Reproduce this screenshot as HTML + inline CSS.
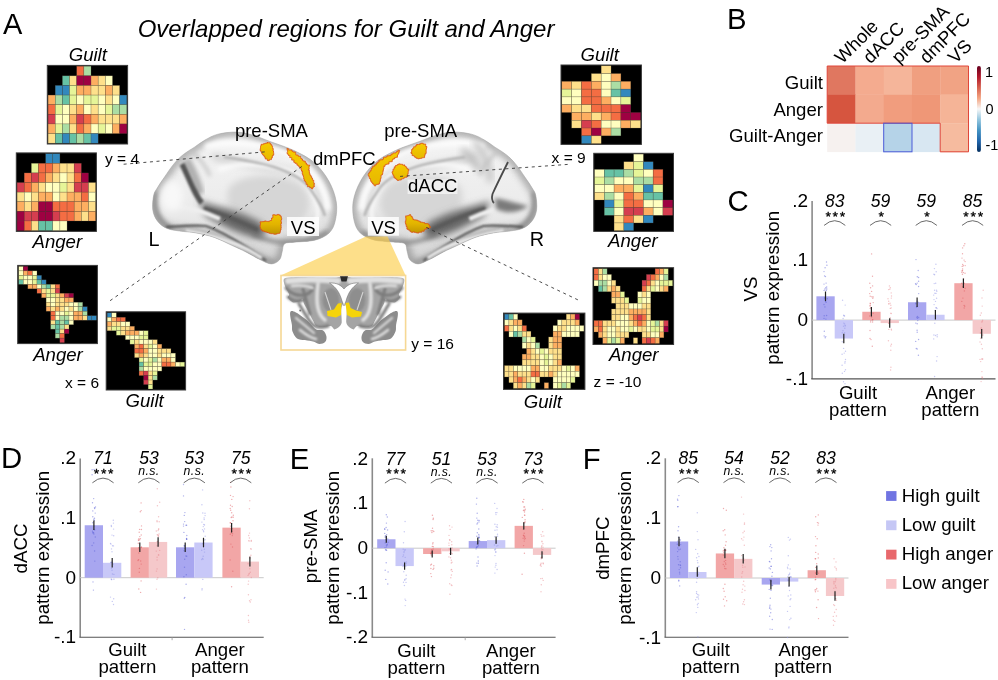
<!DOCTYPE html>
<html><head><meta charset="utf-8"><title>Overlapped regions for Guilt and Anger</title>
<style>
html,body{margin:0;padding:0;background:#fff;width:998px;height:680px;overflow:hidden;}
svg{display:block;}
text{font-family:"Liberation Sans", Arial, sans-serif;}
</style></head><body>
<svg width="998" height="680" viewBox="0 0 998 680">
<rect x="0" y="0" width="998" height="680" fill="#fff"/>
<defs><linearGradient id="blg" x1="0" y1="0" x2="0" y2="1"><stop offset="0" stop-color="#f6cb00"/><stop offset="1" stop-color="#e6b800"/></linearGradient><linearGradient id="blg2" x1="0" y1="0" x2="0" y2="1"><stop offset="0" stop-color="#f0c400"/><stop offset="0.5" stop-color="#e2b400"/><stop offset="1" stop-color="#c09600"/></linearGradient></defs>
<defs><linearGradient id="bgr" x1="0" y1="0" x2="0" y2="1"><stop offset="0" stop-color="#f4f4f4"/><stop offset="0.6" stop-color="#ebebeb"/><stop offset="1" stop-color="#d0d0d0"/></linearGradient><filter id="bl" x="-30%" y="-30%" width="160%" height="160%"><feGaussianBlur stdDeviation="2.2"/></filter><filter id="bl3" x="-30%" y="-30%" width="160%" height="160%"><feGaussianBlur stdDeviation="3.5"/></filter><filter id="bl1" x="-30%" y="-30%" width="160%" height="160%"><feGaussianBlur stdDeviation="1.1"/></filter><filter id="bl05" x="-30%" y="-30%" width="160%" height="160%"><feGaussianBlur stdDeviation="0.6"/></filter><clipPath id="lbclip"><path d="M217.9,134.2 C223.2,132.9 230.7,131.9 236.5,132.1 C242.3,132.3 247.3,133.6 252.9,135.2 C258.5,136.8 263.1,138.9 270.0,141.5 C276.9,144.1 286.7,147.0 294.1,150.6 C301.6,154.2 308.9,157.8 314.7,163.0 C320.5,168.2 325.5,175.0 329.1,181.5 C332.7,188.0 335.3,195.6 336.3,202.1 C337.3,208.6 336.5,215.4 335.3,220.6 C334.1,225.8 332.5,229.7 329.1,233.0 C325.7,236.3 320.5,238.7 314.7,240.2 C308.9,241.7 299.1,241.6 294.1,242.2 C289.1,242.8 286.5,242.2 284.5,243.8 C282.5,245.4 283.0,248.8 282.2,251.5 C281.4,254.2 281.3,257.7 279.5,259.8 C277.7,261.9 274.6,263.9 271.4,263.9 C268.1,263.9 264.2,261.6 260.0,259.6 C255.8,257.6 250.5,254.3 246.0,252.0 C241.5,249.7 238.1,248.2 232.8,245.8 C227.5,243.4 220.5,239.7 214.4,237.5 C208.3,235.3 201.8,234.0 196.0,232.9 C190.2,231.8 184.3,231.8 179.4,231.0 C174.5,230.2 170.3,230.0 166.6,228.3 C162.9,226.6 159.7,224.1 157.4,221.0 C155.1,217.9 153.4,214.2 152.8,209.9 C152.2,205.6 152.9,198.9 153.7,195.2 C154.5,191.5 155.6,190.9 157.4,187.8 C159.2,184.7 161.9,180.8 164.7,176.8 C167.4,172.8 170.8,167.6 173.9,163.9 C177.0,160.2 179.7,157.4 183.1,154.7 C186.5,151.9 190.4,149.8 194.1,147.4 C197.8,145.0 201.0,142.2 205.0,140.0 C209.0,137.8 212.7,135.5 217.9,134.2 Z"/></clipPath></defs>
<defs><clipPath id="rbclip"><path d="M217.9,134.2 C223.2,132.9 230.7,131.9 236.5,132.1 C242.3,132.3 247.3,133.6 252.9,135.2 C258.5,136.8 263.1,138.9 270.0,141.5 C276.9,144.1 286.7,147.0 294.1,150.6 C301.6,154.2 308.9,157.8 314.7,163.0 C320.5,168.2 325.5,175.0 329.1,181.5 C332.7,188.0 335.3,195.6 336.3,202.1 C337.3,208.6 336.5,215.4 335.3,220.6 C334.1,225.8 332.5,229.7 329.1,233.0 C325.7,236.3 320.5,238.7 314.7,240.2 C308.9,241.7 299.1,241.6 294.1,242.2 C289.1,242.8 286.5,242.2 284.5,243.8 C282.5,245.4 283.0,248.8 282.2,251.5 C281.4,254.2 281.3,257.7 279.5,259.8 C277.7,261.9 274.6,263.9 271.4,263.9 C268.1,263.9 264.2,261.6 260.0,259.6 C255.8,257.6 250.5,254.3 246.0,252.0 C241.5,249.7 238.1,248.2 232.8,245.8 C227.5,243.4 220.5,239.7 214.4,237.5 C208.3,235.3 201.8,234.0 196.0,232.9 C190.2,231.8 184.3,231.8 179.4,231.0 C174.5,230.2 170.3,230.0 166.6,228.3 C162.9,226.6 159.7,224.1 157.4,221.0 C155.1,217.9 153.4,214.2 152.8,209.9 C152.2,205.6 152.9,198.9 153.7,195.2 C154.5,191.5 155.6,190.9 157.4,187.8 C159.2,184.7 161.9,180.8 164.7,176.8 C167.4,172.8 170.8,167.6 173.9,163.9 C177.0,160.2 179.7,157.4 183.1,154.7 C186.5,151.9 190.4,149.8 194.1,147.4 C197.8,145.0 201.0,142.2 205.0,140.0 C209.0,137.8 212.7,135.5 217.9,134.2 Z" transform="translate(689.4,0) scale(-1,1)"/></clipPath></defs>
<g>
<path d="M217.9,134.2 C223.2,132.9 230.7,131.9 236.5,132.1 C242.3,132.3 247.3,133.6 252.9,135.2 C258.5,136.8 263.1,138.9 270.0,141.5 C276.9,144.1 286.7,147.0 294.1,150.6 C301.6,154.2 308.9,157.8 314.7,163.0 C320.5,168.2 325.5,175.0 329.1,181.5 C332.7,188.0 335.3,195.6 336.3,202.1 C337.3,208.6 336.5,215.4 335.3,220.6 C334.1,225.8 332.5,229.7 329.1,233.0 C325.7,236.3 320.5,238.7 314.7,240.2 C308.9,241.7 299.1,241.6 294.1,242.2 C289.1,242.8 286.5,242.2 284.5,243.8 C282.5,245.4 283.0,248.8 282.2,251.5 C281.4,254.2 281.3,257.7 279.5,259.8 C277.7,261.9 274.6,263.9 271.4,263.9 C268.1,263.9 264.2,261.6 260.0,259.6 C255.8,257.6 250.5,254.3 246.0,252.0 C241.5,249.7 238.1,248.2 232.8,245.8 C227.5,243.4 220.5,239.7 214.4,237.5 C208.3,235.3 201.8,234.0 196.0,232.9 C190.2,231.8 184.3,231.8 179.4,231.0 C174.5,230.2 170.3,230.0 166.6,228.3 C162.9,226.6 159.7,224.1 157.4,221.0 C155.1,217.9 153.4,214.2 152.8,209.9 C152.2,205.6 152.9,198.9 153.7,195.2 C154.5,191.5 155.6,190.9 157.4,187.8 C159.2,184.7 161.9,180.8 164.7,176.8 C167.4,172.8 170.8,167.6 173.9,163.9 C177.0,160.2 179.7,157.4 183.1,154.7 C186.5,151.9 190.4,149.8 194.1,147.4 C197.8,145.0 201.0,142.2 205.0,140.0 C209.0,137.8 212.7,135.5 217.9,134.2 Z" fill="url(#bgr)"/>
<g clip-path="url(#lbclip)">
<path d="M217.9,134.2 C223.2,132.9 230.7,131.9 236.5,132.1 C242.3,132.3 247.3,133.6 252.9,135.2 C258.5,136.8 263.1,138.9 270.0,141.5 C276.9,144.1 286.7,147.0 294.1,150.6 C301.6,154.2 308.9,157.8 314.7,163.0 C320.5,168.2 325.5,175.0 329.1,181.5 C332.7,188.0 335.3,195.6 336.3,202.1 C337.3,208.6 336.5,215.4 335.3,220.6 C334.1,225.8 332.5,229.7 329.1,233.0 C325.7,236.3 320.5,238.7 314.7,240.2 C308.9,241.7 299.1,241.6 294.1,242.2 C289.1,242.8 286.5,242.2 284.5,243.8 C282.5,245.4 283.0,248.8 282.2,251.5 C281.4,254.2 281.3,257.7 279.5,259.8 C277.7,261.9 274.6,263.9 271.4,263.9 C268.1,263.9 264.2,261.6 260.0,259.6 C255.8,257.6 250.5,254.3 246.0,252.0 C241.5,249.7 238.1,248.2 232.8,245.8 C227.5,243.4 220.5,239.7 214.4,237.5 C208.3,235.3 201.8,234.0 196.0,232.9 C190.2,231.8 184.3,231.8 179.4,231.0 C174.5,230.2 170.3,230.0 166.6,228.3 C162.9,226.6 159.7,224.1 157.4,221.0 C155.1,217.9 153.4,214.2 152.8,209.9 C152.2,205.6 152.9,198.9 153.7,195.2 C154.5,191.5 155.6,190.9 157.4,187.8 C159.2,184.7 161.9,180.8 164.7,176.8 C167.4,172.8 170.8,167.6 173.9,163.9 C177.0,160.2 179.7,157.4 183.1,154.7 C186.5,151.9 190.4,149.8 194.1,147.4 C197.8,145.0 201.0,142.2 205.0,140.0 C209.0,137.8 212.7,135.5 217.9,134.2 Z" fill="none" stroke="#8c8c8c" stroke-width="8" filter="url(#bl3)" opacity="0.75"/>
<path d="M212,156 C232,163 258,166 284,170 C300,174 314,184 320,200 C322,210 318,220 310,226" fill="none" stroke="#c6c6c6" stroke-width="5" filter="url(#bl3)"/>
<path d="M205,147 C225,140 262,142 292,156 C312,168 326,188 328,210" fill="none" stroke="#fcfcfc" stroke-width="6" filter="url(#bl)"/>
<path d="M230,186 C245,173 280,172 300,184 C312,194 313,211 302,221 C286,230 256,228 240,220 C228,212 224,196 230,186 Z" fill="#d6d6d6" filter="url(#bl3)"/>
<path d="M218,170 C238,162 268,163 292,172 C308,180 317,196 318,212 C318,222 312,230 302,234" fill="none" stroke="#fbfbfb" stroke-width="5" filter="url(#bl)"/>
<path d="M224,157 C245,160 262,163 274,167 C292,173 305,180 311,190 C318,200 323,208 325,216" fill="none" stroke="#b4b4b4" stroke-width="2.6" filter="url(#bl1)"/>
<path d="M252,234 C264,240 276,243 292,243 C305,242 318,239 328,232" fill="none" stroke="#8c8c8c" stroke-width="4" filter="url(#bl)"/>
<path d="M244,250 C256,254 268,260 276,264" fill="none" stroke="#9a9a9a" stroke-width="3" filter="url(#bl)"/>
<path d="M156,192 C152,208 158,222 172,229" fill="none" stroke="#8a8a8a" stroke-width="4" filter="url(#bl)"/>
<path d="M199,201 L212,205 L228,209 L245,215 L260,222 L267,230 L262,238 L248,236 L232,230 L218,223 L206,216 Z" fill="#666" filter="url(#bl3)"/>
<path d="M204,208 C220,214 238,220 258,230" fill="none" stroke="#5a5a5a" stroke-width="4" filter="url(#bl1)"/>
<path d="M174,206 C188,207 202,211 220,219" fill="none" stroke="#eeeeee" stroke-width="4.5" filter="url(#bl1)"/>
<path d="M166,227 C182,226 196,225 206,226 C218,230 232,238 246,247 C254,252 260,256 266,261" fill="none" stroke="#505050" stroke-width="2.2" filter="url(#bl1)"/>
<path d="M186,231 C205,234 222,239 238,245 C248,249 256,254 262,258" fill="none" stroke="#e8e8e8" stroke-width="3.5" filter="url(#bl1)"/>
<path d="M190,150 C200,158 206,166 210,176" fill="none" stroke="#c4c4c4" stroke-width="3" filter="url(#bl)"/>
<ellipse cx="172" cy="196" rx="11" ry="15" fill="#f8f8f8" filter="url(#bl3)"/>
<path d="M186,160 C192,170 197,182 200,194" fill="none" stroke="#b0b0b0" stroke-width="9" filter="url(#bl)"/>
<path d="M182,164 C186,172 190,182 194,190 C197,196 199,200 202,203" fill="none" stroke="#555" stroke-width="5.5" filter="url(#bl1)"/>
</g>
<path d="M217.9,134.2 C223.2,132.9 230.7,131.9 236.5,132.1 C242.3,132.3 247.3,133.6 252.9,135.2 C258.5,136.8 263.1,138.9 270.0,141.5 C276.9,144.1 286.7,147.0 294.1,150.6 C301.6,154.2 308.9,157.8 314.7,163.0 C320.5,168.2 325.5,175.0 329.1,181.5 C332.7,188.0 335.3,195.6 336.3,202.1 C337.3,208.6 336.5,215.4 335.3,220.6 C334.1,225.8 332.5,229.7 329.1,233.0 C325.7,236.3 320.5,238.7 314.7,240.2 C308.9,241.7 299.1,241.6 294.1,242.2 C289.1,242.8 286.5,242.2 284.5,243.8 C282.5,245.4 283.0,248.8 282.2,251.5 C281.4,254.2 281.3,257.7 279.5,259.8 C277.7,261.9 274.6,263.9 271.4,263.9 C268.1,263.9 264.2,261.6 260.0,259.6 C255.8,257.6 250.5,254.3 246.0,252.0 C241.5,249.7 238.1,248.2 232.8,245.8 C227.5,243.4 220.5,239.7 214.4,237.5 C208.3,235.3 201.8,234.0 196.0,232.9 C190.2,231.8 184.3,231.8 179.4,231.0 C174.5,230.2 170.3,230.0 166.6,228.3 C162.9,226.6 159.7,224.1 157.4,221.0 C155.1,217.9 153.4,214.2 152.8,209.9 C152.2,205.6 152.9,198.9 153.7,195.2 C154.5,191.5 155.6,190.9 157.4,187.8 C159.2,184.7 161.9,180.8 164.7,176.8 C167.4,172.8 170.8,167.6 173.9,163.9 C177.0,160.2 179.7,157.4 183.1,154.7 C186.5,151.9 190.4,149.8 194.1,147.4 C197.8,145.0 201.0,142.2 205.0,140.0 C209.0,137.8 212.7,135.5 217.9,134.2 Z" fill="none" stroke="#a0a0a0" stroke-width="0.5"/>
</g>
<g transform="translate(689.4,0) scale(-1,1)">
<path d="M217.9,134.2 C223.2,132.9 230.7,131.9 236.5,132.1 C242.3,132.3 247.3,133.6 252.9,135.2 C258.5,136.8 263.1,138.9 270.0,141.5 C276.9,144.1 286.7,147.0 294.1,150.6 C301.6,154.2 308.9,157.8 314.7,163.0 C320.5,168.2 325.5,175.0 329.1,181.5 C332.7,188.0 335.3,195.6 336.3,202.1 C337.3,208.6 336.5,215.4 335.3,220.6 C334.1,225.8 332.5,229.7 329.1,233.0 C325.7,236.3 320.5,238.7 314.7,240.2 C308.9,241.7 299.1,241.6 294.1,242.2 C289.1,242.8 286.5,242.2 284.5,243.8 C282.5,245.4 283.0,248.8 282.2,251.5 C281.4,254.2 281.3,257.7 279.5,259.8 C277.7,261.9 274.6,263.9 271.4,263.9 C268.1,263.9 264.2,261.6 260.0,259.6 C255.8,257.6 250.5,254.3 246.0,252.0 C241.5,249.7 238.1,248.2 232.8,245.8 C227.5,243.4 220.5,239.7 214.4,237.5 C208.3,235.3 201.8,234.0 196.0,232.9 C190.2,231.8 184.3,231.8 179.4,231.0 C174.5,230.2 170.3,230.0 166.6,228.3 C162.9,226.6 159.7,224.1 157.4,221.0 C155.1,217.9 153.4,214.2 152.8,209.9 C152.2,205.6 152.9,198.9 153.7,195.2 C154.5,191.5 155.6,190.9 157.4,187.8 C159.2,184.7 161.9,180.8 164.7,176.8 C167.4,172.8 170.8,167.6 173.9,163.9 C177.0,160.2 179.7,157.4 183.1,154.7 C186.5,151.9 190.4,149.8 194.1,147.4 C197.8,145.0 201.0,142.2 205.0,140.0 C209.0,137.8 212.7,135.5 217.9,134.2 Z" fill="url(#bgr)"/>
<g clip-path="url(#lbclip)">
<path d="M217.9,134.2 C223.2,132.9 230.7,131.9 236.5,132.1 C242.3,132.3 247.3,133.6 252.9,135.2 C258.5,136.8 263.1,138.9 270.0,141.5 C276.9,144.1 286.7,147.0 294.1,150.6 C301.6,154.2 308.9,157.8 314.7,163.0 C320.5,168.2 325.5,175.0 329.1,181.5 C332.7,188.0 335.3,195.6 336.3,202.1 C337.3,208.6 336.5,215.4 335.3,220.6 C334.1,225.8 332.5,229.7 329.1,233.0 C325.7,236.3 320.5,238.7 314.7,240.2 C308.9,241.7 299.1,241.6 294.1,242.2 C289.1,242.8 286.5,242.2 284.5,243.8 C282.5,245.4 283.0,248.8 282.2,251.5 C281.4,254.2 281.3,257.7 279.5,259.8 C277.7,261.9 274.6,263.9 271.4,263.9 C268.1,263.9 264.2,261.6 260.0,259.6 C255.8,257.6 250.5,254.3 246.0,252.0 C241.5,249.7 238.1,248.2 232.8,245.8 C227.5,243.4 220.5,239.7 214.4,237.5 C208.3,235.3 201.8,234.0 196.0,232.9 C190.2,231.8 184.3,231.8 179.4,231.0 C174.5,230.2 170.3,230.0 166.6,228.3 C162.9,226.6 159.7,224.1 157.4,221.0 C155.1,217.9 153.4,214.2 152.8,209.9 C152.2,205.6 152.9,198.9 153.7,195.2 C154.5,191.5 155.6,190.9 157.4,187.8 C159.2,184.7 161.9,180.8 164.7,176.8 C167.4,172.8 170.8,167.6 173.9,163.9 C177.0,160.2 179.7,157.4 183.1,154.7 C186.5,151.9 190.4,149.8 194.1,147.4 C197.8,145.0 201.0,142.2 205.0,140.0 C209.0,137.8 212.7,135.5 217.9,134.2 Z" fill="none" stroke="#8c8c8c" stroke-width="8" filter="url(#bl3)" opacity="0.75"/>
<path d="M212,156 C232,163 258,166 284,170 C300,174 314,184 320,200 C322,210 318,220 310,226" fill="none" stroke="#c6c6c6" stroke-width="5" filter="url(#bl3)"/>
<path d="M205,147 C225,140 262,142 292,156 C312,168 326,188 328,210" fill="none" stroke="#fcfcfc" stroke-width="6" filter="url(#bl)"/>
<path d="M230,186 C245,173 280,172 300,184 C312,194 313,211 302,221 C286,230 256,228 240,220 C228,212 224,196 230,186 Z" fill="#d6d6d6" filter="url(#bl3)"/>
<path d="M218,170 C238,162 268,163 292,172 C308,180 317,196 318,212 C318,222 312,230 302,234" fill="none" stroke="#fbfbfb" stroke-width="5" filter="url(#bl)"/>
<path d="M224,157 C245,160 262,163 274,167 C292,173 305,180 311,190 C318,200 323,208 325,216" fill="none" stroke="#b4b4b4" stroke-width="2.6" filter="url(#bl1)"/>
<path d="M252,234 C264,240 276,243 292,243 C305,242 318,239 328,232" fill="none" stroke="#8c8c8c" stroke-width="4" filter="url(#bl)"/>
<path d="M244,250 C256,254 268,260 276,264" fill="none" stroke="#9a9a9a" stroke-width="3" filter="url(#bl)"/>
<path d="M156,192 C152,208 158,222 172,229" fill="none" stroke="#8a8a8a" stroke-width="4" filter="url(#bl)"/>
<path d="M199,201 L212,205 L228,209 L245,215 L260,222 L267,230 L262,238 L248,236 L232,230 L218,223 L206,216 Z" fill="#666" filter="url(#bl3)"/>
<path d="M204,208 C220,214 238,220 258,230" fill="none" stroke="#5a5a5a" stroke-width="4" filter="url(#bl1)"/>
<path d="M174,206 C188,207 202,211 220,219" fill="none" stroke="#eeeeee" stroke-width="4.5" filter="url(#bl1)"/>
<path d="M166,227 C182,226 196,225 206,226 C218,230 232,238 246,247 C254,252 260,256 266,261" fill="none" stroke="#505050" stroke-width="2.2" filter="url(#bl1)"/>
<path d="M186,231 C205,234 222,239 238,245 C248,249 256,254 262,258" fill="none" stroke="#e8e8e8" stroke-width="3.5" filter="url(#bl1)"/>
<path d="M190,150 C200,158 206,166 210,176" fill="none" stroke="#c4c4c4" stroke-width="3" filter="url(#bl)"/>
</g>
<path d="M217.9,134.2 C223.2,132.9 230.7,131.9 236.5,132.1 C242.3,132.3 247.3,133.6 252.9,135.2 C258.5,136.8 263.1,138.9 270.0,141.5 C276.9,144.1 286.7,147.0 294.1,150.6 C301.6,154.2 308.9,157.8 314.7,163.0 C320.5,168.2 325.5,175.0 329.1,181.5 C332.7,188.0 335.3,195.6 336.3,202.1 C337.3,208.6 336.5,215.4 335.3,220.6 C334.1,225.8 332.5,229.7 329.1,233.0 C325.7,236.3 320.5,238.7 314.7,240.2 C308.9,241.7 299.1,241.6 294.1,242.2 C289.1,242.8 286.5,242.2 284.5,243.8 C282.5,245.4 283.0,248.8 282.2,251.5 C281.4,254.2 281.3,257.7 279.5,259.8 C277.7,261.9 274.6,263.9 271.4,263.9 C268.1,263.9 264.2,261.6 260.0,259.6 C255.8,257.6 250.5,254.3 246.0,252.0 C241.5,249.7 238.1,248.2 232.8,245.8 C227.5,243.4 220.5,239.7 214.4,237.5 C208.3,235.3 201.8,234.0 196.0,232.9 C190.2,231.8 184.3,231.8 179.4,231.0 C174.5,230.2 170.3,230.0 166.6,228.3 C162.9,226.6 159.7,224.1 157.4,221.0 C155.1,217.9 153.4,214.2 152.8,209.9 C152.2,205.6 152.9,198.9 153.7,195.2 C154.5,191.5 155.6,190.9 157.4,187.8 C159.2,184.7 161.9,180.8 164.7,176.8 C167.4,172.8 170.8,167.6 173.9,163.9 C177.0,160.2 179.7,157.4 183.1,154.7 C186.5,151.9 190.4,149.8 194.1,147.4 C197.8,145.0 201.0,142.2 205.0,140.0 C209.0,137.8 212.7,135.5 217.9,134.2 Z" fill="none" stroke="#a0a0a0" stroke-width="0.5"/>
</g>
<g clip-path="url(#rbclip)">
<path d="M462,150 C470,156 476,162 480,170" fill="none" stroke="#bdbdbd" stroke-width="7" filter="url(#bl3)"/>
<path d="M474,142 C484,152 490,166 490,182" fill="none" stroke="#c0c0c0" stroke-width="6" filter="url(#bl3)"/>
<path d="M508,162 C503,172 497,184 492.5,194 C491.5,198 492,201 494,203" fill="none" stroke="#4a4a4a" stroke-width="1.8" filter="url(#bl05)"/>
<path d="M495,198 C505,200 516,203 528,206 C520,213 505,214 496,209 Z" fill="#7a7a7a" filter="url(#bl)"/>
</g>
<path d="M261.2,144.3 L262.2,144.3 L263.5,144.3 L263.5,143.7 L265.0,143.7 L265.0,143.4 L265.7,143.4 L265.7,143.1 L267.5,143.1 L267.5,142.1 L267.3,142.7 L268.5,142.7 L269.6,142.7 L269.6,143.1 L270.4,143.1 L270.4,144.3 L271.2,144.3 L271.2,144.4 L271.6,144.5 L271.6,145.5 L272.1,145.5 L272.1,146.4 L272.6,146.4 L272.6,147.4 L272.6,148.6 L273.3,148.6 L273.1,150.2 L273.0,150.2 L273.0,151.0 L273.0,151.0 L273.5,151.0 L273.5,152.6 L273.7,152.6 L273.7,153.7 L273.7,155.1 L273.6,155.1 L273.0,154.8 L273.0,155.9 L272.3,155.9 L272.3,157.1 L272.3,157.9 L271.7,157.9 L271.5,157.9 L271.5,158.8 L271.4,159.6 L270.4,159.6 L269.3,159.6 L269.3,160.0 L269.3,160.6 L268.1,160.6 L267.4,160.5 L267.4,159.5 L267.4,159.0 L266.3,159.0 L265.3,159.0 L265.3,158.1 L265.3,157.1 L264.3,157.1 L264.3,155.6 L263.2,155.6 L263.2,154.5 L262.5,154.5 L262.2,154.0 L261.9,154.0 L261.9,152.7 L261.4,152.7 L261.4,151.3 L260.6,151.3 L260.6,150.4 L260.1,150.4 L260.2,150.6 L260.2,149.5 L260.2,148.6 L260.4,148.6 L260.5,148.6 L260.5,147.2 L260.5,146.6 L260.5,146.6 L260.7,145.7 L261.2,145.7 L261.2,144.7 L261.0,144.7 Z" fill="url(#blg)" stroke="#dc5418" stroke-width="0.85" stroke-linejoin="miter"/>
<path d="M288.4,148.6 L288.4,149.4 L288.4,149.9 L289.0,149.9 L289.0,150.0 L290.6,150.0 L291.8,150.0 L291.8,150.7 L291.8,151.1 L292.9,151.1 L292.9,152.0 L294.4,152.0 L295.1,151.7 L295.1,152.6 L295.8,152.6 L295.8,153.7 L295.8,155.0 L297.1,155.0 L298.2,155.0 L298.2,155.6 L298.2,156.3 L299.1,156.3 L300.6,156.3 L300.6,157.5 L300.6,158.3 L301.6,158.3 L301.6,159.1 L302.6,159.1 L302.3,160.3 L303.2,160.3 L303.2,161.1 L304.1,161.1 L305.3,161.1 L305.3,162.0 L305.3,163.0 L306.7,163.0 L306.4,164.3 L307.3,164.3 L307.3,165.1 L308.4,165.1 L309.7,165.1 L309.7,166.1 L309.0,166.1 L309.0,167.3 L309.0,168.0 L309.1,168.0 L309.1,169.5 L308.4,169.5 L308.5,170.4 L308.9,170.4 L309.4,170.4 L309.4,171.5 L309.4,173.2 L309.8,173.2 L309.8,174.3 L309.9,174.3 L309.9,175.1 L310.9,175.1 L310.9,175.3 L310.9,176.6 L311.6,176.6 L311.6,178.0 L312.4,178.0 L312.4,179.3 L312.8,179.3 L312.8,180.5 L313.8,180.5 L313.8,181.2 L313.6,181.5 L313.6,182.7 L313.6,183.2 L314.4,183.2 L314.4,184.4 L313.9,184.4 L313.9,185.4 L314.2,185.4 L314.2,186.4 L314.6,186.4 L313.4,186.7 L313.4,187.4 L312.7,187.4 L312.7,188.9 L311.5,188.7 L311.5,187.9 L311.5,187.9 L310.7,187.9 L310.7,187.5 L309.7,187.5 L309.7,186.5 L308.5,186.5 L307.6,186.7 L307.6,185.4 L307.6,184.3 L307.2,184.3 L306.1,184.3 L306.1,183.6 L306.1,182.3 L305.7,182.3 L305.4,181.1 L304.9,181.1 L304.3,181.1 L304.3,180.1 L304.3,179.2 L304.0,179.2 L304.0,178.8 L303.8,178.8 L303.7,178.8 L303.7,177.2 L303.4,176.2 L303.0,176.2 L303.2,176.2 L303.2,175.1 L302.7,175.1 L302.7,173.7 L302.2,173.7 L302.2,172.4 L302.5,172.4 L302.5,171.0 L301.5,171.2 L301.5,170.0 L301.1,170.0 L301.1,169.1 L301.1,167.9 L300.5,167.9 L300.1,167.9 L300.1,167.3 L299.2,167.3 L299.2,166.2 L298.1,166.1 L298.1,165.1 L296.9,165.1 L296.9,164.2 L296.9,163.3 L296.2,163.3 L295.0,163.3 L295.0,162.3 L293.8,162.3 L293.8,161.0 L294.1,160.1 L292.9,160.1 L291.7,160.1 L291.7,158.8 L291.7,157.6 L291.0,157.6 L289.7,157.6 L289.7,156.6 L290.0,155.5 L289.7,155.5 L288.5,155.5 L288.5,154.8 L288.1,154.8 L288.1,153.9 L287.2,153.9 L287.2,152.4 L287.5,151.8 L287.6,151.8 L287.6,150.3 L287.3,150.3 L287.2,150.3 L287.2,149.8 L287.2,148.6 L286.8,148.6 Z" fill="url(#blg)" stroke="#dc5418" stroke-width="0.85" stroke-linejoin="miter"/>
<path d="M261.2,221.9 L261.2,221.8 L262.5,221.8 L262.5,221.6 L263.1,221.6 L263.1,221.6 L264.4,221.6 L264.4,221.5 L264.4,221.0 L265.8,221.0 L265.6,221.2 L266.5,221.2 L266.5,221.4 L267.8,221.4 L267.8,221.6 L268.6,221.6 L268.6,221.2 L269.9,221.2 L270.0,220.5 L270.6,220.5 L271.5,220.5 L271.5,219.5 L271.5,218.0 L272.2,218.0 L272.8,218.0 L272.8,216.7 L272.8,216.7 L272.8,216.3 L272.8,214.8 L273.6,214.8 L273.5,214.7 L274.7,214.7 L274.7,215.1 L276.0,215.1 L276.0,215.0 L277.5,215.0 L277.5,214.4 L278.6,214.4 L278.6,214.9 L280.0,214.9 L279.7,215.4 L280.3,215.4 L280.7,215.4 L280.7,216.5 L281.3,216.5 L281.3,218.1 L281.7,218.1 L281.7,218.7 L281.5,220.0 L281.3,220.0 L281.0,220.0 L281.0,221.0 L281.0,221.8 L281.4,221.8 L281.4,223.0 L281.5,223.0 L281.2,223.9 L281.0,223.9 L280.8,223.9 L280.8,225.1 L281.1,225.1 L281.1,226.3 L281.1,227.6 L281.3,227.6 L281.0,227.7 L281.0,228.8 L281.0,230.1 L280.5,230.1 L280.5,231.2 L280.3,231.2 L280.3,232.2 L280.0,232.2 L280.0,233.3 L279.5,233.3 L278.5,233.4 L278.5,233.6 L277.3,233.6 L277.3,233.9 L276.3,233.9 L276.3,234.1 L276.3,234.2 L275.1,234.2 L275.0,234.2 L273.7,234.2 L273.7,233.7 L272.4,233.7 L271.9,233.7 L271.9,233.7 L270.5,233.7 L270.5,233.7 L270.4,233.3 L269.2,233.3 L269.2,232.8 L268.1,232.8 L268.1,232.5 L266.8,232.5 L266.8,231.9 L265.9,231.9 L264.7,231.9 L264.7,231.4 L263.9,231.4 L263.9,230.9 L262.5,231.2 L262.5,230.5 L261.7,230.5 L261.7,229.2 L260.4,229.2 L260.4,228.8 L260.3,227.1 L260.1,227.1 L260.1,226.5 L260.1,226.5 L260.1,225.0 L260.1,225.0 L260.4,225.0 L260.4,224.3 L260.4,222.9 L260.0,222.9 L260.1,222.9 L260.1,221.8 Z" fill="url(#blg2)" stroke="#dc5418" stroke-width="0.85" stroke-linejoin="miter"/>
<path d="M412.6,149.6 L412.6,148.3 L413.6,148.3 L413.6,147.3 L413.6,146.8 L415.2,146.8 L415.7,146.8 L415.7,145.5 L416.7,145.5 L416.7,144.2 L416.9,144.5 L418.4,144.5 L419.6,144.5 L419.6,143.8 L419.6,144.0 L420.7,144.0 L420.7,143.3 L422.1,143.3 L423.2,143.3 L423.2,143.4 L423.1,144.1 L424.2,144.1 L425.7,144.1 L425.7,145.5 L425.7,146.6 L426.9,146.6 L426.8,146.5 L426.8,147.7 L426.5,147.7 L426.5,148.9 L426.2,148.9 L426.2,150.4 L426.0,150.4 L426.0,151.5 L426.2,151.5 L426.2,152.7 L426.1,152.7 L426.1,153.5 L425.2,153.5 L425.2,154.8 L424.8,154.8 L424.8,155.9 L424.6,155.9 L424.6,157.1 L424.6,157.6 L423.8,157.6 L422.9,157.8 L422.9,157.8 L421.4,157.8 L421.4,158.1 L421.4,158.5 L420.5,158.5 L419.3,158.5 L419.3,158.7 L419.3,158.8 L417.8,158.8 L417.9,158.3 L416.8,158.3 L416.1,158.3 L416.1,157.3 L414.8,157.3 L414.8,156.6 L414.1,156.6 L414.1,156.2 L414.1,155.6 L412.5,155.6 L412.2,155.8 L412.2,154.5 L412.1,154.5 L412.1,153.4 L411.0,153.4 L411.0,152.0 L411.6,152.3 L411.6,151.2 L411.6,150.3 L411.6,150.3 L411.6,149.6 L411.5,149.6 Z" fill="url(#blg)" stroke="#dc5418" stroke-width="0.85" stroke-linejoin="miter"/>
<path d="M368.5,173.3 L369.3,173.3 L369.3,172.1 L370.2,172.1 L370.2,170.7 L370.2,170.7 L371.3,170.7 L371.3,169.8 L371.3,168.1 L371.9,168.1 L372.7,168.1 L372.7,166.8 L372.6,166.2 L373.7,166.2 L374.8,166.2 L374.8,164.8 L376.4,164.8 L376.4,163.1 L377.8,163.1 L377.8,161.9 L379.1,161.9 L379.1,161.2 L378.8,160.2 L380.3,160.2 L380.3,159.8 L381.0,159.8 L382.7,159.8 L382.7,159.1 L383.5,159.1 L383.5,157.9 L383.5,157.3 L384.5,157.3 L385.7,157.3 L385.7,156.9 L387.1,156.8 L387.1,156.5 L387.1,155.8 L388.3,155.8 L389.3,155.8 L389.3,155.6 L391.0,155.6 L391.0,155.0 L391.0,154.1 L392.2,154.1 L392.9,154.1 L392.9,153.4 L393.2,152.9 L394.8,152.9 L396.0,152.9 L396.0,152.8 L396.0,151.9 L396.8,151.9 L396.8,151.4 L397.9,151.4 L397.9,150.3 L399.7,150.3 L399.4,151.5 L398.9,151.5 L398.9,152.6 L399.2,152.6 L398.7,152.6 L398.7,153.6 L398.2,153.6 L398.2,154.5 L397.5,154.8 L397.5,156.2 L397.5,157.2 L396.0,157.2 L396.0,157.7 L395.3,157.7 L394.5,157.7 L394.5,158.9 L392.9,158.9 L392.9,160.0 L392.2,160.0 L392.2,160.8 L392.2,161.7 L391.3,161.7 L390.3,161.7 L390.3,161.9 L388.9,161.9 L388.9,163.2 L389.1,164.0 L388.0,164.0 L387.4,164.0 L387.4,164.2 L386.2,164.2 L386.2,164.8 L385.0,164.8 L385.0,165.2 L385.0,166.4 L384.3,166.4 L383.8,166.1 L383.8,167.2 L383.8,168.8 L383.4,168.8 L383.4,170.0 L383.2,170.0 L383.2,171.2 L383.3,171.2 L382.8,171.2 L382.8,172.4 L382.9,173.5 L382.5,173.5 L382.5,174.7 L382.0,174.7 L382.0,175.0 L381.8,175.0 L381.1,175.0 L381.1,176.5 L381.1,177.5 L381.1,177.5 L380.9,178.7 L380.4,178.7 L380.4,179.8 L380.3,179.8 L380.3,181.3 L379.9,181.3 L379.9,182.4 L379.5,182.4 L379.5,183.8 L378.6,183.8 L378.8,184.2 L377.8,184.2 L377.8,184.4 L376.9,184.4 L375.8,184.4 L375.8,185.2 L375.8,185.8 L374.8,185.8 L374.1,185.6 L374.1,184.2 L373.1,184.2 L373.1,183.7 L372.5,183.7 L372.5,182.6 L371.6,182.6 L371.6,181.3 L370.8,181.5 L370.8,180.3 L370.4,180.3 L370.4,179.1 L370.4,178.5 L370.0,178.5 L369.4,178.5 L369.4,177.7 L369.2,177.4 L369.2,176.2 L368.6,176.2 L368.6,175.6 L368.2,175.6 L368.2,174.4 Z" fill="url(#blg)" stroke="#dc5418" stroke-width="0.85" stroke-linejoin="miter"/>
<path d="M395.5,167.1 L395.5,166.7 L395.5,165.5 L396.2,165.5 L397.3,165.5 L397.3,165.4 L397.3,164.5 L398.6,164.5 L398.6,163.9 L399.6,163.9 L399.4,164.0 L400.5,164.0 L400.5,164.3 L401.7,164.3 L402.6,164.3 L402.6,164.9 L402.6,165.1 L403.2,165.1 L404.5,165.1 L404.5,164.8 L404.5,166.0 L405.6,166.0 L405.6,166.9 L406.7,166.9 L406.7,168.5 L407.6,168.5 L407.6,169.3 L408.7,169.3 L408.7,169.2 L408.7,170.7 L408.2,170.7 L408.2,171.7 L408.2,172.5 L408.2,172.5 L408.2,173.7 L408.0,173.7 L407.7,173.7 L407.7,175.0 L407.7,176.2 L407.3,176.2 L407.6,176.6 L406.7,176.6 L406.7,177.3 L405.2,177.3 L404.6,177.3 L404.6,177.8 L404.6,178.1 L403.4,178.1 L403.5,178.8 L402.2,178.8 L401.4,178.8 L401.4,179.6 L401.4,179.9 L400.8,179.9 L400.8,180.0 L399.7,180.0 L398.6,180.0 L398.6,180.5 L397.5,180.5 L397.5,179.7 L396.5,179.7 L396.5,178.8 L395.5,178.8 L395.5,177.9 L394.0,177.9 L394.0,177.5 L394.3,176.3 L393.7,176.3 L393.7,175.3 L393.3,175.3 L393.1,175.3 L393.1,174.2 L392.6,174.2 L392.6,173.1 L392.1,173.1 L392.1,172.5 L392.2,171.6 L392.7,171.6 L393.0,171.6 L393.0,170.3 L393.0,169.2 L393.4,169.2 L394.2,169.2 L394.2,168.0 L394.3,168.0 L394.3,166.8 Z" fill="url(#blg)" stroke="#dc5418" stroke-width="0.85" stroke-linejoin="miter"/>
<path d="M405.6,215.9 L406.5,215.9 L407.3,215.9 L407.3,215.7 L408.4,215.7 L408.4,215.3 L409.6,215.3 L409.6,214.6 L410.6,214.6 L410.6,214.7 L410.7,215.6 L411.1,215.6 L411.1,216.5 L412.0,216.5 L412.2,216.5 L412.2,217.8 L412.9,217.8 L412.9,218.3 L412.9,219.4 L414.0,219.4 L413.8,219.9 L415.1,219.9 L416.0,219.9 L416.0,220.1 L417.6,220.1 L417.6,220.8 L418.8,220.8 L418.8,221.2 L420.2,221.2 L420.2,221.8 L420.0,222.1 L421.3,222.1 L421.3,222.2 L422.6,222.2 L422.6,222.6 L423.3,222.6 L424.6,222.6 L424.6,223.0 L424.6,223.6 L426.1,223.6 L426.1,223.6 L427.5,223.6 L428.3,223.7 L428.3,224.8 L429.5,224.8 L429.5,226.1 L429.5,226.5 L430.4,226.5 L430.3,227.8 L429.4,227.8 L429.4,228.0 L428.1,228.0 L426.8,228.0 L426.8,228.6 L426.8,229.0 L425.9,229.0 L424.8,229.0 L424.8,229.7 L424.2,229.9 L424.2,230.1 L424.2,231.2 L422.7,231.2 L421.8,231.2 L421.8,231.3 L421.8,232.2 L420.2,232.2 L418.9,232.2 L418.9,232.3 L418.9,233.0 L417.7,233.0 L416.5,233.0 L416.5,232.5 L416.5,232.6 L415.4,232.6 L415.4,232.4 L414.4,232.4 L414.4,231.9 L413.1,231.9 L413.1,232.3 L412.0,232.3 L410.7,232.0 L410.7,231.2 L409.8,231.2 L409.8,230.1 L408.4,230.1 L408.4,229.4 L407.3,229.4 L407.3,228.6 L406.9,228.9 L406.9,227.6 L407.1,227.6 L407.1,226.5 L406.2,226.5 L406.2,225.1 L406.2,224.2 L405.7,224.2 L405.6,224.2 L405.6,222.7 L405.3,222.7 L405.3,221.3 L405.8,221.3 L405.8,220.0 L405.9,220.0 L405.9,219.0 L405.9,217.4 L405.6,217.4 L405.6,216.8 L405.9,216.8 Z" fill="url(#blg2)" stroke="#dc5418" stroke-width="0.85" stroke-linejoin="miter"/>
<rect x="287" y="217" width="32" height="19" fill="#fff" fill-opacity="0.85"/>
<rect x="367.8" y="217" width="31.099999999999966" height="18.69999999999999" fill="#fff" fill-opacity="0.85"/>
<rect x="407.6" y="179.5" width="49.89999999999998" height="14.5" fill="#fff" fill-opacity="0.6"/>
<text x="234.9" y="136.8" font-size="18.5" text-anchor="start" fill="#000" >pre-SMA</text>
<text x="313.0" y="165.2" font-size="18.5" text-anchor="start" fill="#000" >dmPFC</text>
<text x="290.8" y="233.6" font-size="18.5" text-anchor="start" fill="#000" >VS</text>
<text x="148.6" y="245.7" font-size="19.8" text-anchor="start" fill="#000" >L</text>
<text x="384.2" y="136.5" font-size="18.5" text-anchor="start" fill="#000" >pre-SMA</text>
<text x="408.0" y="191.8" font-size="18.5" text-anchor="start" fill="#000" >dACC</text>
<text x="371.2" y="233.6" font-size="18.5" text-anchor="start" fill="#000" >VS</text>
<text x="529.7" y="245.7" font-size="19.8" text-anchor="start" fill="#000" >R</text>
<path d="M366,236.5 L387.5,236.5 L405.6,275.5 L280.6,275.5 Z" fill="#fcce4b" fill-opacity="0.65"/>
<rect x="281" y="275.5" width="124.6" height="74.5" fill="#fff" stroke="#f6d894" stroke-width="1.6"/>
<defs><clipPath id="insclip"><rect x="281.8" y="276.3" width="123" height="72.9"/></clipPath></defs>
<g clip-path="url(#insclip)">
<path d="M284.5,278.4 C286.5,277.2 295.3,277.1 300.0,277.0 C304.7,276.9 315.2,277.4 320.0,277.5 C324.8,277.6 332.8,277.4 336.0,277.5 C339.2,277.6 342.9,275.0 344.0,278.0 C345.1,281.0 344.1,296.6 344.0,300.0 C343.9,303.4 343.8,302.1 343.4,303.3 C343.0,304.5 341.4,306.4 341.2,309.0 C341.0,311.6 342.0,320.2 341.7,322.6 C341.4,325.0 339.9,326.2 338.9,327.1 C337.9,328.0 335.5,329.5 334.4,329.4 C333.3,329.3 332.5,326.3 331.0,326.0 C329.5,325.7 325.0,327.1 323.0,327.1 C321.0,327.1 317.6,326.9 316.2,326.0 C314.8,325.1 313.9,322.3 312.8,320.3 C311.7,318.3 309.5,313.5 308.3,311.2 C307.1,308.9 304.6,305.0 303.8,303.3 C303.0,301.6 303.2,299.0 302.6,298.8 C302.0,298.6 300.6,301.1 299.3,301.6 C298.0,302.1 294.0,302.7 292.5,302.2 C291.0,301.7 288.4,298.7 287.9,297.6 C287.4,296.5 289.5,295.8 289.1,294.3 C288.7,292.8 285.7,288.4 285.1,286.3 C284.5,284.2 282.5,279.6 284.5,278.4 Z" fill="#a4a4a4" filter="url(#bl05)"/>
<path d="M403.5,278.4 C401.5,277.2 392.7,277.1 388.0,277.0 C383.3,276.9 372.8,277.4 368.0,277.5 C363.2,277.6 355.2,277.4 352.0,277.5 C348.8,277.6 345.1,275.0 344.0,278.0 C342.9,281.0 343.9,296.6 344.0,300.0 C344.1,303.4 344.2,302.1 344.6,303.3 C345.0,304.5 346.6,306.4 346.8,309.0 C347.0,311.6 346.0,320.2 346.3,322.6 C346.6,325.0 348.1,326.2 349.1,327.1 C350.1,328.0 352.5,329.5 353.6,329.4 C354.7,329.3 355.5,326.3 357.0,326.0 C358.5,325.7 363.0,327.1 365.0,327.1 C367.0,327.1 370.4,326.9 371.8,326.0 C373.2,325.1 374.1,322.3 375.2,320.3 C376.3,318.3 378.5,313.5 379.7,311.2 C380.9,308.9 383.4,305.0 384.2,303.3 C385.0,301.6 384.8,299.0 385.4,298.8 C386.0,298.6 387.4,301.1 388.7,301.6 C390.0,302.1 394.0,302.7 395.5,302.2 C397.0,301.7 399.6,298.7 400.1,297.6 C400.6,296.5 398.5,295.8 398.9,294.3 C399.3,292.8 402.3,288.4 402.9,286.3 C403.5,284.2 405.5,279.6 403.5,278.4 Z" fill="#a4a4a4" filter="url(#bl05)"/>
<path d="M290.8,311.2 C291.8,310.6 293.9,311.4 295.9,312.4 C297.9,313.3 300.5,315.4 302.6,316.9 C304.7,318.4 306.0,319.3 308.3,321.4 C310.6,323.5 313.8,327.9 316.2,329.4 C318.6,330.9 321.3,329.4 323.0,330.5 C324.7,331.6 326.0,334.3 326.4,336.2 C326.8,338.1 326.4,340.5 325.3,341.8 C324.2,343.1 321.5,344.1 319.6,344.1 C317.7,344.1 316.4,342.5 314.0,341.8 C311.6,341.1 307.7,340.7 304.9,340.1 C302.1,339.5 299.1,339.8 297.0,338.4 C294.9,337.0 293.4,333.9 292.5,331.6 C291.6,329.3 292.3,327.4 291.9,324.8 C291.5,322.2 290.4,318.1 290.2,315.8 C290.0,313.5 289.9,311.8 290.8,311.2 Z" fill="#8c8c8c" filter="url(#bl05)"/>
<path d="M397.2,311.2 C396.2,310.6 394.1,311.4 392.1,312.4 C390.1,313.3 387.5,315.4 385.4,316.9 C383.3,318.4 382.0,319.3 379.7,321.4 C377.4,323.5 374.2,327.9 371.8,329.4 C369.4,330.9 366.7,329.4 365.0,330.5 C363.3,331.6 362.0,334.3 361.6,336.2 C361.2,338.1 361.6,340.5 362.7,341.8 C363.8,343.1 366.5,344.1 368.4,344.1 C370.3,344.1 371.6,342.5 374.0,341.8 C376.4,341.1 380.3,340.7 383.1,340.1 C385.9,339.5 388.9,339.8 391.0,338.4 C393.1,337.0 394.6,333.9 395.5,331.6 C396.4,329.3 395.7,327.4 396.1,324.8 C396.5,322.2 397.6,318.1 397.8,315.8 C398.0,313.5 398.1,311.8 397.2,311.2 Z" fill="#8c8c8c" filter="url(#bl05)"/>
<g filter="url(#bl1)" fill="none" stroke="#7c7c7c" stroke-linecap="round">
<path d="M286,288 C290,293 297,296 304,295 C309,294 312,291 314,287" stroke-width="3"/>
<path d="M286,288 C290,293 297,296 304,295 C309,294 312,291 314,287" stroke-width="3" transform="translate(688,0) scale(-1,1)"/>
<path d="M288,297 C292,301 298,302 303,300" stroke-width="3"/>
<path d="M288,297 C292,301 298,302 303,300" stroke-width="3" transform="translate(688,0) scale(-1,1)"/>
<path d="M303,289 C305,296 307,304 310,314" stroke-width="3"/>
<path d="M303,289 C305,296 307,304 310,314" stroke-width="3" transform="translate(688,0) scale(-1,1)"/>
<path d="M299,304 C303,310 307,318 312,324 C316,328 322,328 328,326" stroke-width="3"/>
<path d="M299,304 C303,310 307,318 312,324 C316,328 322,328 328,326" stroke-width="3" transform="translate(688,0) scale(-1,1)"/>
</g>
<g filter="url(#bl1)" fill="#8e8e8e">
<ellipse cx="331" cy="300" rx="8.5" ry="12"/><ellipse cx="357" cy="300" rx="8.5" ry="12"/>
</g>
<g filter="url(#bl1)" fill="none" stroke="#e0e0e0" stroke-linecap="round">
<path d="M288,281 C302,279 320,279 338,281" stroke-width="6"/>
<path d="M288,281 C302,279 320,279 338,281" stroke-width="6" transform="translate(688,0) scale(-1,1)"/>
<path d="M318,284 C317,292 316,300 318,308 C319,313 321,317 325,320" stroke-width="3.6"/>
<path d="M318,284 C317,292 316,300 318,308 C319,313 321,317 325,320" stroke-width="3.6" transform="translate(688,0) scale(-1,1)"/>
<path d="M292,286 C300,285 308,286 313,288" stroke-width="2.5"/>
<path d="M292,286 C300,285 308,286 313,288" stroke-width="2.5" transform="translate(688,0) scale(-1,1)"/>
<path d="M300,330 C305,334 310,338 316,339" stroke-width="2.6"/>
<path d="M300,330 C305,334 310,338 316,339" stroke-width="2.6" transform="translate(688,0) scale(-1,1)"/>
<path d="M296,318 C302,323 308,328 314,333" stroke-width="2.2"/>
<path d="M296,318 C302,323 308,328 314,333" stroke-width="2.2" transform="translate(688,0) scale(-1,1)"/>
</g>
<g filter="url(#bl05)" fill="none" stroke="#d4d4d4" stroke-width="1.1">
<path d="M325,292 C327,298 329,304 331,310" />
<path d="M325,292 C327,298 329,304 331,310"  transform="translate(688,0) scale(-1,1)"/>
</g>
<path d="M329.5,283 C337,282.5 341,285.5 344,289 C347,285.5 351,282.5 358.5,283 C352,287 348,293 346,301 L344,306 L342,301 C340,293 336,287 329.5,283 Z" fill="#fff" stroke="#666" stroke-width="0.5"/>
<path d="M340,276 L348,276 L346.5,281.5 L341.5,281.5 Z" fill="#2a2a2a" filter="url(#bl05)"/>
<circle cx="300.2" cy="310.6" r="1" fill="#777"/>
</g>
<path d="M327,311 L334,309.5 L336.5,305.5 L338,303.5 L341.5,303 L341,315 L336,317.5 L327.5,316 Z" fill="#f5d40a"/>
<path d="M345.5,303 L349,302.5 L350.5,308 L356,310.5 L362,312 L361,316.5 L352,317.5 L347,315 Z" fill="#f5d40a"/>
<text x="411.3" y="349.0" font-size="15.5" text-anchor="start" fill="#000" >y = 16</text>
<line x1="264.7" y1="151.9" x2="121.8" y2="164.4" stroke="#383838" stroke-width="0.9" stroke-dasharray="3,3.6"/>
<line x1="301.8" y1="166.5" x2="109.1" y2="301.4" stroke="#383838" stroke-width="0.9" stroke-dasharray="3,3.6"/>
<line x1="400.1" y1="176.4" x2="570.7" y2="164.2" stroke="#383838" stroke-width="0.9" stroke-dasharray="3,3.6"/>
<line x1="426.3" y1="227.4" x2="580.9" y2="301.3" stroke="#383838" stroke-width="0.9" stroke-dasharray="3,3.6"/>
<rect x="47.30" y="65.40" width="80.30" height="78.60" fill="#000" stroke="#3a3a3a" stroke-width="1"/>
<rect x="76.72" y="66.20" width="7.15" height="9.62" fill="#f46d43" stroke="#5a5040" stroke-opacity="0.45" stroke-width="0.5"/>
<rect x="83.87" y="66.20" width="7.15" height="9.62" fill="#abdda4" stroke="#5a5040" stroke-opacity="0.45" stroke-width="0.5"/>
<rect x="62.41" y="75.83" width="7.15" height="9.62" fill="#66c2a5" stroke="#5a5040" stroke-opacity="0.45" stroke-width="0.5"/>
<rect x="69.56" y="75.83" width="7.15" height="9.62" fill="#fee08b" stroke="#5a5040" stroke-opacity="0.45" stroke-width="0.5"/>
<rect x="76.72" y="75.83" width="7.15" height="9.62" fill="#9e0142" stroke="#5a5040" stroke-opacity="0.45" stroke-width="0.5"/>
<rect x="83.87" y="75.83" width="7.15" height="9.62" fill="#9e0142" stroke="#5a5040" stroke-opacity="0.45" stroke-width="0.5"/>
<rect x="91.03" y="75.83" width="7.15" height="9.62" fill="#fdae61" stroke="#5a5040" stroke-opacity="0.45" stroke-width="0.5"/>
<rect x="98.18" y="75.83" width="7.15" height="9.62" fill="#fee08b" stroke="#5a5040" stroke-opacity="0.45" stroke-width="0.5"/>
<rect x="105.34" y="75.83" width="7.15" height="9.62" fill="#ffffbf" stroke="#5a5040" stroke-opacity="0.45" stroke-width="0.5"/>
<rect x="55.25" y="85.45" width="7.15" height="9.62" fill="#3288bd" stroke="#5a5040" stroke-opacity="0.45" stroke-width="0.5"/>
<rect x="62.41" y="85.45" width="7.15" height="9.62" fill="#3288bd" stroke="#5a5040" stroke-opacity="0.45" stroke-width="0.5"/>
<rect x="69.56" y="85.45" width="7.15" height="9.62" fill="#e6f598" stroke="#5a5040" stroke-opacity="0.45" stroke-width="0.5"/>
<rect x="76.72" y="85.45" width="7.15" height="9.62" fill="#fdae61" stroke="#5a5040" stroke-opacity="0.45" stroke-width="0.5"/>
<rect x="83.87" y="85.45" width="7.15" height="9.62" fill="#fdae61" stroke="#5a5040" stroke-opacity="0.45" stroke-width="0.5"/>
<rect x="91.03" y="85.45" width="7.15" height="9.62" fill="#fee08b" stroke="#5a5040" stroke-opacity="0.45" stroke-width="0.5"/>
<rect x="98.18" y="85.45" width="7.15" height="9.62" fill="#fee08b" stroke="#5a5040" stroke-opacity="0.45" stroke-width="0.5"/>
<rect x="105.34" y="85.45" width="7.15" height="9.62" fill="#fdae61" stroke="#5a5040" stroke-opacity="0.45" stroke-width="0.5"/>
<rect x="112.49" y="85.45" width="7.15" height="9.62" fill="#fee08b" stroke="#5a5040" stroke-opacity="0.45" stroke-width="0.5"/>
<rect x="48.10" y="95.08" width="7.15" height="9.62" fill="#fdae61" stroke="#5a5040" stroke-opacity="0.45" stroke-width="0.5"/>
<rect x="55.25" y="95.08" width="7.15" height="9.62" fill="#abdda4" stroke="#5a5040" stroke-opacity="0.45" stroke-width="0.5"/>
<rect x="62.41" y="95.08" width="7.15" height="9.62" fill="#66c2a5" stroke="#5a5040" stroke-opacity="0.45" stroke-width="0.5"/>
<rect x="69.56" y="95.08" width="7.15" height="9.62" fill="#e6f598" stroke="#5a5040" stroke-opacity="0.45" stroke-width="0.5"/>
<rect x="76.72" y="95.08" width="7.15" height="9.62" fill="#ffffbf" stroke="#5a5040" stroke-opacity="0.45" stroke-width="0.5"/>
<rect x="83.87" y="95.08" width="7.15" height="9.62" fill="#e6f598" stroke="#5a5040" stroke-opacity="0.45" stroke-width="0.5"/>
<rect x="91.03" y="95.08" width="7.15" height="9.62" fill="#e6f598" stroke="#5a5040" stroke-opacity="0.45" stroke-width="0.5"/>
<rect x="98.18" y="95.08" width="7.15" height="9.62" fill="#ffffbf" stroke="#5a5040" stroke-opacity="0.45" stroke-width="0.5"/>
<rect x="105.34" y="95.08" width="7.15" height="9.62" fill="#fee08b" stroke="#5a5040" stroke-opacity="0.45" stroke-width="0.5"/>
<rect x="112.49" y="95.08" width="7.15" height="9.62" fill="#ffffbf" stroke="#5a5040" stroke-opacity="0.45" stroke-width="0.5"/>
<rect x="119.65" y="95.08" width="7.15" height="9.62" fill="#3288bd" stroke="#5a5040" stroke-opacity="0.45" stroke-width="0.5"/>
<rect x="48.10" y="104.70" width="7.15" height="9.62" fill="#f46d43" stroke="#5a5040" stroke-opacity="0.45" stroke-width="0.5"/>
<rect x="55.25" y="104.70" width="7.15" height="9.62" fill="#e6f598" stroke="#5a5040" stroke-opacity="0.45" stroke-width="0.5"/>
<rect x="62.41" y="104.70" width="7.15" height="9.62" fill="#ffffbf" stroke="#5a5040" stroke-opacity="0.45" stroke-width="0.5"/>
<rect x="69.56" y="104.70" width="7.15" height="9.62" fill="#fee08b" stroke="#5a5040" stroke-opacity="0.45" stroke-width="0.5"/>
<rect x="76.72" y="104.70" width="7.15" height="9.62" fill="#fdae61" stroke="#5a5040" stroke-opacity="0.45" stroke-width="0.5"/>
<rect x="83.87" y="104.70" width="7.15" height="9.62" fill="#ffffbf" stroke="#5a5040" stroke-opacity="0.45" stroke-width="0.5"/>
<rect x="91.03" y="104.70" width="7.15" height="9.62" fill="#fee08b" stroke="#5a5040" stroke-opacity="0.45" stroke-width="0.5"/>
<rect x="98.18" y="104.70" width="7.15" height="9.62" fill="#ffffbf" stroke="#5a5040" stroke-opacity="0.45" stroke-width="0.5"/>
<rect x="105.34" y="104.70" width="7.15" height="9.62" fill="#e6f598" stroke="#5a5040" stroke-opacity="0.45" stroke-width="0.5"/>
<rect x="112.49" y="104.70" width="7.15" height="9.62" fill="#abdda4" stroke="#5a5040" stroke-opacity="0.45" stroke-width="0.5"/>
<rect x="119.65" y="104.70" width="7.15" height="9.62" fill="#abdda4" stroke="#5a5040" stroke-opacity="0.45" stroke-width="0.5"/>
<rect x="48.10" y="114.33" width="7.15" height="9.62" fill="#d53e4f" stroke="#5a5040" stroke-opacity="0.45" stroke-width="0.5"/>
<rect x="55.25" y="114.33" width="7.15" height="9.62" fill="#ffffbf" stroke="#5a5040" stroke-opacity="0.45" stroke-width="0.5"/>
<rect x="62.41" y="114.33" width="7.15" height="9.62" fill="#ffffbf" stroke="#5a5040" stroke-opacity="0.45" stroke-width="0.5"/>
<rect x="69.56" y="114.33" width="7.15" height="9.62" fill="#fdae61" stroke="#5a5040" stroke-opacity="0.45" stroke-width="0.5"/>
<rect x="76.72" y="114.33" width="7.15" height="9.62" fill="#d53e4f" stroke="#5a5040" stroke-opacity="0.45" stroke-width="0.5"/>
<rect x="83.87" y="114.33" width="7.15" height="9.62" fill="#f46d43" stroke="#5a5040" stroke-opacity="0.45" stroke-width="0.5"/>
<rect x="91.03" y="114.33" width="7.15" height="9.62" fill="#fdae61" stroke="#5a5040" stroke-opacity="0.45" stroke-width="0.5"/>
<rect x="98.18" y="114.33" width="7.15" height="9.62" fill="#fee08b" stroke="#5a5040" stroke-opacity="0.45" stroke-width="0.5"/>
<rect x="105.34" y="114.33" width="7.15" height="9.62" fill="#fee08b" stroke="#5a5040" stroke-opacity="0.45" stroke-width="0.5"/>
<rect x="112.49" y="114.33" width="7.15" height="9.62" fill="#fee08b" stroke="#5a5040" stroke-opacity="0.45" stroke-width="0.5"/>
<rect x="119.65" y="114.33" width="7.15" height="9.62" fill="#fdae61" stroke="#5a5040" stroke-opacity="0.45" stroke-width="0.5"/>
<rect x="48.10" y="123.95" width="7.15" height="9.62" fill="#fdae61" stroke="#5a5040" stroke-opacity="0.45" stroke-width="0.5"/>
<rect x="55.25" y="123.95" width="7.15" height="9.62" fill="#e6f598" stroke="#5a5040" stroke-opacity="0.45" stroke-width="0.5"/>
<rect x="62.41" y="123.95" width="7.15" height="9.62" fill="#abdda4" stroke="#5a5040" stroke-opacity="0.45" stroke-width="0.5"/>
<rect x="69.56" y="123.95" width="7.15" height="9.62" fill="#fee08b" stroke="#5a5040" stroke-opacity="0.45" stroke-width="0.5"/>
<rect x="76.72" y="123.95" width="7.15" height="9.62" fill="#f46d43" stroke="#5a5040" stroke-opacity="0.45" stroke-width="0.5"/>
<rect x="83.87" y="123.95" width="7.15" height="9.62" fill="#fdae61" stroke="#5a5040" stroke-opacity="0.45" stroke-width="0.5"/>
<rect x="91.03" y="123.95" width="7.15" height="9.62" fill="#ffffbf" stroke="#5a5040" stroke-opacity="0.45" stroke-width="0.5"/>
<rect x="98.18" y="123.95" width="7.15" height="9.62" fill="#e6f598" stroke="#5a5040" stroke-opacity="0.45" stroke-width="0.5"/>
<rect x="105.34" y="123.95" width="7.15" height="9.62" fill="#ffffbf" stroke="#5a5040" stroke-opacity="0.45" stroke-width="0.5"/>
<rect x="112.49" y="123.95" width="7.15" height="9.62" fill="#fdae61" stroke="#5a5040" stroke-opacity="0.45" stroke-width="0.5"/>
<rect x="119.65" y="123.95" width="7.15" height="9.62" fill="#9e0142" stroke="#5a5040" stroke-opacity="0.45" stroke-width="0.5"/>
<rect x="48.10" y="133.57" width="7.15" height="9.62" fill="#fee08b" stroke="#5a5040" stroke-opacity="0.45" stroke-width="0.5"/>
<rect x="55.25" y="133.57" width="7.15" height="9.62" fill="#66c2a5" stroke="#5a5040" stroke-opacity="0.45" stroke-width="0.5"/>
<rect x="62.41" y="133.57" width="7.15" height="9.62" fill="#3288bd" stroke="#5a5040" stroke-opacity="0.45" stroke-width="0.5"/>
<rect x="69.56" y="133.57" width="7.15" height="9.62" fill="#66c2a5" stroke="#5a5040" stroke-opacity="0.45" stroke-width="0.5"/>
<rect x="76.72" y="133.57" width="7.15" height="9.62" fill="#abdda4" stroke="#5a5040" stroke-opacity="0.45" stroke-width="0.5"/>
<rect x="83.87" y="133.57" width="7.15" height="9.62" fill="#66c2a5" stroke="#5a5040" stroke-opacity="0.45" stroke-width="0.5"/>
<rect x="91.03" y="133.57" width="7.15" height="9.62" fill="#3288bd" stroke="#5a5040" stroke-opacity="0.45" stroke-width="0.5"/>
<rect x="16.30" y="152.90" width="80.10" height="78.50" fill="#000" stroke="#3a3a3a" stroke-width="1"/>
<rect x="45.65" y="153.70" width="7.14" height="9.61" fill="#3288bd" stroke="#5a5040" stroke-opacity="0.45" stroke-width="0.5"/>
<rect x="52.78" y="153.70" width="7.14" height="9.61" fill="#3288bd" stroke="#5a5040" stroke-opacity="0.45" stroke-width="0.5"/>
<rect x="31.37" y="163.31" width="7.14" height="9.61" fill="#e6f598" stroke="#5a5040" stroke-opacity="0.45" stroke-width="0.5"/>
<rect x="38.51" y="163.31" width="7.14" height="9.61" fill="#f46d43" stroke="#5a5040" stroke-opacity="0.45" stroke-width="0.5"/>
<rect x="45.65" y="163.31" width="7.14" height="9.61" fill="#f46d43" stroke="#5a5040" stroke-opacity="0.45" stroke-width="0.5"/>
<rect x="52.78" y="163.31" width="7.14" height="9.61" fill="#fdae61" stroke="#5a5040" stroke-opacity="0.45" stroke-width="0.5"/>
<rect x="59.92" y="163.31" width="7.14" height="9.61" fill="#fee08b" stroke="#5a5040" stroke-opacity="0.45" stroke-width="0.5"/>
<rect x="67.05" y="163.31" width="7.14" height="9.61" fill="#fee08b" stroke="#5a5040" stroke-opacity="0.45" stroke-width="0.5"/>
<rect x="74.19" y="163.31" width="7.14" height="9.61" fill="#d53e4f" stroke="#5a5040" stroke-opacity="0.45" stroke-width="0.5"/>
<rect x="24.24" y="172.93" width="7.14" height="9.61" fill="#f46d43" stroke="#5a5040" stroke-opacity="0.45" stroke-width="0.5"/>
<rect x="31.37" y="172.93" width="7.14" height="9.61" fill="#d53e4f" stroke="#5a5040" stroke-opacity="0.45" stroke-width="0.5"/>
<rect x="38.51" y="172.93" width="7.14" height="9.61" fill="#f46d43" stroke="#5a5040" stroke-opacity="0.45" stroke-width="0.5"/>
<rect x="45.65" y="172.93" width="7.14" height="9.61" fill="#fdae61" stroke="#5a5040" stroke-opacity="0.45" stroke-width="0.5"/>
<rect x="52.78" y="172.93" width="7.14" height="9.61" fill="#fee08b" stroke="#5a5040" stroke-opacity="0.45" stroke-width="0.5"/>
<rect x="59.92" y="172.93" width="7.14" height="9.61" fill="#ffffbf" stroke="#5a5040" stroke-opacity="0.45" stroke-width="0.5"/>
<rect x="67.05" y="172.93" width="7.14" height="9.61" fill="#fee08b" stroke="#5a5040" stroke-opacity="0.45" stroke-width="0.5"/>
<rect x="74.19" y="172.93" width="7.14" height="9.61" fill="#f46d43" stroke="#5a5040" stroke-opacity="0.45" stroke-width="0.5"/>
<rect x="81.33" y="172.93" width="7.14" height="9.61" fill="#9e0142" stroke="#5a5040" stroke-opacity="0.45" stroke-width="0.5"/>
<rect x="17.10" y="182.54" width="7.14" height="9.61" fill="#d53e4f" stroke="#5a5040" stroke-opacity="0.45" stroke-width="0.5"/>
<rect x="24.24" y="182.54" width="7.14" height="9.61" fill="#f46d43" stroke="#5a5040" stroke-opacity="0.45" stroke-width="0.5"/>
<rect x="31.37" y="182.54" width="7.14" height="9.61" fill="#fdae61" stroke="#5a5040" stroke-opacity="0.45" stroke-width="0.5"/>
<rect x="38.51" y="182.54" width="7.14" height="9.61" fill="#fee08b" stroke="#5a5040" stroke-opacity="0.45" stroke-width="0.5"/>
<rect x="45.65" y="182.54" width="7.14" height="9.61" fill="#ffffbf" stroke="#5a5040" stroke-opacity="0.45" stroke-width="0.5"/>
<rect x="52.78" y="182.54" width="7.14" height="9.61" fill="#ffffbf" stroke="#5a5040" stroke-opacity="0.45" stroke-width="0.5"/>
<rect x="59.92" y="182.54" width="7.14" height="9.61" fill="#e6f598" stroke="#5a5040" stroke-opacity="0.45" stroke-width="0.5"/>
<rect x="67.05" y="182.54" width="7.14" height="9.61" fill="#fee08b" stroke="#5a5040" stroke-opacity="0.45" stroke-width="0.5"/>
<rect x="74.19" y="182.54" width="7.14" height="9.61" fill="#d53e4f" stroke="#5a5040" stroke-opacity="0.45" stroke-width="0.5"/>
<rect x="81.33" y="182.54" width="7.14" height="9.61" fill="#d53e4f" stroke="#5a5040" stroke-opacity="0.45" stroke-width="0.5"/>
<rect x="88.46" y="182.54" width="7.14" height="9.61" fill="#fee08b" stroke="#5a5040" stroke-opacity="0.45" stroke-width="0.5"/>
<rect x="17.10" y="192.15" width="7.14" height="9.61" fill="#fee08b" stroke="#5a5040" stroke-opacity="0.45" stroke-width="0.5"/>
<rect x="24.24" y="192.15" width="7.14" height="9.61" fill="#ffffbf" stroke="#5a5040" stroke-opacity="0.45" stroke-width="0.5"/>
<rect x="31.37" y="192.15" width="7.14" height="9.61" fill="#fee08b" stroke="#5a5040" stroke-opacity="0.45" stroke-width="0.5"/>
<rect x="38.51" y="192.15" width="7.14" height="9.61" fill="#fdae61" stroke="#5a5040" stroke-opacity="0.45" stroke-width="0.5"/>
<rect x="45.65" y="192.15" width="7.14" height="9.61" fill="#fdae61" stroke="#5a5040" stroke-opacity="0.45" stroke-width="0.5"/>
<rect x="52.78" y="192.15" width="7.14" height="9.61" fill="#ffffbf" stroke="#5a5040" stroke-opacity="0.45" stroke-width="0.5"/>
<rect x="59.92" y="192.15" width="7.14" height="9.61" fill="#fee08b" stroke="#5a5040" stroke-opacity="0.45" stroke-width="0.5"/>
<rect x="67.05" y="192.15" width="7.14" height="9.61" fill="#fdae61" stroke="#5a5040" stroke-opacity="0.45" stroke-width="0.5"/>
<rect x="74.19" y="192.15" width="7.14" height="9.61" fill="#fdae61" stroke="#5a5040" stroke-opacity="0.45" stroke-width="0.5"/>
<rect x="81.33" y="192.15" width="7.14" height="9.61" fill="#f46d43" stroke="#5a5040" stroke-opacity="0.45" stroke-width="0.5"/>
<rect x="88.46" y="192.15" width="7.14" height="9.61" fill="#ffffbf" stroke="#5a5040" stroke-opacity="0.45" stroke-width="0.5"/>
<rect x="17.10" y="201.76" width="7.14" height="9.61" fill="#fdae61" stroke="#5a5040" stroke-opacity="0.45" stroke-width="0.5"/>
<rect x="24.24" y="201.76" width="7.14" height="9.61" fill="#fee08b" stroke="#5a5040" stroke-opacity="0.45" stroke-width="0.5"/>
<rect x="31.37" y="201.76" width="7.14" height="9.61" fill="#fdae61" stroke="#5a5040" stroke-opacity="0.45" stroke-width="0.5"/>
<rect x="38.51" y="201.76" width="7.14" height="9.61" fill="#9e0142" stroke="#5a5040" stroke-opacity="0.45" stroke-width="0.5"/>
<rect x="45.65" y="201.76" width="7.14" height="9.61" fill="#9e0142" stroke="#5a5040" stroke-opacity="0.45" stroke-width="0.5"/>
<rect x="52.78" y="201.76" width="7.14" height="9.61" fill="#f46d43" stroke="#5a5040" stroke-opacity="0.45" stroke-width="0.5"/>
<rect x="59.92" y="201.76" width="7.14" height="9.61" fill="#f46d43" stroke="#5a5040" stroke-opacity="0.45" stroke-width="0.5"/>
<rect x="67.05" y="201.76" width="7.14" height="9.61" fill="#f46d43" stroke="#5a5040" stroke-opacity="0.45" stroke-width="0.5"/>
<rect x="74.19" y="201.76" width="7.14" height="9.61" fill="#fdae61" stroke="#5a5040" stroke-opacity="0.45" stroke-width="0.5"/>
<rect x="81.33" y="201.76" width="7.14" height="9.61" fill="#fdae61" stroke="#5a5040" stroke-opacity="0.45" stroke-width="0.5"/>
<rect x="88.46" y="201.76" width="7.14" height="9.61" fill="#fee08b" stroke="#5a5040" stroke-opacity="0.45" stroke-width="0.5"/>
<rect x="17.10" y="211.38" width="7.14" height="9.61" fill="#9e0142" stroke="#5a5040" stroke-opacity="0.45" stroke-width="0.5"/>
<rect x="24.24" y="211.38" width="7.14" height="9.61" fill="#d53e4f" stroke="#5a5040" stroke-opacity="0.45" stroke-width="0.5"/>
<rect x="31.37" y="211.38" width="7.14" height="9.61" fill="#d53e4f" stroke="#5a5040" stroke-opacity="0.45" stroke-width="0.5"/>
<rect x="38.51" y="211.38" width="7.14" height="9.61" fill="#9e0142" stroke="#5a5040" stroke-opacity="0.45" stroke-width="0.5"/>
<rect x="45.65" y="211.38" width="7.14" height="9.61" fill="#9e0142" stroke="#5a5040" stroke-opacity="0.45" stroke-width="0.5"/>
<rect x="52.78" y="211.38" width="7.14" height="9.61" fill="#d53e4f" stroke="#5a5040" stroke-opacity="0.45" stroke-width="0.5"/>
<rect x="59.92" y="211.38" width="7.14" height="9.61" fill="#f46d43" stroke="#5a5040" stroke-opacity="0.45" stroke-width="0.5"/>
<rect x="67.05" y="211.38" width="7.14" height="9.61" fill="#f46d43" stroke="#5a5040" stroke-opacity="0.45" stroke-width="0.5"/>
<rect x="74.19" y="211.38" width="7.14" height="9.61" fill="#fdae61" stroke="#5a5040" stroke-opacity="0.45" stroke-width="0.5"/>
<rect x="81.33" y="211.38" width="7.14" height="9.61" fill="#fee08b" stroke="#5a5040" stroke-opacity="0.45" stroke-width="0.5"/>
<rect x="88.46" y="211.38" width="7.14" height="9.61" fill="#fdae61" stroke="#5a5040" stroke-opacity="0.45" stroke-width="0.5"/>
<rect x="17.10" y="220.99" width="7.14" height="9.61" fill="#9e0142" stroke="#5a5040" stroke-opacity="0.45" stroke-width="0.5"/>
<rect x="24.24" y="220.99" width="7.14" height="9.61" fill="#f46d43" stroke="#5a5040" stroke-opacity="0.45" stroke-width="0.5"/>
<rect x="31.37" y="220.99" width="7.14" height="9.61" fill="#fee08b" stroke="#5a5040" stroke-opacity="0.45" stroke-width="0.5"/>
<rect x="38.51" y="220.99" width="7.14" height="9.61" fill="#66c2a5" stroke="#5a5040" stroke-opacity="0.45" stroke-width="0.5"/>
<rect x="45.65" y="220.99" width="7.14" height="9.61" fill="#66c2a5" stroke="#5a5040" stroke-opacity="0.45" stroke-width="0.5"/>
<rect x="52.78" y="220.99" width="7.14" height="9.61" fill="#ffffbf" stroke="#5a5040" stroke-opacity="0.45" stroke-width="0.5"/>
<rect x="59.92" y="220.99" width="7.14" height="9.61" fill="#ffffbf" stroke="#5a5040" stroke-opacity="0.45" stroke-width="0.5"/>
<rect x="561.00" y="65.00" width="80.40" height="79.40" fill="#000" stroke="#3a3a3a" stroke-width="1"/>
<rect x="601.20" y="65.80" width="9.85" height="7.78" fill="#fee08b" stroke="#5a5040" stroke-opacity="0.45" stroke-width="0.5"/>
<rect x="591.35" y="73.58" width="9.85" height="7.78" fill="#fee08b" stroke="#5a5040" stroke-opacity="0.45" stroke-width="0.5"/>
<rect x="601.20" y="73.58" width="9.85" height="7.78" fill="#ffffbf" stroke="#5a5040" stroke-opacity="0.45" stroke-width="0.5"/>
<rect x="611.05" y="73.58" width="9.85" height="7.78" fill="#fdae61" stroke="#5a5040" stroke-opacity="0.45" stroke-width="0.5"/>
<rect x="561.80" y="81.36" width="9.85" height="7.78" fill="#fdae61" stroke="#5a5040" stroke-opacity="0.45" stroke-width="0.5"/>
<rect x="571.65" y="81.36" width="9.85" height="7.78" fill="#fee08b" stroke="#5a5040" stroke-opacity="0.45" stroke-width="0.5"/>
<rect x="581.50" y="81.36" width="9.85" height="7.78" fill="#f46d43" stroke="#5a5040" stroke-opacity="0.45" stroke-width="0.5"/>
<rect x="591.35" y="81.36" width="9.85" height="7.78" fill="#fdae61" stroke="#5a5040" stroke-opacity="0.45" stroke-width="0.5"/>
<rect x="601.20" y="81.36" width="9.85" height="7.78" fill="#ffffbf" stroke="#5a5040" stroke-opacity="0.45" stroke-width="0.5"/>
<rect x="611.05" y="81.36" width="9.85" height="7.78" fill="#abdda4" stroke="#5a5040" stroke-opacity="0.45" stroke-width="0.5"/>
<rect x="620.90" y="81.36" width="9.85" height="7.78" fill="#fdae61" stroke="#5a5040" stroke-opacity="0.45" stroke-width="0.5"/>
<rect x="561.80" y="89.14" width="9.85" height="7.78" fill="#e6f598" stroke="#5a5040" stroke-opacity="0.45" stroke-width="0.5"/>
<rect x="571.65" y="89.14" width="9.85" height="7.78" fill="#ffffbf" stroke="#5a5040" stroke-opacity="0.45" stroke-width="0.5"/>
<rect x="581.50" y="89.14" width="9.85" height="7.78" fill="#f46d43" stroke="#5a5040" stroke-opacity="0.45" stroke-width="0.5"/>
<rect x="591.35" y="89.14" width="9.85" height="7.78" fill="#f46d43" stroke="#5a5040" stroke-opacity="0.45" stroke-width="0.5"/>
<rect x="601.20" y="89.14" width="9.85" height="7.78" fill="#ffffbf" stroke="#5a5040" stroke-opacity="0.45" stroke-width="0.5"/>
<rect x="611.05" y="89.14" width="9.85" height="7.78" fill="#66c2a5" stroke="#5a5040" stroke-opacity="0.45" stroke-width="0.5"/>
<rect x="620.90" y="89.14" width="9.85" height="7.78" fill="#3288bd" stroke="#5a5040" stroke-opacity="0.45" stroke-width="0.5"/>
<rect x="561.80" y="96.92" width="9.85" height="7.78" fill="#ffffbf" stroke="#5a5040" stroke-opacity="0.45" stroke-width="0.5"/>
<rect x="571.65" y="96.92" width="9.85" height="7.78" fill="#ffffbf" stroke="#5a5040" stroke-opacity="0.45" stroke-width="0.5"/>
<rect x="581.50" y="96.92" width="9.85" height="7.78" fill="#f46d43" stroke="#5a5040" stroke-opacity="0.45" stroke-width="0.5"/>
<rect x="591.35" y="96.92" width="9.85" height="7.78" fill="#f46d43" stroke="#5a5040" stroke-opacity="0.45" stroke-width="0.5"/>
<rect x="601.20" y="96.92" width="9.85" height="7.78" fill="#fdae61" stroke="#5a5040" stroke-opacity="0.45" stroke-width="0.5"/>
<rect x="611.05" y="96.92" width="9.85" height="7.78" fill="#ffffbf" stroke="#5a5040" stroke-opacity="0.45" stroke-width="0.5"/>
<rect x="620.90" y="96.92" width="9.85" height="7.78" fill="#e6f598" stroke="#5a5040" stroke-opacity="0.45" stroke-width="0.5"/>
<rect x="561.80" y="104.70" width="9.85" height="7.78" fill="#fdae61" stroke="#5a5040" stroke-opacity="0.45" stroke-width="0.5"/>
<rect x="571.65" y="104.70" width="9.85" height="7.78" fill="#fee08b" stroke="#5a5040" stroke-opacity="0.45" stroke-width="0.5"/>
<rect x="581.50" y="104.70" width="9.85" height="7.78" fill="#fee08b" stroke="#5a5040" stroke-opacity="0.45" stroke-width="0.5"/>
<rect x="591.35" y="104.70" width="9.85" height="7.78" fill="#f46d43" stroke="#5a5040" stroke-opacity="0.45" stroke-width="0.5"/>
<rect x="601.20" y="104.70" width="9.85" height="7.78" fill="#f46d43" stroke="#5a5040" stroke-opacity="0.45" stroke-width="0.5"/>
<rect x="611.05" y="104.70" width="9.85" height="7.78" fill="#f46d43" stroke="#5a5040" stroke-opacity="0.45" stroke-width="0.5"/>
<rect x="620.90" y="104.70" width="9.85" height="7.78" fill="#9e0142" stroke="#5a5040" stroke-opacity="0.45" stroke-width="0.5"/>
<rect x="571.65" y="112.48" width="9.85" height="7.78" fill="#fdae61" stroke="#5a5040" stroke-opacity="0.45" stroke-width="0.5"/>
<rect x="581.50" y="112.48" width="9.85" height="7.78" fill="#fdae61" stroke="#5a5040" stroke-opacity="0.45" stroke-width="0.5"/>
<rect x="591.35" y="112.48" width="9.85" height="7.78" fill="#fee08b" stroke="#5a5040" stroke-opacity="0.45" stroke-width="0.5"/>
<rect x="601.20" y="112.48" width="9.85" height="7.78" fill="#fdae61" stroke="#5a5040" stroke-opacity="0.45" stroke-width="0.5"/>
<rect x="611.05" y="112.48" width="9.85" height="7.78" fill="#f46d43" stroke="#5a5040" stroke-opacity="0.45" stroke-width="0.5"/>
<rect x="620.90" y="112.48" width="9.85" height="7.78" fill="#9e0142" stroke="#5a5040" stroke-opacity="0.45" stroke-width="0.5"/>
<rect x="630.75" y="112.48" width="9.85" height="7.78" fill="#9e0142" stroke="#5a5040" stroke-opacity="0.45" stroke-width="0.5"/>
<rect x="571.65" y="120.26" width="9.85" height="7.78" fill="#fee08b" stroke="#5a5040" stroke-opacity="0.45" stroke-width="0.5"/>
<rect x="581.50" y="120.26" width="9.85" height="7.78" fill="#d53e4f" stroke="#5a5040" stroke-opacity="0.45" stroke-width="0.5"/>
<rect x="591.35" y="120.26" width="9.85" height="7.78" fill="#f46d43" stroke="#5a5040" stroke-opacity="0.45" stroke-width="0.5"/>
<rect x="601.20" y="120.26" width="9.85" height="7.78" fill="#ffffbf" stroke="#5a5040" stroke-opacity="0.45" stroke-width="0.5"/>
<rect x="611.05" y="120.26" width="9.85" height="7.78" fill="#ffffbf" stroke="#5a5040" stroke-opacity="0.45" stroke-width="0.5"/>
<rect x="620.90" y="120.26" width="9.85" height="7.78" fill="#fdae61" stroke="#5a5040" stroke-opacity="0.45" stroke-width="0.5"/>
<rect x="630.75" y="120.26" width="9.85" height="7.78" fill="#fee08b" stroke="#5a5040" stroke-opacity="0.45" stroke-width="0.5"/>
<rect x="581.50" y="128.04" width="9.85" height="7.78" fill="#f46d43" stroke="#5a5040" stroke-opacity="0.45" stroke-width="0.5"/>
<rect x="591.35" y="128.04" width="9.85" height="7.78" fill="#9e0142" stroke="#5a5040" stroke-opacity="0.45" stroke-width="0.5"/>
<rect x="601.20" y="128.04" width="9.85" height="7.78" fill="#fdae61" stroke="#5a5040" stroke-opacity="0.45" stroke-width="0.5"/>
<rect x="611.05" y="128.04" width="9.85" height="7.78" fill="#abdda4" stroke="#5a5040" stroke-opacity="0.45" stroke-width="0.5"/>
<rect x="581.50" y="135.82" width="9.85" height="7.78" fill="#3288bd" stroke="#5a5040" stroke-opacity="0.45" stroke-width="0.5"/>
<rect x="591.35" y="135.82" width="9.85" height="7.78" fill="#fee08b" stroke="#5a5040" stroke-opacity="0.45" stroke-width="0.5"/>
<rect x="593.75" y="153.30" width="79.75" height="78.10" fill="#000" stroke="#3a3a3a" stroke-width="1"/>
<rect x="633.62" y="154.10" width="9.77" height="7.65" fill="#ffffbf" stroke="#5a5040" stroke-opacity="0.45" stroke-width="0.5"/>
<rect x="623.86" y="161.75" width="9.77" height="7.65" fill="#fee08b" stroke="#5a5040" stroke-opacity="0.45" stroke-width="0.5"/>
<rect x="633.62" y="161.75" width="9.77" height="7.65" fill="#e6f598" stroke="#5a5040" stroke-opacity="0.45" stroke-width="0.5"/>
<rect x="643.39" y="161.75" width="9.77" height="7.65" fill="#3288bd" stroke="#5a5040" stroke-opacity="0.45" stroke-width="0.5"/>
<rect x="594.55" y="169.40" width="9.77" height="7.65" fill="#ffffbf" stroke="#5a5040" stroke-opacity="0.45" stroke-width="0.5"/>
<rect x="604.32" y="169.40" width="9.77" height="7.65" fill="#66c2a5" stroke="#5a5040" stroke-opacity="0.45" stroke-width="0.5"/>
<rect x="614.09" y="169.40" width="9.77" height="7.65" fill="#66c2a5" stroke="#5a5040" stroke-opacity="0.45" stroke-width="0.5"/>
<rect x="623.86" y="169.40" width="9.77" height="7.65" fill="#abdda4" stroke="#5a5040" stroke-opacity="0.45" stroke-width="0.5"/>
<rect x="633.62" y="169.40" width="9.77" height="7.65" fill="#e6f598" stroke="#5a5040" stroke-opacity="0.45" stroke-width="0.5"/>
<rect x="643.39" y="169.40" width="9.77" height="7.65" fill="#ffffbf" stroke="#5a5040" stroke-opacity="0.45" stroke-width="0.5"/>
<rect x="653.16" y="169.40" width="9.77" height="7.65" fill="#f46d43" stroke="#5a5040" stroke-opacity="0.45" stroke-width="0.5"/>
<rect x="594.55" y="177.05" width="9.77" height="7.65" fill="#e6f598" stroke="#5a5040" stroke-opacity="0.45" stroke-width="0.5"/>
<rect x="604.32" y="177.05" width="9.77" height="7.65" fill="#abdda4" stroke="#5a5040" stroke-opacity="0.45" stroke-width="0.5"/>
<rect x="614.09" y="177.05" width="9.77" height="7.65" fill="#ffffbf" stroke="#5a5040" stroke-opacity="0.45" stroke-width="0.5"/>
<rect x="623.86" y="177.05" width="9.77" height="7.65" fill="#ffffbf" stroke="#5a5040" stroke-opacity="0.45" stroke-width="0.5"/>
<rect x="633.62" y="177.05" width="9.77" height="7.65" fill="#abdda4" stroke="#5a5040" stroke-opacity="0.45" stroke-width="0.5"/>
<rect x="643.39" y="177.05" width="9.77" height="7.65" fill="#abdda4" stroke="#5a5040" stroke-opacity="0.45" stroke-width="0.5"/>
<rect x="653.16" y="177.05" width="9.77" height="7.65" fill="#f46d43" stroke="#5a5040" stroke-opacity="0.45" stroke-width="0.5"/>
<rect x="594.55" y="184.70" width="9.77" height="7.65" fill="#ffffbf" stroke="#5a5040" stroke-opacity="0.45" stroke-width="0.5"/>
<rect x="604.32" y="184.70" width="9.77" height="7.65" fill="#ffffbf" stroke="#5a5040" stroke-opacity="0.45" stroke-width="0.5"/>
<rect x="614.09" y="184.70" width="9.77" height="7.65" fill="#fdae61" stroke="#5a5040" stroke-opacity="0.45" stroke-width="0.5"/>
<rect x="623.86" y="184.70" width="9.77" height="7.65" fill="#fdae61" stroke="#5a5040" stroke-opacity="0.45" stroke-width="0.5"/>
<rect x="633.62" y="184.70" width="9.77" height="7.65" fill="#e6f598" stroke="#5a5040" stroke-opacity="0.45" stroke-width="0.5"/>
<rect x="643.39" y="184.70" width="9.77" height="7.65" fill="#3288bd" stroke="#5a5040" stroke-opacity="0.45" stroke-width="0.5"/>
<rect x="653.16" y="184.70" width="9.77" height="7.65" fill="#e6f598" stroke="#5a5040" stroke-opacity="0.45" stroke-width="0.5"/>
<rect x="594.55" y="192.35" width="9.77" height="7.65" fill="#fee08b" stroke="#5a5040" stroke-opacity="0.45" stroke-width="0.5"/>
<rect x="604.32" y="192.35" width="9.77" height="7.65" fill="#abdda4" stroke="#5a5040" stroke-opacity="0.45" stroke-width="0.5"/>
<rect x="614.09" y="192.35" width="9.77" height="7.65" fill="#ffffbf" stroke="#5a5040" stroke-opacity="0.45" stroke-width="0.5"/>
<rect x="623.86" y="192.35" width="9.77" height="7.65" fill="#f46d43" stroke="#5a5040" stroke-opacity="0.45" stroke-width="0.5"/>
<rect x="633.62" y="192.35" width="9.77" height="7.65" fill="#fdae61" stroke="#5a5040" stroke-opacity="0.45" stroke-width="0.5"/>
<rect x="643.39" y="192.35" width="9.77" height="7.65" fill="#66c2a5" stroke="#5a5040" stroke-opacity="0.45" stroke-width="0.5"/>
<rect x="653.16" y="192.35" width="9.77" height="7.65" fill="#66c2a5" stroke="#5a5040" stroke-opacity="0.45" stroke-width="0.5"/>
<rect x="604.32" y="200.00" width="9.77" height="7.65" fill="#3288bd" stroke="#5a5040" stroke-opacity="0.45" stroke-width="0.5"/>
<rect x="614.09" y="200.00" width="9.77" height="7.65" fill="#e6f598" stroke="#5a5040" stroke-opacity="0.45" stroke-width="0.5"/>
<rect x="623.86" y="200.00" width="9.77" height="7.65" fill="#f46d43" stroke="#5a5040" stroke-opacity="0.45" stroke-width="0.5"/>
<rect x="633.62" y="200.00" width="9.77" height="7.65" fill="#f46d43" stroke="#5a5040" stroke-opacity="0.45" stroke-width="0.5"/>
<rect x="643.39" y="200.00" width="9.77" height="7.65" fill="#ffffbf" stroke="#5a5040" stroke-opacity="0.45" stroke-width="0.5"/>
<rect x="653.16" y="200.00" width="9.77" height="7.65" fill="#ffffbf" stroke="#5a5040" stroke-opacity="0.45" stroke-width="0.5"/>
<rect x="662.93" y="200.00" width="9.77" height="7.65" fill="#9e0142" stroke="#5a5040" stroke-opacity="0.45" stroke-width="0.5"/>
<rect x="604.32" y="207.65" width="9.77" height="7.65" fill="#66c2a5" stroke="#5a5040" stroke-opacity="0.45" stroke-width="0.5"/>
<rect x="614.09" y="207.65" width="9.77" height="7.65" fill="#ffffbf" stroke="#5a5040" stroke-opacity="0.45" stroke-width="0.5"/>
<rect x="623.86" y="207.65" width="9.77" height="7.65" fill="#d53e4f" stroke="#5a5040" stroke-opacity="0.45" stroke-width="0.5"/>
<rect x="633.62" y="207.65" width="9.77" height="7.65" fill="#d53e4f" stroke="#5a5040" stroke-opacity="0.45" stroke-width="0.5"/>
<rect x="643.39" y="207.65" width="9.77" height="7.65" fill="#fdae61" stroke="#5a5040" stroke-opacity="0.45" stroke-width="0.5"/>
<rect x="653.16" y="207.65" width="9.77" height="7.65" fill="#ffffbf" stroke="#5a5040" stroke-opacity="0.45" stroke-width="0.5"/>
<rect x="662.93" y="207.65" width="9.77" height="7.65" fill="#d53e4f" stroke="#5a5040" stroke-opacity="0.45" stroke-width="0.5"/>
<rect x="614.09" y="215.30" width="9.77" height="7.65" fill="#fee08b" stroke="#5a5040" stroke-opacity="0.45" stroke-width="0.5"/>
<rect x="623.86" y="215.30" width="9.77" height="7.65" fill="#f46d43" stroke="#5a5040" stroke-opacity="0.45" stroke-width="0.5"/>
<rect x="633.62" y="215.30" width="9.77" height="7.65" fill="#fee08b" stroke="#5a5040" stroke-opacity="0.45" stroke-width="0.5"/>
<rect x="643.39" y="215.30" width="9.77" height="7.65" fill="#3288bd" stroke="#5a5040" stroke-opacity="0.45" stroke-width="0.5"/>
<rect x="614.09" y="222.95" width="9.77" height="7.65" fill="#fee08b" stroke="#5a5040" stroke-opacity="0.45" stroke-width="0.5"/>
<rect x="623.86" y="222.95" width="9.77" height="7.65" fill="#3288bd" stroke="#5a5040" stroke-opacity="0.45" stroke-width="0.5"/>
<rect x="17.70" y="265.40" width="79.70" height="78.20" fill="#000" stroke="#3a3a3a" stroke-width="1"/>
<rect x="18.70" y="266.40" width="4.57" height="4.48" fill="#ffffbf" stroke="#5a5040" stroke-opacity="0.45" stroke-width="0.5"/>
<rect x="23.27" y="266.40" width="4.57" height="4.48" fill="#9e0142" stroke="#5a5040" stroke-opacity="0.45" stroke-width="0.5"/>
<rect x="18.70" y="270.88" width="4.57" height="4.48" fill="#ffffbf" stroke="#5a5040" stroke-opacity="0.45" stroke-width="0.5"/>
<rect x="23.27" y="270.88" width="4.57" height="4.48" fill="#fdae61" stroke="#5a5040" stroke-opacity="0.45" stroke-width="0.5"/>
<rect x="27.84" y="270.88" width="4.57" height="4.48" fill="#f46d43" stroke="#5a5040" stroke-opacity="0.45" stroke-width="0.5"/>
<rect x="32.41" y="270.88" width="4.57" height="4.48" fill="#ffffbf" stroke="#5a5040" stroke-opacity="0.45" stroke-width="0.5"/>
<rect x="18.70" y="275.36" width="4.57" height="4.48" fill="#e6f598" stroke="#5a5040" stroke-opacity="0.45" stroke-width="0.5"/>
<rect x="23.27" y="275.36" width="4.57" height="4.48" fill="#ffffbf" stroke="#5a5040" stroke-opacity="0.45" stroke-width="0.5"/>
<rect x="27.84" y="275.36" width="4.57" height="4.48" fill="#ffffbf" stroke="#5a5040" stroke-opacity="0.45" stroke-width="0.5"/>
<rect x="32.41" y="275.36" width="4.57" height="4.48" fill="#e6f598" stroke="#5a5040" stroke-opacity="0.45" stroke-width="0.5"/>
<rect x="36.98" y="275.36" width="4.57" height="4.48" fill="#3288bd" stroke="#5a5040" stroke-opacity="0.45" stroke-width="0.5"/>
<rect x="18.70" y="279.85" width="4.57" height="4.48" fill="#66c2a5" stroke="#5a5040" stroke-opacity="0.45" stroke-width="0.5"/>
<rect x="23.27" y="279.85" width="4.57" height="4.48" fill="#ffffbf" stroke="#5a5040" stroke-opacity="0.45" stroke-width="0.5"/>
<rect x="27.84" y="279.85" width="4.57" height="4.48" fill="#ffffbf" stroke="#5a5040" stroke-opacity="0.45" stroke-width="0.5"/>
<rect x="32.41" y="279.85" width="4.57" height="4.48" fill="#e6f598" stroke="#5a5040" stroke-opacity="0.45" stroke-width="0.5"/>
<rect x="36.98" y="279.85" width="4.57" height="4.48" fill="#66c2a5" stroke="#5a5040" stroke-opacity="0.45" stroke-width="0.5"/>
<rect x="41.55" y="279.85" width="4.57" height="4.48" fill="#3288bd" stroke="#5a5040" stroke-opacity="0.45" stroke-width="0.5"/>
<rect x="27.84" y="284.33" width="4.57" height="4.48" fill="#fdae61" stroke="#5a5040" stroke-opacity="0.45" stroke-width="0.5"/>
<rect x="32.41" y="284.33" width="4.57" height="4.48" fill="#fdae61" stroke="#5a5040" stroke-opacity="0.45" stroke-width="0.5"/>
<rect x="36.98" y="284.33" width="4.57" height="4.48" fill="#ffffbf" stroke="#5a5040" stroke-opacity="0.45" stroke-width="0.5"/>
<rect x="41.55" y="284.33" width="4.57" height="4.48" fill="#abdda4" stroke="#5a5040" stroke-opacity="0.45" stroke-width="0.5"/>
<rect x="46.12" y="284.33" width="4.57" height="4.48" fill="#66c2a5" stroke="#5a5040" stroke-opacity="0.45" stroke-width="0.5"/>
<rect x="50.69" y="284.33" width="4.57" height="4.48" fill="#fee08b" stroke="#5a5040" stroke-opacity="0.45" stroke-width="0.5"/>
<rect x="55.26" y="284.33" width="4.57" height="4.48" fill="#f46d43" stroke="#5a5040" stroke-opacity="0.45" stroke-width="0.5"/>
<rect x="36.98" y="288.81" width="4.57" height="4.48" fill="#f46d43" stroke="#5a5040" stroke-opacity="0.45" stroke-width="0.5"/>
<rect x="41.55" y="288.81" width="4.57" height="4.48" fill="#fee08b" stroke="#5a5040" stroke-opacity="0.45" stroke-width="0.5"/>
<rect x="46.12" y="288.81" width="4.57" height="4.48" fill="#e6f598" stroke="#5a5040" stroke-opacity="0.45" stroke-width="0.5"/>
<rect x="50.69" y="288.81" width="4.57" height="4.48" fill="#fee08b" stroke="#5a5040" stroke-opacity="0.45" stroke-width="0.5"/>
<rect x="55.26" y="288.81" width="4.57" height="4.48" fill="#d53e4f" stroke="#5a5040" stroke-opacity="0.45" stroke-width="0.5"/>
<rect x="41.55" y="293.29" width="4.57" height="4.48" fill="#fdae61" stroke="#5a5040" stroke-opacity="0.45" stroke-width="0.5"/>
<rect x="46.12" y="293.29" width="4.57" height="4.48" fill="#e6f598" stroke="#5a5040" stroke-opacity="0.45" stroke-width="0.5"/>
<rect x="50.69" y="293.29" width="4.57" height="4.48" fill="#e6f598" stroke="#5a5040" stroke-opacity="0.45" stroke-width="0.5"/>
<rect x="55.26" y="293.29" width="4.57" height="4.48" fill="#fee08b" stroke="#5a5040" stroke-opacity="0.45" stroke-width="0.5"/>
<rect x="59.84" y="293.29" width="4.57" height="4.48" fill="#fdae61" stroke="#5a5040" stroke-opacity="0.45" stroke-width="0.5"/>
<rect x="64.41" y="293.29" width="4.57" height="4.48" fill="#d53e4f" stroke="#5a5040" stroke-opacity="0.45" stroke-width="0.5"/>
<rect x="68.98" y="293.29" width="4.57" height="4.48" fill="#9e0142" stroke="#5a5040" stroke-opacity="0.45" stroke-width="0.5"/>
<rect x="46.12" y="297.78" width="4.57" height="4.48" fill="#ffffbf" stroke="#5a5040" stroke-opacity="0.45" stroke-width="0.5"/>
<rect x="50.69" y="297.78" width="4.57" height="4.48" fill="#ffffbf" stroke="#5a5040" stroke-opacity="0.45" stroke-width="0.5"/>
<rect x="55.26" y="297.78" width="4.57" height="4.48" fill="#fee08b" stroke="#5a5040" stroke-opacity="0.45" stroke-width="0.5"/>
<rect x="59.84" y="297.78" width="4.57" height="4.48" fill="#fee08b" stroke="#5a5040" stroke-opacity="0.45" stroke-width="0.5"/>
<rect x="64.41" y="297.78" width="4.57" height="4.48" fill="#fdae61" stroke="#5a5040" stroke-opacity="0.45" stroke-width="0.5"/>
<rect x="68.98" y="297.78" width="4.57" height="4.48" fill="#fdae61" stroke="#5a5040" stroke-opacity="0.45" stroke-width="0.5"/>
<rect x="46.12" y="302.26" width="4.57" height="4.48" fill="#fee08b" stroke="#5a5040" stroke-opacity="0.45" stroke-width="0.5"/>
<rect x="50.69" y="302.26" width="4.57" height="4.48" fill="#ffffbf" stroke="#5a5040" stroke-opacity="0.45" stroke-width="0.5"/>
<rect x="55.26" y="302.26" width="4.57" height="4.48" fill="#fee08b" stroke="#5a5040" stroke-opacity="0.45" stroke-width="0.5"/>
<rect x="59.84" y="302.26" width="4.57" height="4.48" fill="#fee08b" stroke="#5a5040" stroke-opacity="0.45" stroke-width="0.5"/>
<rect x="64.41" y="302.26" width="4.57" height="4.48" fill="#fee08b" stroke="#5a5040" stroke-opacity="0.45" stroke-width="0.5"/>
<rect x="68.98" y="302.26" width="4.57" height="4.48" fill="#ffffbf" stroke="#5a5040" stroke-opacity="0.45" stroke-width="0.5"/>
<rect x="73.55" y="302.26" width="4.57" height="4.48" fill="#ffffbf" stroke="#5a5040" stroke-opacity="0.45" stroke-width="0.5"/>
<rect x="78.12" y="302.26" width="4.57" height="4.48" fill="#abdda4" stroke="#5a5040" stroke-opacity="0.45" stroke-width="0.5"/>
<rect x="46.12" y="306.74" width="4.57" height="4.48" fill="#fdae61" stroke="#5a5040" stroke-opacity="0.45" stroke-width="0.5"/>
<rect x="50.69" y="306.74" width="4.57" height="4.48" fill="#fee08b" stroke="#5a5040" stroke-opacity="0.45" stroke-width="0.5"/>
<rect x="55.26" y="306.74" width="4.57" height="4.48" fill="#fdae61" stroke="#5a5040" stroke-opacity="0.45" stroke-width="0.5"/>
<rect x="59.84" y="306.74" width="4.57" height="4.48" fill="#fee08b" stroke="#5a5040" stroke-opacity="0.45" stroke-width="0.5"/>
<rect x="64.41" y="306.74" width="4.57" height="4.48" fill="#ffffbf" stroke="#5a5040" stroke-opacity="0.45" stroke-width="0.5"/>
<rect x="68.98" y="306.74" width="4.57" height="4.48" fill="#fee08b" stroke="#5a5040" stroke-opacity="0.45" stroke-width="0.5"/>
<rect x="73.55" y="306.74" width="4.57" height="4.48" fill="#ffffbf" stroke="#5a5040" stroke-opacity="0.45" stroke-width="0.5"/>
<rect x="78.12" y="306.74" width="4.57" height="4.48" fill="#abdda4" stroke="#5a5040" stroke-opacity="0.45" stroke-width="0.5"/>
<rect x="82.69" y="306.74" width="4.57" height="4.48" fill="#3288bd" stroke="#5a5040" stroke-opacity="0.45" stroke-width="0.5"/>
<rect x="50.69" y="311.22" width="4.57" height="4.48" fill="#f46d43" stroke="#5a5040" stroke-opacity="0.45" stroke-width="0.5"/>
<rect x="55.26" y="311.22" width="4.57" height="4.48" fill="#ffffbf" stroke="#5a5040" stroke-opacity="0.45" stroke-width="0.5"/>
<rect x="59.84" y="311.22" width="4.57" height="4.48" fill="#ffffbf" stroke="#5a5040" stroke-opacity="0.45" stroke-width="0.5"/>
<rect x="64.41" y="311.22" width="4.57" height="4.48" fill="#e6f598" stroke="#5a5040" stroke-opacity="0.45" stroke-width="0.5"/>
<rect x="68.98" y="311.22" width="4.57" height="4.48" fill="#ffffbf" stroke="#5a5040" stroke-opacity="0.45" stroke-width="0.5"/>
<rect x="73.55" y="311.22" width="4.57" height="4.48" fill="#fdae61" stroke="#5a5040" stroke-opacity="0.45" stroke-width="0.5"/>
<rect x="78.12" y="311.22" width="4.57" height="4.48" fill="#fdae61" stroke="#5a5040" stroke-opacity="0.45" stroke-width="0.5"/>
<rect x="82.69" y="311.22" width="4.57" height="4.48" fill="#abdda4" stroke="#5a5040" stroke-opacity="0.45" stroke-width="0.5"/>
<rect x="50.69" y="315.71" width="4.57" height="4.48" fill="#f46d43" stroke="#5a5040" stroke-opacity="0.45" stroke-width="0.5"/>
<rect x="55.26" y="315.71" width="4.57" height="4.48" fill="#ffffbf" stroke="#5a5040" stroke-opacity="0.45" stroke-width="0.5"/>
<rect x="59.84" y="315.71" width="4.57" height="4.48" fill="#abdda4" stroke="#5a5040" stroke-opacity="0.45" stroke-width="0.5"/>
<rect x="64.41" y="315.71" width="4.57" height="4.48" fill="#abdda4" stroke="#5a5040" stroke-opacity="0.45" stroke-width="0.5"/>
<rect x="68.98" y="315.71" width="4.57" height="4.48" fill="#ffffbf" stroke="#5a5040" stroke-opacity="0.45" stroke-width="0.5"/>
<rect x="73.55" y="315.71" width="4.57" height="4.48" fill="#fdae61" stroke="#5a5040" stroke-opacity="0.45" stroke-width="0.5"/>
<rect x="78.12" y="315.71" width="4.57" height="4.48" fill="#fdae61" stroke="#5a5040" stroke-opacity="0.45" stroke-width="0.5"/>
<rect x="82.69" y="315.71" width="4.57" height="4.48" fill="#fee08b" stroke="#5a5040" stroke-opacity="0.45" stroke-width="0.5"/>
<rect x="87.26" y="315.71" width="4.57" height="4.48" fill="#3288bd" stroke="#5a5040" stroke-opacity="0.45" stroke-width="0.5"/>
<rect x="91.83" y="315.71" width="4.57" height="4.48" fill="#3288bd" stroke="#5a5040" stroke-opacity="0.45" stroke-width="0.5"/>
<rect x="50.69" y="320.19" width="4.57" height="4.48" fill="#fee08b" stroke="#5a5040" stroke-opacity="0.45" stroke-width="0.5"/>
<rect x="55.26" y="320.19" width="4.57" height="4.48" fill="#66c2a5" stroke="#5a5040" stroke-opacity="0.45" stroke-width="0.5"/>
<rect x="59.84" y="320.19" width="4.57" height="4.48" fill="#abdda4" stroke="#5a5040" stroke-opacity="0.45" stroke-width="0.5"/>
<rect x="64.41" y="320.19" width="4.57" height="4.48" fill="#66c2a5" stroke="#5a5040" stroke-opacity="0.45" stroke-width="0.5"/>
<rect x="68.98" y="320.19" width="4.57" height="4.48" fill="#ffffbf" stroke="#5a5040" stroke-opacity="0.45" stroke-width="0.5"/>
<rect x="50.69" y="324.67" width="4.57" height="4.48" fill="#abdda4" stroke="#5a5040" stroke-opacity="0.45" stroke-width="0.5"/>
<rect x="55.26" y="324.67" width="4.57" height="4.48" fill="#66c2a5" stroke="#5a5040" stroke-opacity="0.45" stroke-width="0.5"/>
<rect x="59.84" y="324.67" width="4.57" height="4.48" fill="#abdda4" stroke="#5a5040" stroke-opacity="0.45" stroke-width="0.5"/>
<rect x="64.41" y="324.67" width="4.57" height="4.48" fill="#fee08b" stroke="#5a5040" stroke-opacity="0.45" stroke-width="0.5"/>
<rect x="55.26" y="329.15" width="4.57" height="4.48" fill="#66c2a5" stroke="#5a5040" stroke-opacity="0.45" stroke-width="0.5"/>
<rect x="59.84" y="329.15" width="4.57" height="4.48" fill="#fee08b" stroke="#5a5040" stroke-opacity="0.45" stroke-width="0.5"/>
<rect x="64.41" y="329.15" width="4.57" height="4.48" fill="#9e0142" stroke="#5a5040" stroke-opacity="0.45" stroke-width="0.5"/>
<rect x="55.26" y="333.64" width="4.57" height="4.48" fill="#abdda4" stroke="#5a5040" stroke-opacity="0.45" stroke-width="0.5"/>
<rect x="59.84" y="333.64" width="4.57" height="4.48" fill="#f46d43" stroke="#5a5040" stroke-opacity="0.45" stroke-width="0.5"/>
<rect x="59.84" y="338.12" width="4.57" height="4.48" fill="#d53e4f" stroke="#5a5040" stroke-opacity="0.45" stroke-width="0.5"/>
<rect x="106.20" y="311.80" width="79.40" height="78.20" fill="#000" stroke="#3a3a3a" stroke-width="1"/>
<rect x="107.20" y="312.80" width="4.55" height="4.48" fill="#3288bd" stroke="#5a5040" stroke-opacity="0.45" stroke-width="0.5"/>
<rect x="111.75" y="312.80" width="4.55" height="4.48" fill="#ffffbf" stroke="#5a5040" stroke-opacity="0.45" stroke-width="0.5"/>
<rect x="107.20" y="317.28" width="4.55" height="4.48" fill="#ffffbf" stroke="#5a5040" stroke-opacity="0.45" stroke-width="0.5"/>
<rect x="111.75" y="317.28" width="4.55" height="4.48" fill="#fdae61" stroke="#5a5040" stroke-opacity="0.45" stroke-width="0.5"/>
<rect x="116.31" y="317.28" width="4.55" height="4.48" fill="#f46d43" stroke="#5a5040" stroke-opacity="0.45" stroke-width="0.5"/>
<rect x="120.86" y="317.28" width="4.55" height="4.48" fill="#f46d43" stroke="#5a5040" stroke-opacity="0.45" stroke-width="0.5"/>
<rect x="107.20" y="321.76" width="4.55" height="4.48" fill="#fdae61" stroke="#5a5040" stroke-opacity="0.45" stroke-width="0.5"/>
<rect x="111.75" y="321.76" width="4.55" height="4.48" fill="#fee08b" stroke="#5a5040" stroke-opacity="0.45" stroke-width="0.5"/>
<rect x="116.31" y="321.76" width="4.55" height="4.48" fill="#fee08b" stroke="#5a5040" stroke-opacity="0.45" stroke-width="0.5"/>
<rect x="120.86" y="321.76" width="4.55" height="4.48" fill="#ffffbf" stroke="#5a5040" stroke-opacity="0.45" stroke-width="0.5"/>
<rect x="125.41" y="321.76" width="4.55" height="4.48" fill="#ffffbf" stroke="#5a5040" stroke-opacity="0.45" stroke-width="0.5"/>
<rect x="107.20" y="326.25" width="4.55" height="4.48" fill="#fee08b" stroke="#5a5040" stroke-opacity="0.45" stroke-width="0.5"/>
<rect x="111.75" y="326.25" width="4.55" height="4.48" fill="#e6f598" stroke="#5a5040" stroke-opacity="0.45" stroke-width="0.5"/>
<rect x="116.31" y="326.25" width="4.55" height="4.48" fill="#e6f598" stroke="#5a5040" stroke-opacity="0.45" stroke-width="0.5"/>
<rect x="120.86" y="326.25" width="4.55" height="4.48" fill="#fee08b" stroke="#5a5040" stroke-opacity="0.45" stroke-width="0.5"/>
<rect x="125.41" y="326.25" width="4.55" height="4.48" fill="#fee08b" stroke="#5a5040" stroke-opacity="0.45" stroke-width="0.5"/>
<rect x="129.96" y="326.25" width="4.55" height="4.48" fill="#fdae61" stroke="#5a5040" stroke-opacity="0.45" stroke-width="0.5"/>
<rect x="116.31" y="330.73" width="4.55" height="4.48" fill="#e6f598" stroke="#5a5040" stroke-opacity="0.45" stroke-width="0.5"/>
<rect x="120.86" y="330.73" width="4.55" height="4.48" fill="#fee08b" stroke="#5a5040" stroke-opacity="0.45" stroke-width="0.5"/>
<rect x="125.41" y="330.73" width="4.55" height="4.48" fill="#fdae61" stroke="#5a5040" stroke-opacity="0.45" stroke-width="0.5"/>
<rect x="129.96" y="330.73" width="4.55" height="4.48" fill="#fdae61" stroke="#5a5040" stroke-opacity="0.45" stroke-width="0.5"/>
<rect x="134.52" y="330.73" width="4.55" height="4.48" fill="#fdae61" stroke="#5a5040" stroke-opacity="0.45" stroke-width="0.5"/>
<rect x="139.07" y="330.73" width="4.55" height="4.48" fill="#ffffbf" stroke="#5a5040" stroke-opacity="0.45" stroke-width="0.5"/>
<rect x="143.62" y="330.73" width="4.55" height="4.48" fill="#e6f598" stroke="#5a5040" stroke-opacity="0.45" stroke-width="0.5"/>
<rect x="125.41" y="335.21" width="4.55" height="4.48" fill="#ffffbf" stroke="#5a5040" stroke-opacity="0.45" stroke-width="0.5"/>
<rect x="129.96" y="335.21" width="4.55" height="4.48" fill="#ffffbf" stroke="#5a5040" stroke-opacity="0.45" stroke-width="0.5"/>
<rect x="134.52" y="335.21" width="4.55" height="4.48" fill="#ffffbf" stroke="#5a5040" stroke-opacity="0.45" stroke-width="0.5"/>
<rect x="139.07" y="335.21" width="4.55" height="4.48" fill="#e6f598" stroke="#5a5040" stroke-opacity="0.45" stroke-width="0.5"/>
<rect x="143.62" y="335.21" width="4.55" height="4.48" fill="#e6f598" stroke="#5a5040" stroke-opacity="0.45" stroke-width="0.5"/>
<rect x="129.96" y="339.69" width="4.55" height="4.48" fill="#e6f598" stroke="#5a5040" stroke-opacity="0.45" stroke-width="0.5"/>
<rect x="134.52" y="339.69" width="4.55" height="4.48" fill="#fee08b" stroke="#5a5040" stroke-opacity="0.45" stroke-width="0.5"/>
<rect x="139.07" y="339.69" width="4.55" height="4.48" fill="#ffffbf" stroke="#5a5040" stroke-opacity="0.45" stroke-width="0.5"/>
<rect x="143.62" y="339.69" width="4.55" height="4.48" fill="#ffffbf" stroke="#5a5040" stroke-opacity="0.45" stroke-width="0.5"/>
<rect x="148.18" y="339.69" width="4.55" height="4.48" fill="#ffffbf" stroke="#5a5040" stroke-opacity="0.45" stroke-width="0.5"/>
<rect x="152.73" y="339.69" width="4.55" height="4.48" fill="#fee08b" stroke="#5a5040" stroke-opacity="0.45" stroke-width="0.5"/>
<rect x="134.52" y="344.18" width="4.55" height="4.48" fill="#fdae61" stroke="#5a5040" stroke-opacity="0.45" stroke-width="0.5"/>
<rect x="139.07" y="344.18" width="4.55" height="4.48" fill="#f46d43" stroke="#5a5040" stroke-opacity="0.45" stroke-width="0.5"/>
<rect x="143.62" y="344.18" width="4.55" height="4.48" fill="#fee08b" stroke="#5a5040" stroke-opacity="0.45" stroke-width="0.5"/>
<rect x="148.18" y="344.18" width="4.55" height="4.48" fill="#e6f598" stroke="#5a5040" stroke-opacity="0.45" stroke-width="0.5"/>
<rect x="152.73" y="344.18" width="4.55" height="4.48" fill="#ffffbf" stroke="#5a5040" stroke-opacity="0.45" stroke-width="0.5"/>
<rect x="157.28" y="344.18" width="4.55" height="4.48" fill="#fdae61" stroke="#5a5040" stroke-opacity="0.45" stroke-width="0.5"/>
<rect x="134.52" y="348.66" width="4.55" height="4.48" fill="#f46d43" stroke="#5a5040" stroke-opacity="0.45" stroke-width="0.5"/>
<rect x="139.07" y="348.66" width="4.55" height="4.48" fill="#f46d43" stroke="#5a5040" stroke-opacity="0.45" stroke-width="0.5"/>
<rect x="143.62" y="348.66" width="4.55" height="4.48" fill="#fdae61" stroke="#5a5040" stroke-opacity="0.45" stroke-width="0.5"/>
<rect x="148.18" y="348.66" width="4.55" height="4.48" fill="#ffffbf" stroke="#5a5040" stroke-opacity="0.45" stroke-width="0.5"/>
<rect x="152.73" y="348.66" width="4.55" height="4.48" fill="#ffffbf" stroke="#5a5040" stroke-opacity="0.45" stroke-width="0.5"/>
<rect x="157.28" y="348.66" width="4.55" height="4.48" fill="#fee08b" stroke="#5a5040" stroke-opacity="0.45" stroke-width="0.5"/>
<rect x="161.84" y="348.66" width="4.55" height="4.48" fill="#fee08b" stroke="#5a5040" stroke-opacity="0.45" stroke-width="0.5"/>
<rect x="166.39" y="348.66" width="4.55" height="4.48" fill="#fee08b" stroke="#5a5040" stroke-opacity="0.45" stroke-width="0.5"/>
<rect x="134.52" y="353.14" width="4.55" height="4.48" fill="#fee08b" stroke="#5a5040" stroke-opacity="0.45" stroke-width="0.5"/>
<rect x="139.07" y="353.14" width="4.55" height="4.48" fill="#fdae61" stroke="#5a5040" stroke-opacity="0.45" stroke-width="0.5"/>
<rect x="143.62" y="353.14" width="4.55" height="4.48" fill="#fee08b" stroke="#5a5040" stroke-opacity="0.45" stroke-width="0.5"/>
<rect x="148.18" y="353.14" width="4.55" height="4.48" fill="#ffffbf" stroke="#5a5040" stroke-opacity="0.45" stroke-width="0.5"/>
<rect x="152.73" y="353.14" width="4.55" height="4.48" fill="#ffffbf" stroke="#5a5040" stroke-opacity="0.45" stroke-width="0.5"/>
<rect x="157.28" y="353.14" width="4.55" height="4.48" fill="#fee08b" stroke="#5a5040" stroke-opacity="0.45" stroke-width="0.5"/>
<rect x="161.84" y="353.14" width="4.55" height="4.48" fill="#ffffbf" stroke="#5a5040" stroke-opacity="0.45" stroke-width="0.5"/>
<rect x="166.39" y="353.14" width="4.55" height="4.48" fill="#ffffbf" stroke="#5a5040" stroke-opacity="0.45" stroke-width="0.5"/>
<rect x="170.94" y="353.14" width="4.55" height="4.48" fill="#ffffbf" stroke="#5a5040" stroke-opacity="0.45" stroke-width="0.5"/>
<rect x="139.07" y="357.62" width="4.55" height="4.48" fill="#e6f598" stroke="#5a5040" stroke-opacity="0.45" stroke-width="0.5"/>
<rect x="143.62" y="357.62" width="4.55" height="4.48" fill="#ffffbf" stroke="#5a5040" stroke-opacity="0.45" stroke-width="0.5"/>
<rect x="148.18" y="357.62" width="4.55" height="4.48" fill="#e6f598" stroke="#5a5040" stroke-opacity="0.45" stroke-width="0.5"/>
<rect x="152.73" y="357.62" width="4.55" height="4.48" fill="#abdda4" stroke="#5a5040" stroke-opacity="0.45" stroke-width="0.5"/>
<rect x="157.28" y="357.62" width="4.55" height="4.48" fill="#ffffbf" stroke="#5a5040" stroke-opacity="0.45" stroke-width="0.5"/>
<rect x="161.84" y="357.62" width="4.55" height="4.48" fill="#fdae61" stroke="#5a5040" stroke-opacity="0.45" stroke-width="0.5"/>
<rect x="166.39" y="357.62" width="4.55" height="4.48" fill="#fdae61" stroke="#5a5040" stroke-opacity="0.45" stroke-width="0.5"/>
<rect x="170.94" y="357.62" width="4.55" height="4.48" fill="#ffffbf" stroke="#5a5040" stroke-opacity="0.45" stroke-width="0.5"/>
<rect x="139.07" y="362.11" width="4.55" height="4.48" fill="#66c2a5" stroke="#5a5040" stroke-opacity="0.45" stroke-width="0.5"/>
<rect x="143.62" y="362.11" width="4.55" height="4.48" fill="#e6f598" stroke="#5a5040" stroke-opacity="0.45" stroke-width="0.5"/>
<rect x="148.18" y="362.11" width="4.55" height="4.48" fill="#e6f598" stroke="#5a5040" stroke-opacity="0.45" stroke-width="0.5"/>
<rect x="152.73" y="362.11" width="4.55" height="4.48" fill="#ffffbf" stroke="#5a5040" stroke-opacity="0.45" stroke-width="0.5"/>
<rect x="157.28" y="362.11" width="4.55" height="4.48" fill="#ffffbf" stroke="#5a5040" stroke-opacity="0.45" stroke-width="0.5"/>
<rect x="161.84" y="362.11" width="4.55" height="4.48" fill="#f46d43" stroke="#5a5040" stroke-opacity="0.45" stroke-width="0.5"/>
<rect x="166.39" y="362.11" width="4.55" height="4.48" fill="#f46d43" stroke="#5a5040" stroke-opacity="0.45" stroke-width="0.5"/>
<rect x="170.94" y="362.11" width="4.55" height="4.48" fill="#fdae61" stroke="#5a5040" stroke-opacity="0.45" stroke-width="0.5"/>
<rect x="175.49" y="362.11" width="4.55" height="4.48" fill="#ffffbf" stroke="#5a5040" stroke-opacity="0.45" stroke-width="0.5"/>
<rect x="180.05" y="362.11" width="4.55" height="4.48" fill="#e6f598" stroke="#5a5040" stroke-opacity="0.45" stroke-width="0.5"/>
<rect x="139.07" y="366.59" width="4.55" height="4.48" fill="#abdda4" stroke="#5a5040" stroke-opacity="0.45" stroke-width="0.5"/>
<rect x="143.62" y="366.59" width="4.55" height="4.48" fill="#ffffbf" stroke="#5a5040" stroke-opacity="0.45" stroke-width="0.5"/>
<rect x="148.18" y="366.59" width="4.55" height="4.48" fill="#ffffbf" stroke="#5a5040" stroke-opacity="0.45" stroke-width="0.5"/>
<rect x="152.73" y="366.59" width="4.55" height="4.48" fill="#ffffbf" stroke="#5a5040" stroke-opacity="0.45" stroke-width="0.5"/>
<rect x="157.28" y="366.59" width="4.55" height="4.48" fill="#ffffbf" stroke="#5a5040" stroke-opacity="0.45" stroke-width="0.5"/>
<rect x="139.07" y="371.07" width="4.55" height="4.48" fill="#f46d43" stroke="#5a5040" stroke-opacity="0.45" stroke-width="0.5"/>
<rect x="143.62" y="371.07" width="4.55" height="4.48" fill="#d53e4f" stroke="#5a5040" stroke-opacity="0.45" stroke-width="0.5"/>
<rect x="148.18" y="371.07" width="4.55" height="4.48" fill="#fee08b" stroke="#5a5040" stroke-opacity="0.45" stroke-width="0.5"/>
<rect x="152.73" y="371.07" width="4.55" height="4.48" fill="#e6f598" stroke="#5a5040" stroke-opacity="0.45" stroke-width="0.5"/>
<rect x="143.62" y="375.55" width="4.55" height="4.48" fill="#9e0142" stroke="#5a5040" stroke-opacity="0.45" stroke-width="0.5"/>
<rect x="148.18" y="375.55" width="4.55" height="4.48" fill="#fee08b" stroke="#5a5040" stroke-opacity="0.45" stroke-width="0.5"/>
<rect x="152.73" y="375.55" width="4.55" height="4.48" fill="#abdda4" stroke="#5a5040" stroke-opacity="0.45" stroke-width="0.5"/>
<rect x="143.62" y="380.04" width="4.55" height="4.48" fill="#d53e4f" stroke="#5a5040" stroke-opacity="0.45" stroke-width="0.5"/>
<rect x="148.18" y="380.04" width="4.55" height="4.48" fill="#fee08b" stroke="#5a5040" stroke-opacity="0.45" stroke-width="0.5"/>
<rect x="148.18" y="384.52" width="4.55" height="4.48" fill="#e6f598" stroke="#5a5040" stroke-opacity="0.45" stroke-width="0.5"/>
<rect x="593.00" y="267.70" width="80.60" height="76.80" fill="#000" stroke="#3a3a3a" stroke-width="1"/>
<rect x="594.00" y="268.70" width="4.37" height="5.75" fill="#f46d43" stroke="#5a5040" stroke-opacity="0.45" stroke-width="0.5"/>
<rect x="598.37" y="268.70" width="4.37" height="5.75" fill="#fee08b" stroke="#5a5040" stroke-opacity="0.45" stroke-width="0.5"/>
<rect x="602.73" y="268.70" width="4.37" height="5.75" fill="#abdda4" stroke="#5a5040" stroke-opacity="0.45" stroke-width="0.5"/>
<rect x="655.13" y="268.70" width="4.37" height="5.75" fill="#f46d43" stroke="#5a5040" stroke-opacity="0.45" stroke-width="0.5"/>
<rect x="659.50" y="268.70" width="4.37" height="5.75" fill="#fdae61" stroke="#5a5040" stroke-opacity="0.45" stroke-width="0.5"/>
<rect x="663.87" y="268.70" width="4.37" height="5.75" fill="#e6f598" stroke="#5a5040" stroke-opacity="0.45" stroke-width="0.5"/>
<rect x="594.00" y="274.45" width="4.37" height="5.75" fill="#f46d43" stroke="#5a5040" stroke-opacity="0.45" stroke-width="0.5"/>
<rect x="598.37" y="274.45" width="4.37" height="5.75" fill="#fee08b" stroke="#5a5040" stroke-opacity="0.45" stroke-width="0.5"/>
<rect x="602.73" y="274.45" width="4.37" height="5.75" fill="#ffffbf" stroke="#5a5040" stroke-opacity="0.45" stroke-width="0.5"/>
<rect x="607.10" y="274.45" width="4.37" height="5.75" fill="#ffffbf" stroke="#5a5040" stroke-opacity="0.45" stroke-width="0.5"/>
<rect x="646.40" y="274.45" width="4.37" height="5.75" fill="#d53e4f" stroke="#5a5040" stroke-opacity="0.45" stroke-width="0.5"/>
<rect x="650.77" y="274.45" width="4.37" height="5.75" fill="#f46d43" stroke="#5a5040" stroke-opacity="0.45" stroke-width="0.5"/>
<rect x="655.13" y="274.45" width="4.37" height="5.75" fill="#fdae61" stroke="#5a5040" stroke-opacity="0.45" stroke-width="0.5"/>
<rect x="659.50" y="274.45" width="4.37" height="5.75" fill="#ffffbf" stroke="#5a5040" stroke-opacity="0.45" stroke-width="0.5"/>
<rect x="663.87" y="274.45" width="4.37" height="5.75" fill="#abdda4" stroke="#5a5040" stroke-opacity="0.45" stroke-width="0.5"/>
<rect x="594.00" y="280.21" width="4.37" height="5.75" fill="#ffffbf" stroke="#5a5040" stroke-opacity="0.45" stroke-width="0.5"/>
<rect x="598.37" y="280.21" width="4.37" height="5.75" fill="#abdda4" stroke="#5a5040" stroke-opacity="0.45" stroke-width="0.5"/>
<rect x="602.73" y="280.21" width="4.37" height="5.75" fill="#abdda4" stroke="#5a5040" stroke-opacity="0.45" stroke-width="0.5"/>
<rect x="607.10" y="280.21" width="4.37" height="5.75" fill="#ffffbf" stroke="#5a5040" stroke-opacity="0.45" stroke-width="0.5"/>
<rect x="611.47" y="280.21" width="4.37" height="5.75" fill="#fee08b" stroke="#5a5040" stroke-opacity="0.45" stroke-width="0.5"/>
<rect x="642.03" y="280.21" width="4.37" height="5.75" fill="#d53e4f" stroke="#5a5040" stroke-opacity="0.45" stroke-width="0.5"/>
<rect x="646.40" y="280.21" width="4.37" height="5.75" fill="#f46d43" stroke="#5a5040" stroke-opacity="0.45" stroke-width="0.5"/>
<rect x="650.77" y="280.21" width="4.37" height="5.75" fill="#fee08b" stroke="#5a5040" stroke-opacity="0.45" stroke-width="0.5"/>
<rect x="655.13" y="280.21" width="4.37" height="5.75" fill="#ffffbf" stroke="#5a5040" stroke-opacity="0.45" stroke-width="0.5"/>
<rect x="659.50" y="280.21" width="4.37" height="5.75" fill="#e6f598" stroke="#5a5040" stroke-opacity="0.45" stroke-width="0.5"/>
<rect x="663.87" y="280.21" width="4.37" height="5.75" fill="#e6f598" stroke="#5a5040" stroke-opacity="0.45" stroke-width="0.5"/>
<rect x="668.23" y="280.21" width="4.37" height="5.75" fill="#e6f598" stroke="#5a5040" stroke-opacity="0.45" stroke-width="0.5"/>
<rect x="598.37" y="285.96" width="4.37" height="5.75" fill="#66c2a5" stroke="#5a5040" stroke-opacity="0.45" stroke-width="0.5"/>
<rect x="602.73" y="285.96" width="4.37" height="5.75" fill="#abdda4" stroke="#5a5040" stroke-opacity="0.45" stroke-width="0.5"/>
<rect x="607.10" y="285.96" width="4.37" height="5.75" fill="#fee08b" stroke="#5a5040" stroke-opacity="0.45" stroke-width="0.5"/>
<rect x="611.47" y="285.96" width="4.37" height="5.75" fill="#fdae61" stroke="#5a5040" stroke-opacity="0.45" stroke-width="0.5"/>
<rect x="615.83" y="285.96" width="4.37" height="5.75" fill="#fee08b" stroke="#5a5040" stroke-opacity="0.45" stroke-width="0.5"/>
<rect x="642.03" y="285.96" width="4.37" height="5.75" fill="#f46d43" stroke="#5a5040" stroke-opacity="0.45" stroke-width="0.5"/>
<rect x="646.40" y="285.96" width="4.37" height="5.75" fill="#fee08b" stroke="#5a5040" stroke-opacity="0.45" stroke-width="0.5"/>
<rect x="650.77" y="285.96" width="4.37" height="5.75" fill="#e6f598" stroke="#5a5040" stroke-opacity="0.45" stroke-width="0.5"/>
<rect x="655.13" y="285.96" width="4.37" height="5.75" fill="#ffffbf" stroke="#5a5040" stroke-opacity="0.45" stroke-width="0.5"/>
<rect x="659.50" y="285.96" width="4.37" height="5.75" fill="#fee08b" stroke="#5a5040" stroke-opacity="0.45" stroke-width="0.5"/>
<rect x="663.87" y="285.96" width="4.37" height="5.75" fill="#fdae61" stroke="#5a5040" stroke-opacity="0.45" stroke-width="0.5"/>
<rect x="611.47" y="291.72" width="4.37" height="5.75" fill="#fdae61" stroke="#5a5040" stroke-opacity="0.45" stroke-width="0.5"/>
<rect x="615.83" y="291.72" width="4.37" height="5.75" fill="#fdae61" stroke="#5a5040" stroke-opacity="0.45" stroke-width="0.5"/>
<rect x="620.20" y="291.72" width="4.37" height="5.75" fill="#e6f598" stroke="#5a5040" stroke-opacity="0.45" stroke-width="0.5"/>
<rect x="637.67" y="291.72" width="4.37" height="5.75" fill="#ffffbf" stroke="#5a5040" stroke-opacity="0.45" stroke-width="0.5"/>
<rect x="642.03" y="291.72" width="4.37" height="5.75" fill="#fee08b" stroke="#5a5040" stroke-opacity="0.45" stroke-width="0.5"/>
<rect x="646.40" y="291.72" width="4.37" height="5.75" fill="#ffffbf" stroke="#5a5040" stroke-opacity="0.45" stroke-width="0.5"/>
<rect x="611.47" y="297.47" width="4.37" height="5.75" fill="#fee08b" stroke="#5a5040" stroke-opacity="0.45" stroke-width="0.5"/>
<rect x="615.83" y="297.47" width="4.37" height="5.75" fill="#fee08b" stroke="#5a5040" stroke-opacity="0.45" stroke-width="0.5"/>
<rect x="620.20" y="297.47" width="4.37" height="5.75" fill="#fee08b" stroke="#5a5040" stroke-opacity="0.45" stroke-width="0.5"/>
<rect x="624.57" y="297.47" width="4.37" height="5.75" fill="#e6f598" stroke="#5a5040" stroke-opacity="0.45" stroke-width="0.5"/>
<rect x="637.67" y="297.47" width="4.37" height="5.75" fill="#e6f598" stroke="#5a5040" stroke-opacity="0.45" stroke-width="0.5"/>
<rect x="642.03" y="297.47" width="4.37" height="5.75" fill="#ffffbf" stroke="#5a5040" stroke-opacity="0.45" stroke-width="0.5"/>
<rect x="646.40" y="297.47" width="4.37" height="5.75" fill="#ffffbf" stroke="#5a5040" stroke-opacity="0.45" stroke-width="0.5"/>
<rect x="615.83" y="303.22" width="4.37" height="5.75" fill="#fee08b" stroke="#5a5040" stroke-opacity="0.45" stroke-width="0.5"/>
<rect x="620.20" y="303.22" width="4.37" height="5.75" fill="#fee08b" stroke="#5a5040" stroke-opacity="0.45" stroke-width="0.5"/>
<rect x="624.57" y="303.22" width="4.37" height="5.75" fill="#fee08b" stroke="#5a5040" stroke-opacity="0.45" stroke-width="0.5"/>
<rect x="628.93" y="303.22" width="4.37" height="5.75" fill="#ffffbf" stroke="#5a5040" stroke-opacity="0.45" stroke-width="0.5"/>
<rect x="633.30" y="303.22" width="4.37" height="5.75" fill="#ffffbf" stroke="#5a5040" stroke-opacity="0.45" stroke-width="0.5"/>
<rect x="637.67" y="303.22" width="4.37" height="5.75" fill="#ffffbf" stroke="#5a5040" stroke-opacity="0.45" stroke-width="0.5"/>
<rect x="642.03" y="303.22" width="4.37" height="5.75" fill="#fee08b" stroke="#5a5040" stroke-opacity="0.45" stroke-width="0.5"/>
<rect x="646.40" y="303.22" width="4.37" height="5.75" fill="#fee08b" stroke="#5a5040" stroke-opacity="0.45" stroke-width="0.5"/>
<rect x="611.47" y="308.98" width="4.37" height="5.75" fill="#fee08b" stroke="#5a5040" stroke-opacity="0.45" stroke-width="0.5"/>
<rect x="615.83" y="308.98" width="4.37" height="5.75" fill="#fee08b" stroke="#5a5040" stroke-opacity="0.45" stroke-width="0.5"/>
<rect x="620.20" y="308.98" width="4.37" height="5.75" fill="#fee08b" stroke="#5a5040" stroke-opacity="0.45" stroke-width="0.5"/>
<rect x="624.57" y="308.98" width="4.37" height="5.75" fill="#fee08b" stroke="#5a5040" stroke-opacity="0.45" stroke-width="0.5"/>
<rect x="628.93" y="308.98" width="4.37" height="5.75" fill="#fdae61" stroke="#5a5040" stroke-opacity="0.45" stroke-width="0.5"/>
<rect x="633.30" y="308.98" width="4.37" height="5.75" fill="#fdae61" stroke="#5a5040" stroke-opacity="0.45" stroke-width="0.5"/>
<rect x="637.67" y="308.98" width="4.37" height="5.75" fill="#fdae61" stroke="#5a5040" stroke-opacity="0.45" stroke-width="0.5"/>
<rect x="642.03" y="308.98" width="4.37" height="5.75" fill="#fdae61" stroke="#5a5040" stroke-opacity="0.45" stroke-width="0.5"/>
<rect x="646.40" y="308.98" width="4.37" height="5.75" fill="#fee08b" stroke="#5a5040" stroke-opacity="0.45" stroke-width="0.5"/>
<rect x="611.47" y="314.73" width="4.37" height="5.75" fill="#fee08b" stroke="#5a5040" stroke-opacity="0.45" stroke-width="0.5"/>
<rect x="615.83" y="314.73" width="4.37" height="5.75" fill="#fee08b" stroke="#5a5040" stroke-opacity="0.45" stroke-width="0.5"/>
<rect x="620.20" y="314.73" width="4.37" height="5.75" fill="#ffffbf" stroke="#5a5040" stroke-opacity="0.45" stroke-width="0.5"/>
<rect x="624.57" y="314.73" width="4.37" height="5.75" fill="#ffffbf" stroke="#5a5040" stroke-opacity="0.45" stroke-width="0.5"/>
<rect x="628.93" y="314.73" width="4.37" height="5.75" fill="#fdae61" stroke="#5a5040" stroke-opacity="0.45" stroke-width="0.5"/>
<rect x="633.30" y="314.73" width="4.37" height="5.75" fill="#f46d43" stroke="#5a5040" stroke-opacity="0.45" stroke-width="0.5"/>
<rect x="637.67" y="314.73" width="4.37" height="5.75" fill="#d53e4f" stroke="#5a5040" stroke-opacity="0.45" stroke-width="0.5"/>
<rect x="642.03" y="314.73" width="4.37" height="5.75" fill="#f46d43" stroke="#5a5040" stroke-opacity="0.45" stroke-width="0.5"/>
<rect x="646.40" y="314.73" width="4.37" height="5.75" fill="#fee08b" stroke="#5a5040" stroke-opacity="0.45" stroke-width="0.5"/>
<rect x="594.00" y="320.48" width="4.37" height="5.75" fill="#f46d43" stroke="#5a5040" stroke-opacity="0.45" stroke-width="0.5"/>
<rect x="598.37" y="320.48" width="4.37" height="5.75" fill="#f46d43" stroke="#5a5040" stroke-opacity="0.45" stroke-width="0.5"/>
<rect x="602.73" y="320.48" width="4.37" height="5.75" fill="#fee08b" stroke="#5a5040" stroke-opacity="0.45" stroke-width="0.5"/>
<rect x="607.10" y="320.48" width="4.37" height="5.75" fill="#fee08b" stroke="#5a5040" stroke-opacity="0.45" stroke-width="0.5"/>
<rect x="611.47" y="320.48" width="4.37" height="5.75" fill="#fee08b" stroke="#5a5040" stroke-opacity="0.45" stroke-width="0.5"/>
<rect x="615.83" y="320.48" width="4.37" height="5.75" fill="#ffffbf" stroke="#5a5040" stroke-opacity="0.45" stroke-width="0.5"/>
<rect x="620.20" y="320.48" width="4.37" height="5.75" fill="#ffffbf" stroke="#5a5040" stroke-opacity="0.45" stroke-width="0.5"/>
<rect x="624.57" y="320.48" width="4.37" height="5.75" fill="#ffffbf" stroke="#5a5040" stroke-opacity="0.45" stroke-width="0.5"/>
<rect x="628.93" y="320.48" width="4.37" height="5.75" fill="#fee08b" stroke="#5a5040" stroke-opacity="0.45" stroke-width="0.5"/>
<rect x="633.30" y="320.48" width="4.37" height="5.75" fill="#fdae61" stroke="#5a5040" stroke-opacity="0.45" stroke-width="0.5"/>
<rect x="637.67" y="320.48" width="4.37" height="5.75" fill="#f46d43" stroke="#5a5040" stroke-opacity="0.45" stroke-width="0.5"/>
<rect x="642.03" y="320.48" width="4.37" height="5.75" fill="#fdae61" stroke="#5a5040" stroke-opacity="0.45" stroke-width="0.5"/>
<rect x="646.40" y="320.48" width="4.37" height="5.75" fill="#ffffbf" stroke="#5a5040" stroke-opacity="0.45" stroke-width="0.5"/>
<rect x="650.77" y="320.48" width="4.37" height="5.75" fill="#e6f598" stroke="#5a5040" stroke-opacity="0.45" stroke-width="0.5"/>
<rect x="655.13" y="320.48" width="4.37" height="5.75" fill="#abdda4" stroke="#5a5040" stroke-opacity="0.45" stroke-width="0.5"/>
<rect x="659.50" y="320.48" width="4.37" height="5.75" fill="#fee08b" stroke="#5a5040" stroke-opacity="0.45" stroke-width="0.5"/>
<rect x="663.87" y="320.48" width="4.37" height="5.75" fill="#d53e4f" stroke="#5a5040" stroke-opacity="0.45" stroke-width="0.5"/>
<rect x="594.00" y="326.24" width="4.37" height="5.75" fill="#fdae61" stroke="#5a5040" stroke-opacity="0.45" stroke-width="0.5"/>
<rect x="598.37" y="326.24" width="4.37" height="5.75" fill="#f46d43" stroke="#5a5040" stroke-opacity="0.45" stroke-width="0.5"/>
<rect x="602.73" y="326.24" width="4.37" height="5.75" fill="#fee08b" stroke="#5a5040" stroke-opacity="0.45" stroke-width="0.5"/>
<rect x="607.10" y="326.24" width="4.37" height="5.75" fill="#ffffbf" stroke="#5a5040" stroke-opacity="0.45" stroke-width="0.5"/>
<rect x="611.47" y="326.24" width="4.37" height="5.75" fill="#ffffbf" stroke="#5a5040" stroke-opacity="0.45" stroke-width="0.5"/>
<rect x="615.83" y="326.24" width="4.37" height="5.75" fill="#fee08b" stroke="#5a5040" stroke-opacity="0.45" stroke-width="0.5"/>
<rect x="620.20" y="326.24" width="4.37" height="5.75" fill="#ffffbf" stroke="#5a5040" stroke-opacity="0.45" stroke-width="0.5"/>
<rect x="624.57" y="326.24" width="4.37" height="5.75" fill="#ffffbf" stroke="#5a5040" stroke-opacity="0.45" stroke-width="0.5"/>
<rect x="628.93" y="326.24" width="4.37" height="5.75" fill="#e6f598" stroke="#5a5040" stroke-opacity="0.45" stroke-width="0.5"/>
<rect x="633.30" y="326.24" width="4.37" height="5.75" fill="#ffffbf" stroke="#5a5040" stroke-opacity="0.45" stroke-width="0.5"/>
<rect x="637.67" y="326.24" width="4.37" height="5.75" fill="#fee08b" stroke="#5a5040" stroke-opacity="0.45" stroke-width="0.5"/>
<rect x="642.03" y="326.24" width="4.37" height="5.75" fill="#fee08b" stroke="#5a5040" stroke-opacity="0.45" stroke-width="0.5"/>
<rect x="646.40" y="326.24" width="4.37" height="5.75" fill="#ffffbf" stroke="#5a5040" stroke-opacity="0.45" stroke-width="0.5"/>
<rect x="650.77" y="326.24" width="4.37" height="5.75" fill="#e6f598" stroke="#5a5040" stroke-opacity="0.45" stroke-width="0.5"/>
<rect x="655.13" y="326.24" width="4.37" height="5.75" fill="#e6f598" stroke="#5a5040" stroke-opacity="0.45" stroke-width="0.5"/>
<rect x="659.50" y="326.24" width="4.37" height="5.75" fill="#fee08b" stroke="#5a5040" stroke-opacity="0.45" stroke-width="0.5"/>
<rect x="663.87" y="326.24" width="4.37" height="5.75" fill="#9e0142" stroke="#5a5040" stroke-opacity="0.45" stroke-width="0.5"/>
<rect x="598.37" y="331.99" width="4.37" height="5.75" fill="#fdae61" stroke="#5a5040" stroke-opacity="0.45" stroke-width="0.5"/>
<rect x="602.73" y="331.99" width="4.37" height="5.75" fill="#fee08b" stroke="#5a5040" stroke-opacity="0.45" stroke-width="0.5"/>
<rect x="607.10" y="331.99" width="4.37" height="5.75" fill="#ffffbf" stroke="#5a5040" stroke-opacity="0.45" stroke-width="0.5"/>
<rect x="611.47" y="331.99" width="4.37" height="5.75" fill="#ffffbf" stroke="#5a5040" stroke-opacity="0.45" stroke-width="0.5"/>
<rect x="615.83" y="331.99" width="4.37" height="5.75" fill="#fee08b" stroke="#5a5040" stroke-opacity="0.45" stroke-width="0.5"/>
<rect x="620.20" y="331.99" width="4.37" height="5.75" fill="#fee08b" stroke="#5a5040" stroke-opacity="0.45" stroke-width="0.5"/>
<rect x="624.57" y="331.99" width="4.37" height="5.75" fill="#fee08b" stroke="#5a5040" stroke-opacity="0.45" stroke-width="0.5"/>
<rect x="642.03" y="331.99" width="4.37" height="5.75" fill="#fee08b" stroke="#5a5040" stroke-opacity="0.45" stroke-width="0.5"/>
<rect x="646.40" y="331.99" width="4.37" height="5.75" fill="#fee08b" stroke="#5a5040" stroke-opacity="0.45" stroke-width="0.5"/>
<rect x="650.77" y="331.99" width="4.37" height="5.75" fill="#ffffbf" stroke="#5a5040" stroke-opacity="0.45" stroke-width="0.5"/>
<rect x="655.13" y="331.99" width="4.37" height="5.75" fill="#ffffbf" stroke="#5a5040" stroke-opacity="0.45" stroke-width="0.5"/>
<rect x="659.50" y="331.99" width="4.37" height="5.75" fill="#fdae61" stroke="#5a5040" stroke-opacity="0.45" stroke-width="0.5"/>
<rect x="602.73" y="337.75" width="4.37" height="5.75" fill="#fdae61" stroke="#5a5040" stroke-opacity="0.45" stroke-width="0.5"/>
<rect x="607.10" y="337.75" width="4.37" height="5.75" fill="#e6f598" stroke="#5a5040" stroke-opacity="0.45" stroke-width="0.5"/>
<rect x="611.47" y="337.75" width="4.37" height="5.75" fill="#abdda4" stroke="#5a5040" stroke-opacity="0.45" stroke-width="0.5"/>
<rect x="615.83" y="337.75" width="4.37" height="5.75" fill="#e6f598" stroke="#5a5040" stroke-opacity="0.45" stroke-width="0.5"/>
<rect x="620.20" y="337.75" width="4.37" height="5.75" fill="#fdae61" stroke="#5a5040" stroke-opacity="0.45" stroke-width="0.5"/>
<rect x="633.30" y="337.75" width="4.37" height="5.75" fill="#fee08b" stroke="#5a5040" stroke-opacity="0.45" stroke-width="0.5"/>
<rect x="642.03" y="337.75" width="4.37" height="5.75" fill="#f46d43" stroke="#5a5040" stroke-opacity="0.45" stroke-width="0.5"/>
<rect x="646.40" y="337.75" width="4.37" height="5.75" fill="#d53e4f" stroke="#5a5040" stroke-opacity="0.45" stroke-width="0.5"/>
<rect x="650.77" y="337.75" width="4.37" height="5.75" fill="#f46d43" stroke="#5a5040" stroke-opacity="0.45" stroke-width="0.5"/>
<rect x="655.13" y="337.75" width="4.37" height="5.75" fill="#fdae61" stroke="#5a5040" stroke-opacity="0.45" stroke-width="0.5"/>
<rect x="503.50" y="313.10" width="81.40" height="76.30" fill="#000" stroke="#3a3a3a" stroke-width="1"/>
<rect x="504.50" y="314.10" width="4.41" height="5.72" fill="#3288bd" stroke="#5a5040" stroke-opacity="0.45" stroke-width="0.5"/>
<rect x="508.91" y="314.10" width="4.41" height="5.72" fill="#66c2a5" stroke="#5a5040" stroke-opacity="0.45" stroke-width="0.5"/>
<rect x="513.32" y="314.10" width="4.41" height="5.72" fill="#ffffbf" stroke="#5a5040" stroke-opacity="0.45" stroke-width="0.5"/>
<rect x="566.26" y="314.10" width="4.41" height="5.72" fill="#fee08b" stroke="#5a5040" stroke-opacity="0.45" stroke-width="0.5"/>
<rect x="570.67" y="314.10" width="4.41" height="5.72" fill="#fdae61" stroke="#5a5040" stroke-opacity="0.45" stroke-width="0.5"/>
<rect x="575.08" y="314.10" width="4.41" height="5.72" fill="#9e0142" stroke="#5a5040" stroke-opacity="0.45" stroke-width="0.5"/>
<rect x="504.50" y="319.82" width="4.41" height="5.72" fill="#ffffbf" stroke="#5a5040" stroke-opacity="0.45" stroke-width="0.5"/>
<rect x="508.91" y="319.82" width="4.41" height="5.72" fill="#fee08b" stroke="#5a5040" stroke-opacity="0.45" stroke-width="0.5"/>
<rect x="513.32" y="319.82" width="4.41" height="5.72" fill="#fdae61" stroke="#5a5040" stroke-opacity="0.45" stroke-width="0.5"/>
<rect x="517.73" y="319.82" width="4.41" height="5.72" fill="#fdae61" stroke="#5a5040" stroke-opacity="0.45" stroke-width="0.5"/>
<rect x="557.43" y="319.82" width="4.41" height="5.72" fill="#ffffbf" stroke="#5a5040" stroke-opacity="0.45" stroke-width="0.5"/>
<rect x="561.84" y="319.82" width="4.41" height="5.72" fill="#fee08b" stroke="#5a5040" stroke-opacity="0.45" stroke-width="0.5"/>
<rect x="566.26" y="319.82" width="4.41" height="5.72" fill="#fee08b" stroke="#5a5040" stroke-opacity="0.45" stroke-width="0.5"/>
<rect x="570.67" y="319.82" width="4.41" height="5.72" fill="#fee08b" stroke="#5a5040" stroke-opacity="0.45" stroke-width="0.5"/>
<rect x="575.08" y="319.82" width="4.41" height="5.72" fill="#fdae61" stroke="#5a5040" stroke-opacity="0.45" stroke-width="0.5"/>
<rect x="504.50" y="325.53" width="4.41" height="5.72" fill="#f46d43" stroke="#5a5040" stroke-opacity="0.45" stroke-width="0.5"/>
<rect x="508.91" y="325.53" width="4.41" height="5.72" fill="#fee08b" stroke="#5a5040" stroke-opacity="0.45" stroke-width="0.5"/>
<rect x="513.32" y="325.53" width="4.41" height="5.72" fill="#ffffbf" stroke="#5a5040" stroke-opacity="0.45" stroke-width="0.5"/>
<rect x="517.73" y="325.53" width="4.41" height="5.72" fill="#fee08b" stroke="#5a5040" stroke-opacity="0.45" stroke-width="0.5"/>
<rect x="522.14" y="325.53" width="4.41" height="5.72" fill="#f46d43" stroke="#5a5040" stroke-opacity="0.45" stroke-width="0.5"/>
<rect x="553.02" y="325.53" width="4.41" height="5.72" fill="#ffffbf" stroke="#5a5040" stroke-opacity="0.45" stroke-width="0.5"/>
<rect x="557.43" y="325.53" width="4.41" height="5.72" fill="#fee08b" stroke="#5a5040" stroke-opacity="0.45" stroke-width="0.5"/>
<rect x="561.84" y="325.53" width="4.41" height="5.72" fill="#fee08b" stroke="#5a5040" stroke-opacity="0.45" stroke-width="0.5"/>
<rect x="566.26" y="325.53" width="4.41" height="5.72" fill="#ffffbf" stroke="#5a5040" stroke-opacity="0.45" stroke-width="0.5"/>
<rect x="570.67" y="325.53" width="4.41" height="5.72" fill="#ffffbf" stroke="#5a5040" stroke-opacity="0.45" stroke-width="0.5"/>
<rect x="575.08" y="325.53" width="4.41" height="5.72" fill="#ffffbf" stroke="#5a5040" stroke-opacity="0.45" stroke-width="0.5"/>
<rect x="579.49" y="325.53" width="4.41" height="5.72" fill="#ffffbf" stroke="#5a5040" stroke-opacity="0.45" stroke-width="0.5"/>
<rect x="508.91" y="331.25" width="4.41" height="5.72" fill="#ffffbf" stroke="#5a5040" stroke-opacity="0.45" stroke-width="0.5"/>
<rect x="513.32" y="331.25" width="4.41" height="5.72" fill="#66c2a5" stroke="#5a5040" stroke-opacity="0.45" stroke-width="0.5"/>
<rect x="517.73" y="331.25" width="4.41" height="5.72" fill="#abdda4" stroke="#5a5040" stroke-opacity="0.45" stroke-width="0.5"/>
<rect x="522.14" y="331.25" width="4.41" height="5.72" fill="#fee08b" stroke="#5a5040" stroke-opacity="0.45" stroke-width="0.5"/>
<rect x="526.56" y="331.25" width="4.41" height="5.72" fill="#fee08b" stroke="#5a5040" stroke-opacity="0.45" stroke-width="0.5"/>
<rect x="553.02" y="331.25" width="4.41" height="5.72" fill="#fdae61" stroke="#5a5040" stroke-opacity="0.45" stroke-width="0.5"/>
<rect x="557.43" y="331.25" width="4.41" height="5.72" fill="#fdae61" stroke="#5a5040" stroke-opacity="0.45" stroke-width="0.5"/>
<rect x="561.84" y="331.25" width="4.41" height="5.72" fill="#ffffbf" stroke="#5a5040" stroke-opacity="0.45" stroke-width="0.5"/>
<rect x="566.26" y="331.25" width="4.41" height="5.72" fill="#ffffbf" stroke="#5a5040" stroke-opacity="0.45" stroke-width="0.5"/>
<rect x="570.67" y="331.25" width="4.41" height="5.72" fill="#ffffbf" stroke="#5a5040" stroke-opacity="0.45" stroke-width="0.5"/>
<rect x="575.08" y="331.25" width="4.41" height="5.72" fill="#ffffbf" stroke="#5a5040" stroke-opacity="0.45" stroke-width="0.5"/>
<rect x="522.14" y="336.96" width="4.41" height="5.72" fill="#abdda4" stroke="#5a5040" stroke-opacity="0.45" stroke-width="0.5"/>
<rect x="526.56" y="336.96" width="4.41" height="5.72" fill="#ffffbf" stroke="#5a5040" stroke-opacity="0.45" stroke-width="0.5"/>
<rect x="530.97" y="336.96" width="4.41" height="5.72" fill="#e6f598" stroke="#5a5040" stroke-opacity="0.45" stroke-width="0.5"/>
<rect x="548.61" y="336.96" width="4.41" height="5.72" fill="#fee08b" stroke="#5a5040" stroke-opacity="0.45" stroke-width="0.5"/>
<rect x="553.02" y="336.96" width="4.41" height="5.72" fill="#fdae61" stroke="#5a5040" stroke-opacity="0.45" stroke-width="0.5"/>
<rect x="557.43" y="336.96" width="4.41" height="5.72" fill="#fdae61" stroke="#5a5040" stroke-opacity="0.45" stroke-width="0.5"/>
<rect x="522.14" y="342.68" width="4.41" height="5.72" fill="#ffffbf" stroke="#5a5040" stroke-opacity="0.45" stroke-width="0.5"/>
<rect x="526.56" y="342.68" width="4.41" height="5.72" fill="#fee08b" stroke="#5a5040" stroke-opacity="0.45" stroke-width="0.5"/>
<rect x="530.97" y="342.68" width="4.41" height="5.72" fill="#ffffbf" stroke="#5a5040" stroke-opacity="0.45" stroke-width="0.5"/>
<rect x="535.38" y="342.68" width="4.41" height="5.72" fill="#abdda4" stroke="#5a5040" stroke-opacity="0.45" stroke-width="0.5"/>
<rect x="548.61" y="342.68" width="4.41" height="5.72" fill="#fee08b" stroke="#5a5040" stroke-opacity="0.45" stroke-width="0.5"/>
<rect x="553.02" y="342.68" width="4.41" height="5.72" fill="#fdae61" stroke="#5a5040" stroke-opacity="0.45" stroke-width="0.5"/>
<rect x="557.43" y="342.68" width="4.41" height="5.72" fill="#fdae61" stroke="#5a5040" stroke-opacity="0.45" stroke-width="0.5"/>
<rect x="526.56" y="348.39" width="4.41" height="5.72" fill="#fdae61" stroke="#5a5040" stroke-opacity="0.45" stroke-width="0.5"/>
<rect x="530.97" y="348.39" width="4.41" height="5.72" fill="#fee08b" stroke="#5a5040" stroke-opacity="0.45" stroke-width="0.5"/>
<rect x="535.38" y="348.39" width="4.41" height="5.72" fill="#ffffbf" stroke="#5a5040" stroke-opacity="0.45" stroke-width="0.5"/>
<rect x="539.79" y="348.39" width="4.41" height="5.72" fill="#e6f598" stroke="#5a5040" stroke-opacity="0.45" stroke-width="0.5"/>
<rect x="544.20" y="348.39" width="4.41" height="5.72" fill="#ffffbf" stroke="#5a5040" stroke-opacity="0.45" stroke-width="0.5"/>
<rect x="548.61" y="348.39" width="4.41" height="5.72" fill="#fee08b" stroke="#5a5040" stroke-opacity="0.45" stroke-width="0.5"/>
<rect x="553.02" y="348.39" width="4.41" height="5.72" fill="#fee08b" stroke="#5a5040" stroke-opacity="0.45" stroke-width="0.5"/>
<rect x="557.43" y="348.39" width="4.41" height="5.72" fill="#fee08b" stroke="#5a5040" stroke-opacity="0.45" stroke-width="0.5"/>
<rect x="522.14" y="354.11" width="4.41" height="5.72" fill="#fdae61" stroke="#5a5040" stroke-opacity="0.45" stroke-width="0.5"/>
<rect x="526.56" y="354.11" width="4.41" height="5.72" fill="#fdae61" stroke="#5a5040" stroke-opacity="0.45" stroke-width="0.5"/>
<rect x="530.97" y="354.11" width="4.41" height="5.72" fill="#fee08b" stroke="#5a5040" stroke-opacity="0.45" stroke-width="0.5"/>
<rect x="535.38" y="354.11" width="4.41" height="5.72" fill="#fee08b" stroke="#5a5040" stroke-opacity="0.45" stroke-width="0.5"/>
<rect x="539.79" y="354.11" width="4.41" height="5.72" fill="#ffffbf" stroke="#5a5040" stroke-opacity="0.45" stroke-width="0.5"/>
<rect x="544.20" y="354.11" width="4.41" height="5.72" fill="#e6f598" stroke="#5a5040" stroke-opacity="0.45" stroke-width="0.5"/>
<rect x="548.61" y="354.11" width="4.41" height="5.72" fill="#ffffbf" stroke="#5a5040" stroke-opacity="0.45" stroke-width="0.5"/>
<rect x="553.02" y="354.11" width="4.41" height="5.72" fill="#fee08b" stroke="#5a5040" stroke-opacity="0.45" stroke-width="0.5"/>
<rect x="557.43" y="354.11" width="4.41" height="5.72" fill="#fee08b" stroke="#5a5040" stroke-opacity="0.45" stroke-width="0.5"/>
<rect x="522.14" y="359.82" width="4.41" height="5.72" fill="#fee08b" stroke="#5a5040" stroke-opacity="0.45" stroke-width="0.5"/>
<rect x="526.56" y="359.82" width="4.41" height="5.72" fill="#fee08b" stroke="#5a5040" stroke-opacity="0.45" stroke-width="0.5"/>
<rect x="530.97" y="359.82" width="4.41" height="5.72" fill="#fee08b" stroke="#5a5040" stroke-opacity="0.45" stroke-width="0.5"/>
<rect x="535.38" y="359.82" width="4.41" height="5.72" fill="#fee08b" stroke="#5a5040" stroke-opacity="0.45" stroke-width="0.5"/>
<rect x="539.79" y="359.82" width="4.41" height="5.72" fill="#ffffbf" stroke="#5a5040" stroke-opacity="0.45" stroke-width="0.5"/>
<rect x="544.20" y="359.82" width="4.41" height="5.72" fill="#e6f598" stroke="#5a5040" stroke-opacity="0.45" stroke-width="0.5"/>
<rect x="548.61" y="359.82" width="4.41" height="5.72" fill="#ffffbf" stroke="#5a5040" stroke-opacity="0.45" stroke-width="0.5"/>
<rect x="553.02" y="359.82" width="4.41" height="5.72" fill="#fee08b" stroke="#5a5040" stroke-opacity="0.45" stroke-width="0.5"/>
<rect x="557.43" y="359.82" width="4.41" height="5.72" fill="#fdae61" stroke="#5a5040" stroke-opacity="0.45" stroke-width="0.5"/>
<rect x="504.50" y="365.54" width="4.41" height="5.72" fill="#fee08b" stroke="#5a5040" stroke-opacity="0.45" stroke-width="0.5"/>
<rect x="508.91" y="365.54" width="4.41" height="5.72" fill="#fee08b" stroke="#5a5040" stroke-opacity="0.45" stroke-width="0.5"/>
<rect x="513.32" y="365.54" width="4.41" height="5.72" fill="#ffffbf" stroke="#5a5040" stroke-opacity="0.45" stroke-width="0.5"/>
<rect x="517.73" y="365.54" width="4.41" height="5.72" fill="#ffffbf" stroke="#5a5040" stroke-opacity="0.45" stroke-width="0.5"/>
<rect x="522.14" y="365.54" width="4.41" height="5.72" fill="#ffffbf" stroke="#5a5040" stroke-opacity="0.45" stroke-width="0.5"/>
<rect x="526.56" y="365.54" width="4.41" height="5.72" fill="#ffffbf" stroke="#5a5040" stroke-opacity="0.45" stroke-width="0.5"/>
<rect x="530.97" y="365.54" width="4.41" height="5.72" fill="#fdae61" stroke="#5a5040" stroke-opacity="0.45" stroke-width="0.5"/>
<rect x="535.38" y="365.54" width="4.41" height="5.72" fill="#fdae61" stroke="#5a5040" stroke-opacity="0.45" stroke-width="0.5"/>
<rect x="539.79" y="365.54" width="4.41" height="5.72" fill="#ffffbf" stroke="#5a5040" stroke-opacity="0.45" stroke-width="0.5"/>
<rect x="544.20" y="365.54" width="4.41" height="5.72" fill="#ffffbf" stroke="#5a5040" stroke-opacity="0.45" stroke-width="0.5"/>
<rect x="548.61" y="365.54" width="4.41" height="5.72" fill="#fee08b" stroke="#5a5040" stroke-opacity="0.45" stroke-width="0.5"/>
<rect x="553.02" y="365.54" width="4.41" height="5.72" fill="#fee08b" stroke="#5a5040" stroke-opacity="0.45" stroke-width="0.5"/>
<rect x="557.43" y="365.54" width="4.41" height="5.72" fill="#fee08b" stroke="#5a5040" stroke-opacity="0.45" stroke-width="0.5"/>
<rect x="561.84" y="365.54" width="4.41" height="5.72" fill="#ffffbf" stroke="#5a5040" stroke-opacity="0.45" stroke-width="0.5"/>
<rect x="566.26" y="365.54" width="4.41" height="5.72" fill="#e6f598" stroke="#5a5040" stroke-opacity="0.45" stroke-width="0.5"/>
<rect x="570.67" y="365.54" width="4.41" height="5.72" fill="#ffffbf" stroke="#5a5040" stroke-opacity="0.45" stroke-width="0.5"/>
<rect x="575.08" y="365.54" width="4.41" height="5.72" fill="#fdae61" stroke="#5a5040" stroke-opacity="0.45" stroke-width="0.5"/>
<rect x="504.50" y="371.25" width="4.41" height="5.72" fill="#fee08b" stroke="#5a5040" stroke-opacity="0.45" stroke-width="0.5"/>
<rect x="508.91" y="371.25" width="4.41" height="5.72" fill="#fee08b" stroke="#5a5040" stroke-opacity="0.45" stroke-width="0.5"/>
<rect x="513.32" y="371.25" width="4.41" height="5.72" fill="#fdae61" stroke="#5a5040" stroke-opacity="0.45" stroke-width="0.5"/>
<rect x="517.73" y="371.25" width="4.41" height="5.72" fill="#fee08b" stroke="#5a5040" stroke-opacity="0.45" stroke-width="0.5"/>
<rect x="522.14" y="371.25" width="4.41" height="5.72" fill="#fee08b" stroke="#5a5040" stroke-opacity="0.45" stroke-width="0.5"/>
<rect x="526.56" y="371.25" width="4.41" height="5.72" fill="#fee08b" stroke="#5a5040" stroke-opacity="0.45" stroke-width="0.5"/>
<rect x="530.97" y="371.25" width="4.41" height="5.72" fill="#f46d43" stroke="#5a5040" stroke-opacity="0.45" stroke-width="0.5"/>
<rect x="535.38" y="371.25" width="4.41" height="5.72" fill="#f46d43" stroke="#5a5040" stroke-opacity="0.45" stroke-width="0.5"/>
<rect x="539.79" y="371.25" width="4.41" height="5.72" fill="#fee08b" stroke="#5a5040" stroke-opacity="0.45" stroke-width="0.5"/>
<rect x="544.20" y="371.25" width="4.41" height="5.72" fill="#fee08b" stroke="#5a5040" stroke-opacity="0.45" stroke-width="0.5"/>
<rect x="548.61" y="371.25" width="4.41" height="5.72" fill="#fdae61" stroke="#5a5040" stroke-opacity="0.45" stroke-width="0.5"/>
<rect x="553.02" y="371.25" width="4.41" height="5.72" fill="#fee08b" stroke="#5a5040" stroke-opacity="0.45" stroke-width="0.5"/>
<rect x="557.43" y="371.25" width="4.41" height="5.72" fill="#ffffbf" stroke="#5a5040" stroke-opacity="0.45" stroke-width="0.5"/>
<rect x="561.84" y="371.25" width="4.41" height="5.72" fill="#ffffbf" stroke="#5a5040" stroke-opacity="0.45" stroke-width="0.5"/>
<rect x="566.26" y="371.25" width="4.41" height="5.72" fill="#ffffbf" stroke="#5a5040" stroke-opacity="0.45" stroke-width="0.5"/>
<rect x="570.67" y="371.25" width="4.41" height="5.72" fill="#ffffbf" stroke="#5a5040" stroke-opacity="0.45" stroke-width="0.5"/>
<rect x="575.08" y="371.25" width="4.41" height="5.72" fill="#ffffbf" stroke="#5a5040" stroke-opacity="0.45" stroke-width="0.5"/>
<rect x="508.91" y="376.97" width="4.41" height="5.72" fill="#fee08b" stroke="#5a5040" stroke-opacity="0.45" stroke-width="0.5"/>
<rect x="513.32" y="376.97" width="4.41" height="5.72" fill="#fdae61" stroke="#5a5040" stroke-opacity="0.45" stroke-width="0.5"/>
<rect x="517.73" y="376.97" width="4.41" height="5.72" fill="#f46d43" stroke="#5a5040" stroke-opacity="0.45" stroke-width="0.5"/>
<rect x="522.14" y="376.97" width="4.41" height="5.72" fill="#fdae61" stroke="#5a5040" stroke-opacity="0.45" stroke-width="0.5"/>
<rect x="526.56" y="376.97" width="4.41" height="5.72" fill="#fee08b" stroke="#5a5040" stroke-opacity="0.45" stroke-width="0.5"/>
<rect x="530.97" y="376.97" width="4.41" height="5.72" fill="#ffffbf" stroke="#5a5040" stroke-opacity="0.45" stroke-width="0.5"/>
<rect x="535.38" y="376.97" width="4.41" height="5.72" fill="#fee08b" stroke="#5a5040" stroke-opacity="0.45" stroke-width="0.5"/>
<rect x="553.02" y="376.97" width="4.41" height="5.72" fill="#ffffbf" stroke="#5a5040" stroke-opacity="0.45" stroke-width="0.5"/>
<rect x="557.43" y="376.97" width="4.41" height="5.72" fill="#ffffbf" stroke="#5a5040" stroke-opacity="0.45" stroke-width="0.5"/>
<rect x="561.84" y="376.97" width="4.41" height="5.72" fill="#ffffbf" stroke="#5a5040" stroke-opacity="0.45" stroke-width="0.5"/>
<rect x="566.26" y="376.97" width="4.41" height="5.72" fill="#ffffbf" stroke="#5a5040" stroke-opacity="0.45" stroke-width="0.5"/>
<rect x="570.67" y="376.97" width="4.41" height="5.72" fill="#e6f598" stroke="#5a5040" stroke-opacity="0.45" stroke-width="0.5"/>
<rect x="513.32" y="382.68" width="4.41" height="5.72" fill="#fee08b" stroke="#5a5040" stroke-opacity="0.45" stroke-width="0.5"/>
<rect x="517.73" y="382.68" width="4.41" height="5.72" fill="#fdae61" stroke="#5a5040" stroke-opacity="0.45" stroke-width="0.5"/>
<rect x="522.14" y="382.68" width="4.41" height="5.72" fill="#fee08b" stroke="#5a5040" stroke-opacity="0.45" stroke-width="0.5"/>
<rect x="526.56" y="382.68" width="4.41" height="5.72" fill="#abdda4" stroke="#5a5040" stroke-opacity="0.45" stroke-width="0.5"/>
<rect x="530.97" y="382.68" width="4.41" height="5.72" fill="#e6f598" stroke="#5a5040" stroke-opacity="0.45" stroke-width="0.5"/>
<rect x="544.20" y="382.68" width="4.41" height="5.72" fill="#fdae61" stroke="#5a5040" stroke-opacity="0.45" stroke-width="0.5"/>
<rect x="553.02" y="382.68" width="4.41" height="5.72" fill="#ffffbf" stroke="#5a5040" stroke-opacity="0.45" stroke-width="0.5"/>
<rect x="557.43" y="382.68" width="4.41" height="5.72" fill="#e6f598" stroke="#5a5040" stroke-opacity="0.45" stroke-width="0.5"/>
<rect x="561.84" y="382.68" width="4.41" height="5.72" fill="#abdda4" stroke="#5a5040" stroke-opacity="0.45" stroke-width="0.5"/>
<rect x="566.26" y="382.68" width="4.41" height="5.72" fill="#e6f598" stroke="#5a5040" stroke-opacity="0.45" stroke-width="0.5"/>
<text x="2.9" y="34.1" font-size="29" text-anchor="start" fill="#000" >A</text>
<text x="137.7" y="37.4" font-size="24" text-anchor="start" font-style="italic" fill="#000" >Overlapped regions for Guilt and Anger</text>
<text x="68.7" y="60.7" font-size="18.6" text-anchor="start" font-style="italic" fill="#000" >Guilt</text>
<text x="32.5" y="247.8" font-size="18.6" text-anchor="start" font-style="italic" fill="#000" >Anger</text>
<text x="105.0" y="163.8" font-size="15.5" text-anchor="start" fill="#000" >y = 4</text>
<text x="580.6" y="60.7" font-size="18.6" text-anchor="start" font-style="italic" fill="#000" >Guilt</text>
<text x="551.6" y="162.9" font-size="15.5" text-anchor="start" fill="#000" >x = 9</text>
<text x="608.1" y="247.3" font-size="18.6" text-anchor="start" font-style="italic" fill="#000" >Anger</text>
<text x="33.2" y="361.3" font-size="18.6" text-anchor="start" font-style="italic" fill="#000" >Anger</text>
<text x="65.0" y="387.8" font-size="15.5" text-anchor="start" fill="#000" >x = 6</text>
<text x="125.5" y="407.1" font-size="18.6" text-anchor="start" font-style="italic" fill="#000" >Guilt</text>
<text x="608.9" y="361.3" font-size="18.6" text-anchor="start" font-style="italic" fill="#000" >Anger</text>
<text x="593.6" y="387.2" font-size="15.5" text-anchor="start" fill="#000" >z = -10</text>
<text x="523.8" y="407.6" font-size="18.6" text-anchor="start" font-style="italic" fill="#000" >Guilt</text>
<text x="727.1" y="28.9" font-size="29.3" text-anchor="start" fill="#000" >B</text>
<rect x="827.20" y="66.00" width="28.56" height="28.90" fill="#e07760"/>
<rect x="855.46" y="66.00" width="28.56" height="28.90" fill="#f4ab8f"/>
<rect x="883.72" y="66.00" width="28.56" height="28.90" fill="#f5b59a"/>
<rect x="911.98" y="66.00" width="28.56" height="28.90" fill="#f09f80"/>
<rect x="940.24" y="66.00" width="28.56" height="28.90" fill="#f1a384"/>
<rect x="827.20" y="94.60" width="28.56" height="28.90" fill="#d6553f"/>
<rect x="855.46" y="94.60" width="28.56" height="28.90" fill="#f3aa8e"/>
<rect x="883.72" y="94.60" width="28.56" height="28.90" fill="#f19d7e"/>
<rect x="911.98" y="94.60" width="28.56" height="28.90" fill="#ef9777"/>
<rect x="940.24" y="94.60" width="28.56" height="28.90" fill="#f5b497"/>
<rect x="827.20" y="123.20" width="28.56" height="28.90" fill="#f6f1ef"/>
<rect x="855.46" y="123.20" width="28.56" height="28.90" fill="#e9f0f5"/>
<rect x="883.72" y="123.20" width="28.56" height="28.90" fill="#b5d3e8"/>
<rect x="911.98" y="123.20" width="28.56" height="28.90" fill="#d8e7f2"/>
<rect x="940.24" y="123.20" width="28.56" height="28.90" fill="#f6bb9f"/>
<path d="M827.2,66.0 H968.5 V151.8 H940.2 V123.2 H827.2 Z" fill="none" stroke="#e0463a" stroke-width="1"/>
<rect x="883.7" y="123.2" width="28.3" height="28.6" fill="none" stroke="#4a5ad8" stroke-width="1"/>
<defs><linearGradient id="cb" x1="0" y1="0" x2="0" y2="1"><stop offset="0" stop-color="#67001f"/><stop offset="0.125" stop-color="#b2182b"/><stop offset="0.25" stop-color="#d6604d"/><stop offset="0.375" stop-color="#f4a582"/><stop offset="0.5" stop-color="#f7f7f7"/><stop offset="0.625" stop-color="#92c5de"/><stop offset="0.75" stop-color="#4393c3"/><stop offset="0.875" stop-color="#2166ac"/><stop offset="1" stop-color="#053061"/></linearGradient></defs>
<rect x="977" y="66.1" width="3.9" height="85.8" rx="1.95" fill="url(#cb)"/>
<text x="985.1" y="77.4" font-size="14.5" text-anchor="start" fill="#000" >1</text>
<text x="985.4" y="114.4" font-size="14.5" text-anchor="start" fill="#000" >0</text>
<text x="985.4" y="149.9" font-size="14.5" text-anchor="start" fill="#000" >-1</text>
<text x="823.0" y="88.5" font-size="18.6" text-anchor="end" fill="#000" >Guilt</text>
<text x="823.0" y="115.6" font-size="18.6" text-anchor="end" fill="#000" >Anger</text>
<text x="823.0" y="142.3" font-size="18.6" text-anchor="end" fill="#000" >Guilt-Anger</text>
<text x="0" y="0" font-size="18.5" transform="translate(842.3,64.5) rotate(-45)">Whole</text>
<text x="0" y="0" font-size="18.5" transform="translate(870.6,64.5) rotate(-45)">dACC</text>
<text x="0" y="0" font-size="18.5" transform="translate(898.9,64.5) rotate(-45)">pre-SMA</text>
<text x="0" y="0" font-size="18.5" transform="translate(927.1,64.5) rotate(-45)">dmPFC</text>
<text x="0" y="0" font-size="18.5" transform="translate(955.4,64.5) rotate(-45)">VS</text>
<text x="727.6" y="210.6" font-size="29.3" text-anchor="start" fill="#000" >C</text>
<line x1="812.1" y1="201.0" x2="812.1" y2="378.9" stroke="#8a8a8a" stroke-width="1.6"/>
<line x1="811.3" y1="378.9" x2="995.5" y2="378.9" stroke="#555" stroke-width="1.1"/>
<line x1="812.1" y1="320.1" x2="995.5" y2="320.1" stroke="#c8c8c8" stroke-width="1"/>
<rect x="816.40" y="296.30" width="18.30" height="23.80" fill="#a8a6f0"/>
<rect x="834.70" y="320.10" width="18.30" height="18.44" fill="#c8c8f8"/>
<rect x="862.30" y="311.77" width="18.30" height="8.33" fill="#f2a6a6"/>
<rect x="880.60" y="320.10" width="18.30" height="2.98" fill="#f5c8ca"/>
<rect x="908.00" y="302.25" width="18.30" height="17.85" fill="#a8a6f0"/>
<rect x="926.30" y="314.75" width="18.30" height="5.36" fill="#c8c8f8"/>
<rect x="954.30" y="283.21" width="18.30" height="36.89" fill="#f2a6a6"/>
<rect x="972.60" y="320.10" width="18.30" height="13.69" fill="#f5c8ca"/>
<circle cx="826.1" cy="302.4" r="0.7" fill="#5a5fd8" opacity="0.5"/>
<circle cx="824.0" cy="284.1" r="0.7" fill="#5a5fd8" opacity="0.5"/>
<circle cx="824.0" cy="318.4" r="0.7" fill="#5a5fd8" opacity="0.5"/>
<circle cx="825.6" cy="301.4" r="0.7" fill="#5a5fd8" opacity="0.5"/>
<circle cx="824.0" cy="271.6" r="0.7" fill="#5a5fd8" opacity="0.5"/>
<circle cx="824.1" cy="290.4" r="0.7" fill="#5a5fd8" opacity="0.5"/>
<circle cx="824.2" cy="336.0" r="0.7" fill="#5a5fd8" opacity="0.5"/>
<circle cx="824.6" cy="275.9" r="0.7" fill="#5a5fd8" opacity="0.5"/>
<circle cx="825.8" cy="336.6" r="0.7" fill="#5a5fd8" opacity="0.5"/>
<circle cx="825.2" cy="337.8" r="0.7" fill="#5a5fd8" opacity="0.5"/>
<circle cx="826.8" cy="289.0" r="0.7" fill="#5a5fd8" opacity="0.5"/>
<circle cx="824.8" cy="297.4" r="0.7" fill="#5a5fd8" opacity="0.5"/>
<circle cx="824.9" cy="289.0" r="0.7" fill="#5a5fd8" opacity="0.5"/>
<circle cx="826.7" cy="286.9" r="0.7" fill="#5a5fd8" opacity="0.5"/>
<circle cx="826.1" cy="283.1" r="0.7" fill="#5a5fd8" opacity="0.5"/>
<circle cx="825.1" cy="267.8" r="0.7" fill="#5a5fd8" opacity="0.5"/>
<circle cx="824.0" cy="304.5" r="0.7" fill="#5a5fd8" opacity="0.5"/>
<circle cx="824.5" cy="298.8" r="0.7" fill="#5a5fd8" opacity="0.5"/>
<circle cx="824.9" cy="306.9" r="0.7" fill="#5a5fd8" opacity="0.5"/>
<circle cx="825.9" cy="319.1" r="0.7" fill="#5a5fd8" opacity="0.5"/>
<circle cx="826.6" cy="315.5" r="0.7" fill="#5a5fd8" opacity="0.5"/>
<circle cx="826.3" cy="290.5" r="0.7" fill="#5a5fd8" opacity="0.5"/>
<circle cx="825.6" cy="295.1" r="0.7" fill="#5a5fd8" opacity="0.5"/>
<circle cx="826.9" cy="265.2" r="0.7" fill="#5a5fd8" opacity="0.5"/>
<circle cx="827.3" cy="298.8" r="0.7" fill="#5a5fd8" opacity="0.5"/>
<circle cx="824.2" cy="315.8" r="0.7" fill="#5a5fd8" opacity="0.5"/>
<circle cx="824.3" cy="331.2" r="0.7" fill="#5a5fd8" opacity="0.5"/>
<circle cx="825.5" cy="276.6" r="0.7" fill="#5a5fd8" opacity="0.5"/>
<circle cx="826.5" cy="262.0" r="0.7" fill="#5a5fd8" opacity="0.5"/>
<circle cx="825.8" cy="287.7" r="0.7" fill="#5a5fd8" opacity="0.5"/>
<line x1="825.5" y1="291.5" x2="825.5" y2="301.1" stroke="#222" stroke-width="1.2"/>
<circle cx="844.6" cy="323.9" r="0.7" fill="#8f93e8" opacity="0.5"/>
<circle cx="844.2" cy="353.1" r="0.7" fill="#8f93e8" opacity="0.5"/>
<circle cx="845.1" cy="361.6" r="0.7" fill="#8f93e8" opacity="0.5"/>
<circle cx="845.5" cy="351.2" r="0.7" fill="#8f93e8" opacity="0.5"/>
<circle cx="842.3" cy="373.2" r="0.7" fill="#8f93e8" opacity="0.5"/>
<circle cx="844.6" cy="332.8" r="0.7" fill="#8f93e8" opacity="0.5"/>
<circle cx="845.0" cy="383.8" r="0.7" fill="#8f93e8" opacity="0.5"/>
<circle cx="843.1" cy="398.5" r="0.7" fill="#8f93e8" opacity="0.5"/>
<circle cx="842.1" cy="365.2" r="0.7" fill="#8f93e8" opacity="0.5"/>
<circle cx="843.7" cy="315.3" r="0.7" fill="#8f93e8" opacity="0.5"/>
<circle cx="842.3" cy="332.7" r="0.7" fill="#8f93e8" opacity="0.5"/>
<circle cx="844.8" cy="328.2" r="0.7" fill="#8f93e8" opacity="0.5"/>
<circle cx="843.5" cy="326.2" r="0.7" fill="#8f93e8" opacity="0.5"/>
<circle cx="845.2" cy="325.5" r="0.7" fill="#8f93e8" opacity="0.5"/>
<circle cx="844.0" cy="315.8" r="0.7" fill="#8f93e8" opacity="0.5"/>
<circle cx="845.2" cy="325.9" r="0.7" fill="#8f93e8" opacity="0.5"/>
<circle cx="843.1" cy="318.5" r="0.7" fill="#8f93e8" opacity="0.5"/>
<circle cx="843.5" cy="381.7" r="0.7" fill="#8f93e8" opacity="0.5"/>
<circle cx="845.5" cy="369.8" r="0.7" fill="#8f93e8" opacity="0.5"/>
<circle cx="842.6" cy="300.2" r="0.7" fill="#8f93e8" opacity="0.5"/>
<circle cx="842.9" cy="330.8" r="0.7" fill="#8f93e8" opacity="0.5"/>
<circle cx="843.8" cy="323.1" r="0.7" fill="#8f93e8" opacity="0.5"/>
<circle cx="842.1" cy="354.3" r="0.7" fill="#8f93e8" opacity="0.5"/>
<circle cx="843.6" cy="348.4" r="0.7" fill="#8f93e8" opacity="0.5"/>
<circle cx="845.5" cy="359.5" r="0.7" fill="#8f93e8" opacity="0.5"/>
<circle cx="844.5" cy="316.0" r="0.7" fill="#8f93e8" opacity="0.5"/>
<circle cx="844.5" cy="371.4" r="0.7" fill="#8f93e8" opacity="0.5"/>
<circle cx="842.2" cy="341.8" r="0.7" fill="#8f93e8" opacity="0.5"/>
<circle cx="845.2" cy="305.1" r="0.7" fill="#8f93e8" opacity="0.5"/>
<circle cx="844.9" cy="363.0" r="0.7" fill="#8f93e8" opacity="0.5"/>
<line x1="843.8" y1="333.8" x2="843.8" y2="343.3" stroke="#222" stroke-width="1.2"/>
<circle cx="870.0" cy="330.5" r="0.7" fill="#e05a60" opacity="0.5"/>
<circle cx="871.9" cy="296.7" r="0.7" fill="#e05a60" opacity="0.5"/>
<circle cx="870.4" cy="303.6" r="0.7" fill="#e05a60" opacity="0.5"/>
<circle cx="870.2" cy="308.4" r="0.7" fill="#e05a60" opacity="0.5"/>
<circle cx="869.7" cy="316.0" r="0.7" fill="#e05a60" opacity="0.5"/>
<circle cx="870.2" cy="305.2" r="0.7" fill="#e05a60" opacity="0.5"/>
<circle cx="869.7" cy="293.6" r="0.7" fill="#e05a60" opacity="0.5"/>
<circle cx="872.8" cy="298.3" r="0.7" fill="#e05a60" opacity="0.5"/>
<circle cx="870.6" cy="321.9" r="0.7" fill="#e05a60" opacity="0.5"/>
<circle cx="870.9" cy="320.6" r="0.7" fill="#e05a60" opacity="0.5"/>
<circle cx="872.7" cy="319.8" r="0.7" fill="#e05a60" opacity="0.5"/>
<circle cx="873.2" cy="302.6" r="0.7" fill="#e05a60" opacity="0.5"/>
<circle cx="870.0" cy="338.5" r="0.7" fill="#e05a60" opacity="0.5"/>
<circle cx="870.0" cy="306.0" r="0.7" fill="#e05a60" opacity="0.5"/>
<circle cx="872.6" cy="322.0" r="0.7" fill="#e05a60" opacity="0.5"/>
<circle cx="870.2" cy="296.2" r="0.7" fill="#e05a60" opacity="0.5"/>
<circle cx="871.6" cy="253.9" r="0.7" fill="#e05a60" opacity="0.5"/>
<circle cx="870.2" cy="303.3" r="0.7" fill="#e05a60" opacity="0.5"/>
<circle cx="871.6" cy="317.1" r="0.7" fill="#e05a60" opacity="0.5"/>
<circle cx="873.2" cy="313.3" r="0.7" fill="#e05a60" opacity="0.5"/>
<circle cx="870.6" cy="287.8" r="0.7" fill="#e05a60" opacity="0.5"/>
<circle cx="871.0" cy="339.6" r="0.7" fill="#e05a60" opacity="0.5"/>
<circle cx="871.6" cy="291.4" r="0.7" fill="#e05a60" opacity="0.5"/>
<circle cx="872.5" cy="276.3" r="0.7" fill="#e05a60" opacity="0.5"/>
<circle cx="872.6" cy="319.9" r="0.7" fill="#e05a60" opacity="0.5"/>
<circle cx="873.2" cy="296.9" r="0.7" fill="#e05a60" opacity="0.5"/>
<circle cx="872.6" cy="285.9" r="0.7" fill="#e05a60" opacity="0.5"/>
<circle cx="872.3" cy="346.2" r="0.7" fill="#e05a60" opacity="0.5"/>
<circle cx="870.9" cy="307.6" r="0.7" fill="#e05a60" opacity="0.5"/>
<circle cx="869.8" cy="283.3" r="0.7" fill="#e05a60" opacity="0.5"/>
<line x1="871.4" y1="307.0" x2="871.4" y2="316.5" stroke="#222" stroke-width="1.2"/>
<circle cx="888.9" cy="304.1" r="0.7" fill="#ea8a90" opacity="0.5"/>
<circle cx="890.4" cy="319.7" r="0.7" fill="#ea8a90" opacity="0.5"/>
<circle cx="891.3" cy="298.1" r="0.7" fill="#ea8a90" opacity="0.5"/>
<circle cx="891.5" cy="330.1" r="0.7" fill="#ea8a90" opacity="0.5"/>
<circle cx="888.7" cy="301.3" r="0.7" fill="#ea8a90" opacity="0.5"/>
<circle cx="888.8" cy="329.4" r="0.7" fill="#ea8a90" opacity="0.5"/>
<circle cx="890.2" cy="317.8" r="0.7" fill="#ea8a90" opacity="0.5"/>
<circle cx="891.2" cy="307.9" r="0.7" fill="#ea8a90" opacity="0.5"/>
<circle cx="890.3" cy="308.4" r="0.7" fill="#ea8a90" opacity="0.5"/>
<circle cx="890.8" cy="346.0" r="0.7" fill="#ea8a90" opacity="0.5"/>
<circle cx="891.2" cy="292.9" r="0.7" fill="#ea8a90" opacity="0.5"/>
<circle cx="890.8" cy="305.3" r="0.7" fill="#ea8a90" opacity="0.5"/>
<circle cx="888.6" cy="323.1" r="0.7" fill="#ea8a90" opacity="0.5"/>
<circle cx="890.8" cy="350.2" r="0.7" fill="#ea8a90" opacity="0.5"/>
<circle cx="891.4" cy="344.3" r="0.7" fill="#ea8a90" opacity="0.5"/>
<circle cx="889.4" cy="285.9" r="0.7" fill="#ea8a90" opacity="0.5"/>
<circle cx="890.6" cy="370.0" r="0.7" fill="#ea8a90" opacity="0.5"/>
<circle cx="888.6" cy="289.6" r="0.7" fill="#ea8a90" opacity="0.5"/>
<circle cx="891.2" cy="313.6" r="0.7" fill="#ea8a90" opacity="0.5"/>
<circle cx="890.9" cy="313.3" r="0.7" fill="#ea8a90" opacity="0.5"/>
<circle cx="891.5" cy="296.0" r="0.7" fill="#ea8a90" opacity="0.5"/>
<circle cx="890.3" cy="287.7" r="0.7" fill="#ea8a90" opacity="0.5"/>
<circle cx="888.4" cy="340.8" r="0.7" fill="#ea8a90" opacity="0.5"/>
<circle cx="888.0" cy="298.8" r="0.7" fill="#ea8a90" opacity="0.5"/>
<circle cx="889.8" cy="289.2" r="0.7" fill="#ea8a90" opacity="0.5"/>
<circle cx="891.3" cy="329.3" r="0.7" fill="#ea8a90" opacity="0.5"/>
<circle cx="890.9" cy="367.2" r="0.7" fill="#ea8a90" opacity="0.5"/>
<circle cx="888.7" cy="303.6" r="0.7" fill="#ea8a90" opacity="0.5"/>
<circle cx="888.8" cy="323.3" r="0.7" fill="#ea8a90" opacity="0.5"/>
<circle cx="890.1" cy="303.3" r="0.7" fill="#ea8a90" opacity="0.5"/>
<line x1="889.7" y1="318.3" x2="889.7" y2="327.8" stroke="#222" stroke-width="1.2"/>
<circle cx="915.8" cy="303.7" r="0.7" fill="#5a5fd8" opacity="0.5"/>
<circle cx="918.6" cy="277.5" r="0.7" fill="#5a5fd8" opacity="0.5"/>
<circle cx="917.5" cy="318.2" r="0.7" fill="#5a5fd8" opacity="0.5"/>
<circle cx="918.6" cy="281.3" r="0.7" fill="#5a5fd8" opacity="0.5"/>
<circle cx="917.2" cy="349.0" r="0.7" fill="#5a5fd8" opacity="0.5"/>
<circle cx="917.3" cy="276.8" r="0.7" fill="#5a5fd8" opacity="0.5"/>
<circle cx="916.9" cy="306.8" r="0.7" fill="#5a5fd8" opacity="0.5"/>
<circle cx="916.0" cy="302.9" r="0.7" fill="#5a5fd8" opacity="0.5"/>
<circle cx="916.0" cy="259.6" r="0.7" fill="#5a5fd8" opacity="0.5"/>
<circle cx="917.1" cy="301.2" r="0.7" fill="#5a5fd8" opacity="0.5"/>
<circle cx="916.5" cy="307.0" r="0.7" fill="#5a5fd8" opacity="0.5"/>
<circle cx="917.2" cy="332.2" r="0.7" fill="#5a5fd8" opacity="0.5"/>
<circle cx="915.7" cy="341.4" r="0.7" fill="#5a5fd8" opacity="0.5"/>
<circle cx="917.4" cy="316.5" r="0.7" fill="#5a5fd8" opacity="0.5"/>
<circle cx="918.1" cy="302.1" r="0.7" fill="#5a5fd8" opacity="0.5"/>
<circle cx="917.2" cy="283.1" r="0.7" fill="#5a5fd8" opacity="0.5"/>
<circle cx="918.6" cy="339.5" r="0.7" fill="#5a5fd8" opacity="0.5"/>
<circle cx="916.9" cy="317.5" r="0.7" fill="#5a5fd8" opacity="0.5"/>
<circle cx="917.2" cy="323.7" r="0.7" fill="#5a5fd8" opacity="0.5"/>
<circle cx="917.8" cy="320.6" r="0.7" fill="#5a5fd8" opacity="0.5"/>
<circle cx="917.1" cy="330.3" r="0.7" fill="#5a5fd8" opacity="0.5"/>
<circle cx="918.7" cy="293.6" r="0.7" fill="#5a5fd8" opacity="0.5"/>
<circle cx="918.7" cy="317.5" r="0.7" fill="#5a5fd8" opacity="0.5"/>
<circle cx="916.3" cy="348.5" r="0.7" fill="#5a5fd8" opacity="0.5"/>
<circle cx="918.4" cy="355.3" r="0.7" fill="#5a5fd8" opacity="0.5"/>
<circle cx="915.8" cy="323.1" r="0.7" fill="#5a5fd8" opacity="0.5"/>
<circle cx="915.6" cy="283.7" r="0.7" fill="#5a5fd8" opacity="0.5"/>
<circle cx="916.2" cy="284.5" r="0.7" fill="#5a5fd8" opacity="0.5"/>
<circle cx="918.2" cy="270.5" r="0.7" fill="#5a5fd8" opacity="0.5"/>
<circle cx="918.6" cy="286.5" r="0.7" fill="#5a5fd8" opacity="0.5"/>
<line x1="917.1" y1="297.5" x2="917.1" y2="307.0" stroke="#222" stroke-width="1.2"/>
<circle cx="936.0" cy="293.4" r="0.7" fill="#8f93e8" opacity="0.5"/>
<circle cx="934.2" cy="283.6" r="0.7" fill="#8f93e8" opacity="0.5"/>
<circle cx="934.4" cy="268.6" r="0.7" fill="#8f93e8" opacity="0.5"/>
<circle cx="937.1" cy="356.6" r="0.7" fill="#8f93e8" opacity="0.5"/>
<circle cx="937.2" cy="336.8" r="0.7" fill="#8f93e8" opacity="0.5"/>
<circle cx="936.6" cy="298.3" r="0.7" fill="#8f93e8" opacity="0.5"/>
<circle cx="935.5" cy="301.4" r="0.7" fill="#8f93e8" opacity="0.5"/>
<circle cx="934.9" cy="293.3" r="0.7" fill="#8f93e8" opacity="0.5"/>
<circle cx="936.2" cy="307.8" r="0.7" fill="#8f93e8" opacity="0.5"/>
<circle cx="933.7" cy="295.1" r="0.7" fill="#8f93e8" opacity="0.5"/>
<circle cx="933.7" cy="338.9" r="0.7" fill="#8f93e8" opacity="0.5"/>
<circle cx="934.8" cy="323.3" r="0.7" fill="#8f93e8" opacity="0.5"/>
<circle cx="933.9" cy="335.0" r="0.7" fill="#8f93e8" opacity="0.5"/>
<circle cx="937.2" cy="334.8" r="0.7" fill="#8f93e8" opacity="0.5"/>
<circle cx="934.0" cy="299.6" r="0.7" fill="#8f93e8" opacity="0.5"/>
<circle cx="934.6" cy="376.5" r="0.7" fill="#8f93e8" opacity="0.5"/>
<circle cx="934.6" cy="274.7" r="0.7" fill="#8f93e8" opacity="0.5"/>
<circle cx="934.1" cy="304.6" r="0.7" fill="#8f93e8" opacity="0.5"/>
<circle cx="936.6" cy="361.0" r="0.7" fill="#8f93e8" opacity="0.5"/>
<circle cx="934.6" cy="290.2" r="0.7" fill="#8f93e8" opacity="0.5"/>
<circle cx="935.7" cy="283.2" r="0.7" fill="#8f93e8" opacity="0.5"/>
<circle cx="936.2" cy="271.7" r="0.7" fill="#8f93e8" opacity="0.5"/>
<circle cx="936.1" cy="307.8" r="0.7" fill="#8f93e8" opacity="0.5"/>
<circle cx="935.2" cy="310.4" r="0.7" fill="#8f93e8" opacity="0.5"/>
<circle cx="935.9" cy="264.3" r="0.7" fill="#8f93e8" opacity="0.5"/>
<circle cx="936.5" cy="290.1" r="0.7" fill="#8f93e8" opacity="0.5"/>
<circle cx="933.9" cy="274.2" r="0.7" fill="#8f93e8" opacity="0.5"/>
<circle cx="936.8" cy="291.2" r="0.7" fill="#8f93e8" opacity="0.5"/>
<circle cx="935.6" cy="335.5" r="0.7" fill="#8f93e8" opacity="0.5"/>
<circle cx="937.0" cy="308.5" r="0.7" fill="#8f93e8" opacity="0.5"/>
<line x1="935.4" y1="310.0" x2="935.4" y2="319.5" stroke="#222" stroke-width="1.2"/>
<circle cx="963.5" cy="284.6" r="0.7" fill="#e05a60" opacity="0.5"/>
<circle cx="962.5" cy="270.8" r="0.7" fill="#e05a60" opacity="0.5"/>
<circle cx="961.8" cy="272.3" r="0.7" fill="#e05a60" opacity="0.5"/>
<circle cx="962.4" cy="274.2" r="0.7" fill="#e05a60" opacity="0.5"/>
<circle cx="964.4" cy="290.9" r="0.7" fill="#e05a60" opacity="0.5"/>
<circle cx="962.7" cy="264.4" r="0.7" fill="#e05a60" opacity="0.5"/>
<circle cx="962.9" cy="298.1" r="0.7" fill="#e05a60" opacity="0.5"/>
<circle cx="961.7" cy="283.2" r="0.7" fill="#e05a60" opacity="0.5"/>
<circle cx="964.3" cy="283.2" r="0.7" fill="#e05a60" opacity="0.5"/>
<circle cx="963.6" cy="279.0" r="0.7" fill="#e05a60" opacity="0.5"/>
<circle cx="965.0" cy="273.2" r="0.7" fill="#e05a60" opacity="0.5"/>
<circle cx="962.0" cy="258.1" r="0.7" fill="#e05a60" opacity="0.5"/>
<circle cx="963.4" cy="272.6" r="0.7" fill="#e05a60" opacity="0.5"/>
<circle cx="964.7" cy="306.2" r="0.7" fill="#e05a60" opacity="0.5"/>
<circle cx="964.1" cy="305.4" r="0.7" fill="#e05a60" opacity="0.5"/>
<circle cx="965.2" cy="265.6" r="0.7" fill="#e05a60" opacity="0.5"/>
<circle cx="964.2" cy="308.0" r="0.7" fill="#e05a60" opacity="0.5"/>
<circle cx="963.9" cy="245.7" r="0.7" fill="#e05a60" opacity="0.5"/>
<circle cx="961.8" cy="301.4" r="0.7" fill="#e05a60" opacity="0.5"/>
<circle cx="962.1" cy="270.8" r="0.7" fill="#e05a60" opacity="0.5"/>
<circle cx="962.6" cy="247.9" r="0.7" fill="#e05a60" opacity="0.5"/>
<circle cx="962.2" cy="266.4" r="0.7" fill="#e05a60" opacity="0.5"/>
<circle cx="964.8" cy="243.8" r="0.7" fill="#e05a60" opacity="0.5"/>
<circle cx="964.1" cy="260.1" r="0.7" fill="#e05a60" opacity="0.5"/>
<circle cx="962.7" cy="286.7" r="0.7" fill="#e05a60" opacity="0.5"/>
<circle cx="963.3" cy="265.8" r="0.7" fill="#e05a60" opacity="0.5"/>
<circle cx="962.6" cy="269.0" r="0.7" fill="#e05a60" opacity="0.5"/>
<circle cx="965.1" cy="261.6" r="0.7" fill="#e05a60" opacity="0.5"/>
<circle cx="962.5" cy="253.7" r="0.7" fill="#e05a60" opacity="0.5"/>
<circle cx="965.1" cy="288.3" r="0.7" fill="#e05a60" opacity="0.5"/>
<line x1="963.4" y1="278.5" x2="963.4" y2="288.0" stroke="#222" stroke-width="1.2"/>
<circle cx="980.0" cy="342.0" r="0.7" fill="#ea8a90" opacity="0.5"/>
<circle cx="981.3" cy="313.0" r="0.7" fill="#ea8a90" opacity="0.5"/>
<circle cx="980.7" cy="361.6" r="0.7" fill="#ea8a90" opacity="0.5"/>
<circle cx="981.8" cy="329.3" r="0.7" fill="#ea8a90" opacity="0.5"/>
<circle cx="980.3" cy="315.2" r="0.7" fill="#ea8a90" opacity="0.5"/>
<circle cx="981.4" cy="333.2" r="0.7" fill="#ea8a90" opacity="0.5"/>
<circle cx="981.0" cy="328.9" r="0.7" fill="#ea8a90" opacity="0.5"/>
<circle cx="980.8" cy="332.5" r="0.7" fill="#ea8a90" opacity="0.5"/>
<circle cx="982.7" cy="358.9" r="0.7" fill="#ea8a90" opacity="0.5"/>
<circle cx="982.3" cy="348.7" r="0.7" fill="#ea8a90" opacity="0.5"/>
<circle cx="981.4" cy="344.2" r="0.7" fill="#ea8a90" opacity="0.5"/>
<circle cx="981.1" cy="381.6" r="0.7" fill="#ea8a90" opacity="0.5"/>
<circle cx="982.6" cy="320.3" r="0.7" fill="#ea8a90" opacity="0.5"/>
<circle cx="982.3" cy="335.1" r="0.7" fill="#ea8a90" opacity="0.5"/>
<circle cx="983.2" cy="290.3" r="0.7" fill="#ea8a90" opacity="0.5"/>
<circle cx="982.2" cy="321.5" r="0.7" fill="#ea8a90" opacity="0.5"/>
<circle cx="980.5" cy="338.2" r="0.7" fill="#ea8a90" opacity="0.5"/>
<circle cx="981.8" cy="377.1" r="0.7" fill="#ea8a90" opacity="0.5"/>
<circle cx="982.8" cy="378.9" r="0.7" fill="#ea8a90" opacity="0.5"/>
<circle cx="982.9" cy="335.0" r="0.7" fill="#ea8a90" opacity="0.5"/>
<circle cx="982.4" cy="377.2" r="0.7" fill="#ea8a90" opacity="0.5"/>
<circle cx="982.4" cy="359.1" r="0.7" fill="#ea8a90" opacity="0.5"/>
<circle cx="980.4" cy="333.0" r="0.7" fill="#ea8a90" opacity="0.5"/>
<circle cx="981.2" cy="327.8" r="0.7" fill="#ea8a90" opacity="0.5"/>
<circle cx="982.0" cy="298.0" r="0.7" fill="#ea8a90" opacity="0.5"/>
<circle cx="982.2" cy="306.1" r="0.7" fill="#ea8a90" opacity="0.5"/>
<circle cx="981.7" cy="359.0" r="0.7" fill="#ea8a90" opacity="0.5"/>
<circle cx="980.0" cy="359.4" r="0.7" fill="#ea8a90" opacity="0.5"/>
<circle cx="981.8" cy="322.1" r="0.7" fill="#ea8a90" opacity="0.5"/>
<circle cx="981.9" cy="371.6" r="0.7" fill="#ea8a90" opacity="0.5"/>
<line x1="981.7" y1="329.0" x2="981.7" y2="338.5" stroke="#222" stroke-width="1.2"/>
<text x="808.0" y="206.9" font-size="19" text-anchor="end" fill="#000" >.2</text>
<text x="808.0" y="266.4" font-size="19" text-anchor="end" fill="#000" >.1</text>
<text x="808.0" y="325.9" font-size="19" text-anchor="end" fill="#000" >0</text>
<text x="808.0" y="385.4" font-size="19" text-anchor="end" fill="#000" >-.1</text>
<text x="834.7" y="206.9" font-size="17.5" text-anchor="middle" font-style="italic" fill="#000" >83</text>
<text x="835.7" y="220.7" font-size="13.6" text-anchor="middle" font-style="italic" fill="#000" letter-spacing="1.9" stroke="#000" stroke-width="0.35">***</text>
<path d="M824.1,225.4 Q834.7,216.0 845.3,225.4" fill="none" stroke="#444" stroke-width="0.8"/>
<text x="880.6" y="206.9" font-size="17.5" text-anchor="middle" font-style="italic" fill="#000" >59</text>
<text x="881.6" y="220.7" font-size="13.6" text-anchor="middle" font-style="italic" fill="#000" letter-spacing="1.9" stroke="#000" stroke-width="0.35">*</text>
<path d="M870.0,225.4 Q880.6,216.0 891.2,225.4" fill="none" stroke="#444" stroke-width="0.8"/>
<text x="926.3" y="206.9" font-size="17.5" text-anchor="middle" font-style="italic" fill="#000" >59</text>
<text x="927.3" y="220.7" font-size="13.6" text-anchor="middle" font-style="italic" fill="#000" letter-spacing="1.9" stroke="#000" stroke-width="0.35">*</text>
<path d="M915.7,225.4 Q926.3,216.0 936.9,225.4" fill="none" stroke="#444" stroke-width="0.8"/>
<text x="972.6" y="206.9" font-size="17.5" text-anchor="middle" font-style="italic" fill="#000" >85</text>
<text x="973.6" y="220.7" font-size="13.6" text-anchor="middle" font-style="italic" fill="#000" letter-spacing="1.9" stroke="#000" stroke-width="0.35">***</text>
<path d="M962.0,225.4 Q972.6,216.0 983.2,225.4" fill="none" stroke="#444" stroke-width="0.8"/>
<text x="1.1" y="467.9" font-size="29.3" text-anchor="start" fill="#000" >D</text>
<line x1="80.2" y1="458.4" x2="80.2" y2="637.2" stroke="#8a8a8a" stroke-width="1.6"/>
<line x1="79.4" y1="637.2" x2="263.7" y2="637.2" stroke="#555" stroke-width="1.1"/>
<line x1="172.1" y1="637.2" x2="172.1" y2="640.2" stroke="#999" stroke-width="0.8"/>
<line x1="80.2" y1="577.7" x2="263.7" y2="577.7" stroke="#c8c8c8" stroke-width="1"/>
<rect x="84.70" y="525.25" width="18.30" height="52.45" fill="#a8a6f0"/>
<rect x="103.00" y="562.80" width="18.30" height="14.90" fill="#c8c8f8"/>
<rect x="130.60" y="547.30" width="18.30" height="30.40" fill="#f2a6a6"/>
<rect x="148.90" y="541.94" width="18.30" height="35.76" fill="#f5c8ca"/>
<rect x="176.00" y="547.30" width="18.30" height="30.40" fill="#a8a6f0"/>
<rect x="194.30" y="542.54" width="18.30" height="35.16" fill="#c8c8f8"/>
<rect x="222.40" y="527.64" width="18.30" height="50.06" fill="#f2a6a6"/>
<rect x="240.70" y="561.61" width="18.30" height="16.09" fill="#f5c8ca"/>
<circle cx="94.7" cy="530.0" r="0.7" fill="#5a5fd8" opacity="0.5"/>
<circle cx="93.0" cy="532.7" r="0.7" fill="#5a5fd8" opacity="0.5"/>
<circle cx="94.7" cy="508.5" r="0.7" fill="#5a5fd8" opacity="0.5"/>
<circle cx="92.8" cy="516.8" r="0.7" fill="#5a5fd8" opacity="0.5"/>
<circle cx="93.8" cy="529.4" r="0.7" fill="#5a5fd8" opacity="0.5"/>
<circle cx="93.4" cy="590.1" r="0.7" fill="#5a5fd8" opacity="0.5"/>
<circle cx="94.8" cy="561.1" r="0.7" fill="#5a5fd8" opacity="0.5"/>
<circle cx="94.3" cy="520.5" r="0.7" fill="#5a5fd8" opacity="0.5"/>
<circle cx="92.6" cy="531.2" r="0.7" fill="#5a5fd8" opacity="0.5"/>
<circle cx="93.0" cy="532.7" r="0.7" fill="#5a5fd8" opacity="0.5"/>
<circle cx="94.1" cy="526.1" r="0.7" fill="#5a5fd8" opacity="0.5"/>
<circle cx="92.1" cy="545.5" r="0.7" fill="#5a5fd8" opacity="0.5"/>
<circle cx="94.5" cy="507.7" r="0.7" fill="#5a5fd8" opacity="0.5"/>
<circle cx="94.5" cy="518.2" r="0.7" fill="#5a5fd8" opacity="0.5"/>
<circle cx="93.9" cy="534.1" r="0.7" fill="#5a5fd8" opacity="0.5"/>
<circle cx="93.7" cy="542.9" r="0.7" fill="#5a5fd8" opacity="0.5"/>
<circle cx="95.3" cy="537.0" r="0.7" fill="#5a5fd8" opacity="0.5"/>
<circle cx="92.8" cy="522.7" r="0.7" fill="#5a5fd8" opacity="0.5"/>
<circle cx="92.1" cy="469.8" r="0.7" fill="#5a5fd8" opacity="0.5"/>
<circle cx="93.7" cy="532.9" r="0.7" fill="#5a5fd8" opacity="0.5"/>
<circle cx="93.7" cy="498.6" r="0.7" fill="#5a5fd8" opacity="0.5"/>
<circle cx="93.0" cy="581.9" r="0.7" fill="#5a5fd8" opacity="0.5"/>
<circle cx="92.8" cy="510.9" r="0.7" fill="#5a5fd8" opacity="0.5"/>
<circle cx="94.1" cy="469.5" r="0.7" fill="#5a5fd8" opacity="0.5"/>
<circle cx="95.5" cy="507.0" r="0.7" fill="#5a5fd8" opacity="0.5"/>
<circle cx="92.5" cy="502.7" r="0.7" fill="#5a5fd8" opacity="0.5"/>
<circle cx="95.2" cy="513.1" r="0.7" fill="#5a5fd8" opacity="0.5"/>
<circle cx="94.6" cy="551.0" r="0.7" fill="#5a5fd8" opacity="0.5"/>
<circle cx="93.8" cy="519.3" r="0.7" fill="#5a5fd8" opacity="0.5"/>
<circle cx="92.1" cy="474.7" r="0.7" fill="#5a5fd8" opacity="0.5"/>
<line x1="93.9" y1="520.5" x2="93.9" y2="530.0" stroke="#222" stroke-width="1.2"/>
<circle cx="112.0" cy="535.1" r="0.7" fill="#8f93e8" opacity="0.5"/>
<circle cx="111.4" cy="562.2" r="0.7" fill="#8f93e8" opacity="0.5"/>
<circle cx="111.5" cy="548.9" r="0.7" fill="#8f93e8" opacity="0.5"/>
<circle cx="113.4" cy="545.9" r="0.7" fill="#8f93e8" opacity="0.5"/>
<circle cx="113.4" cy="523.1" r="0.7" fill="#8f93e8" opacity="0.5"/>
<circle cx="110.8" cy="562.4" r="0.7" fill="#8f93e8" opacity="0.5"/>
<circle cx="113.6" cy="529.1" r="0.7" fill="#8f93e8" opacity="0.5"/>
<circle cx="111.4" cy="579.6" r="0.7" fill="#8f93e8" opacity="0.5"/>
<circle cx="113.9" cy="579.3" r="0.7" fill="#8f93e8" opacity="0.5"/>
<circle cx="112.5" cy="545.7" r="0.7" fill="#8f93e8" opacity="0.5"/>
<circle cx="111.3" cy="578.9" r="0.7" fill="#8f93e8" opacity="0.5"/>
<circle cx="110.5" cy="543.5" r="0.7" fill="#8f93e8" opacity="0.5"/>
<circle cx="111.4" cy="526.5" r="0.7" fill="#8f93e8" opacity="0.5"/>
<circle cx="113.7" cy="535.8" r="0.7" fill="#8f93e8" opacity="0.5"/>
<circle cx="112.2" cy="562.7" r="0.7" fill="#8f93e8" opacity="0.5"/>
<circle cx="111.0" cy="544.1" r="0.7" fill="#8f93e8" opacity="0.5"/>
<circle cx="113.5" cy="604.5" r="0.7" fill="#8f93e8" opacity="0.5"/>
<circle cx="113.3" cy="520.2" r="0.7" fill="#8f93e8" opacity="0.5"/>
<circle cx="113.7" cy="598.7" r="0.7" fill="#8f93e8" opacity="0.5"/>
<circle cx="112.3" cy="601.4" r="0.7" fill="#8f93e8" opacity="0.5"/>
<circle cx="113.0" cy="564.2" r="0.7" fill="#8f93e8" opacity="0.5"/>
<circle cx="112.0" cy="570.3" r="0.7" fill="#8f93e8" opacity="0.5"/>
<circle cx="111.4" cy="562.2" r="0.7" fill="#8f93e8" opacity="0.5"/>
<circle cx="110.5" cy="597.1" r="0.7" fill="#8f93e8" opacity="0.5"/>
<circle cx="112.0" cy="551.7" r="0.7" fill="#8f93e8" opacity="0.5"/>
<circle cx="111.6" cy="568.3" r="0.7" fill="#8f93e8" opacity="0.5"/>
<circle cx="113.9" cy="574.4" r="0.7" fill="#8f93e8" opacity="0.5"/>
<circle cx="111.3" cy="525.5" r="0.7" fill="#8f93e8" opacity="0.5"/>
<circle cx="112.4" cy="574.0" r="0.7" fill="#8f93e8" opacity="0.5"/>
<circle cx="111.8" cy="579.6" r="0.7" fill="#8f93e8" opacity="0.5"/>
<line x1="112.2" y1="558.0" x2="112.2" y2="567.6" stroke="#222" stroke-width="1.2"/>
<circle cx="138.7" cy="540.3" r="0.7" fill="#e05a60" opacity="0.5"/>
<circle cx="141.2" cy="535.0" r="0.7" fill="#e05a60" opacity="0.5"/>
<circle cx="141.2" cy="564.1" r="0.7" fill="#e05a60" opacity="0.5"/>
<circle cx="141.5" cy="547.0" r="0.7" fill="#e05a60" opacity="0.5"/>
<circle cx="138.6" cy="559.7" r="0.7" fill="#e05a60" opacity="0.5"/>
<circle cx="138.3" cy="543.3" r="0.7" fill="#e05a60" opacity="0.5"/>
<circle cx="138.8" cy="553.0" r="0.7" fill="#e05a60" opacity="0.5"/>
<circle cx="138.9" cy="538.6" r="0.7" fill="#e05a60" opacity="0.5"/>
<circle cx="140.6" cy="592.4" r="0.7" fill="#e05a60" opacity="0.5"/>
<circle cx="139.4" cy="568.4" r="0.7" fill="#e05a60" opacity="0.5"/>
<circle cx="139.3" cy="572.2" r="0.7" fill="#e05a60" opacity="0.5"/>
<circle cx="139.2" cy="532.3" r="0.7" fill="#e05a60" opacity="0.5"/>
<circle cx="141.4" cy="529.5" r="0.7" fill="#e05a60" opacity="0.5"/>
<circle cx="138.4" cy="540.0" r="0.7" fill="#e05a60" opacity="0.5"/>
<circle cx="141.1" cy="580.9" r="0.7" fill="#e05a60" opacity="0.5"/>
<circle cx="138.7" cy="548.0" r="0.7" fill="#e05a60" opacity="0.5"/>
<circle cx="139.4" cy="549.7" r="0.7" fill="#e05a60" opacity="0.5"/>
<circle cx="139.6" cy="529.4" r="0.7" fill="#e05a60" opacity="0.5"/>
<circle cx="141.1" cy="502.9" r="0.7" fill="#e05a60" opacity="0.5"/>
<circle cx="138.0" cy="560.5" r="0.7" fill="#e05a60" opacity="0.5"/>
<circle cx="141.2" cy="510.6" r="0.7" fill="#e05a60" opacity="0.5"/>
<circle cx="139.7" cy="539.8" r="0.7" fill="#e05a60" opacity="0.5"/>
<circle cx="139.4" cy="547.7" r="0.7" fill="#e05a60" opacity="0.5"/>
<circle cx="141.3" cy="547.5" r="0.7" fill="#e05a60" opacity="0.5"/>
<circle cx="141.5" cy="525.9" r="0.7" fill="#e05a60" opacity="0.5"/>
<circle cx="138.8" cy="589.0" r="0.7" fill="#e05a60" opacity="0.5"/>
<circle cx="139.8" cy="536.6" r="0.7" fill="#e05a60" opacity="0.5"/>
<circle cx="140.4" cy="538.6" r="0.7" fill="#e05a60" opacity="0.5"/>
<circle cx="140.3" cy="511.7" r="0.7" fill="#e05a60" opacity="0.5"/>
<circle cx="140.7" cy="561.0" r="0.7" fill="#e05a60" opacity="0.5"/>
<line x1="139.8" y1="542.5" x2="139.8" y2="552.1" stroke="#222" stroke-width="1.2"/>
<circle cx="156.4" cy="571.1" r="0.7" fill="#ea8a90" opacity="0.5"/>
<circle cx="159.1" cy="533.9" r="0.7" fill="#ea8a90" opacity="0.5"/>
<circle cx="158.6" cy="536.1" r="0.7" fill="#ea8a90" opacity="0.5"/>
<circle cx="157.3" cy="488.7" r="0.7" fill="#ea8a90" opacity="0.5"/>
<circle cx="158.5" cy="529.3" r="0.7" fill="#ea8a90" opacity="0.5"/>
<circle cx="158.8" cy="528.9" r="0.7" fill="#ea8a90" opacity="0.5"/>
<circle cx="158.1" cy="535.0" r="0.7" fill="#ea8a90" opacity="0.5"/>
<circle cx="158.3" cy="536.0" r="0.7" fill="#ea8a90" opacity="0.5"/>
<circle cx="158.4" cy="554.9" r="0.7" fill="#ea8a90" opacity="0.5"/>
<circle cx="156.3" cy="531.0" r="0.7" fill="#ea8a90" opacity="0.5"/>
<circle cx="159.7" cy="550.4" r="0.7" fill="#ea8a90" opacity="0.5"/>
<circle cx="158.6" cy="516.8" r="0.7" fill="#ea8a90" opacity="0.5"/>
<circle cx="157.1" cy="521.8" r="0.7" fill="#ea8a90" opacity="0.5"/>
<circle cx="157.1" cy="560.0" r="0.7" fill="#ea8a90" opacity="0.5"/>
<circle cx="157.4" cy="505.8" r="0.7" fill="#ea8a90" opacity="0.5"/>
<circle cx="156.3" cy="551.1" r="0.7" fill="#ea8a90" opacity="0.5"/>
<circle cx="157.8" cy="577.7" r="0.7" fill="#ea8a90" opacity="0.5"/>
<circle cx="157.2" cy="541.6" r="0.7" fill="#ea8a90" opacity="0.5"/>
<circle cx="157.1" cy="568.9" r="0.7" fill="#ea8a90" opacity="0.5"/>
<circle cx="156.4" cy="589.1" r="0.7" fill="#ea8a90" opacity="0.5"/>
<circle cx="158.7" cy="555.0" r="0.7" fill="#ea8a90" opacity="0.5"/>
<circle cx="157.0" cy="520.7" r="0.7" fill="#ea8a90" opacity="0.5"/>
<circle cx="158.1" cy="530.6" r="0.7" fill="#ea8a90" opacity="0.5"/>
<circle cx="157.0" cy="579.3" r="0.7" fill="#ea8a90" opacity="0.5"/>
<circle cx="159.2" cy="521.7" r="0.7" fill="#ea8a90" opacity="0.5"/>
<circle cx="157.1" cy="545.8" r="0.7" fill="#ea8a90" opacity="0.5"/>
<circle cx="157.3" cy="534.7" r="0.7" fill="#ea8a90" opacity="0.5"/>
<circle cx="159.7" cy="502.3" r="0.7" fill="#ea8a90" opacity="0.5"/>
<circle cx="157.1" cy="557.3" r="0.7" fill="#ea8a90" opacity="0.5"/>
<circle cx="157.8" cy="541.5" r="0.7" fill="#ea8a90" opacity="0.5"/>
<line x1="158.1" y1="537.2" x2="158.1" y2="546.7" stroke="#222" stroke-width="1.2"/>
<circle cx="183.9" cy="576.8" r="0.7" fill="#5a5fd8" opacity="0.5"/>
<circle cx="184.8" cy="597.4" r="0.7" fill="#5a5fd8" opacity="0.5"/>
<circle cx="183.9" cy="532.4" r="0.7" fill="#5a5fd8" opacity="0.5"/>
<circle cx="183.5" cy="484.6" r="0.7" fill="#5a5fd8" opacity="0.5"/>
<circle cx="186.6" cy="525.2" r="0.7" fill="#5a5fd8" opacity="0.5"/>
<circle cx="186.5" cy="538.5" r="0.7" fill="#5a5fd8" opacity="0.5"/>
<circle cx="186.7" cy="556.3" r="0.7" fill="#5a5fd8" opacity="0.5"/>
<circle cx="184.5" cy="629.4" r="0.7" fill="#5a5fd8" opacity="0.5"/>
<circle cx="186.0" cy="525.3" r="0.7" fill="#5a5fd8" opacity="0.5"/>
<circle cx="183.5" cy="495.9" r="0.7" fill="#5a5fd8" opacity="0.5"/>
<circle cx="184.7" cy="559.2" r="0.7" fill="#5a5fd8" opacity="0.5"/>
<circle cx="184.5" cy="567.3" r="0.7" fill="#5a5fd8" opacity="0.5"/>
<circle cx="184.4" cy="546.4" r="0.7" fill="#5a5fd8" opacity="0.5"/>
<circle cx="184.6" cy="545.7" r="0.7" fill="#5a5fd8" opacity="0.5"/>
<circle cx="186.8" cy="535.5" r="0.7" fill="#5a5fd8" opacity="0.5"/>
<circle cx="184.1" cy="550.7" r="0.7" fill="#5a5fd8" opacity="0.5"/>
<circle cx="186.3" cy="574.8" r="0.7" fill="#5a5fd8" opacity="0.5"/>
<circle cx="184.9" cy="512.6" r="0.7" fill="#5a5fd8" opacity="0.5"/>
<circle cx="184.7" cy="521.6" r="0.7" fill="#5a5fd8" opacity="0.5"/>
<circle cx="186.7" cy="539.1" r="0.7" fill="#5a5fd8" opacity="0.5"/>
<circle cx="186.6" cy="539.4" r="0.7" fill="#5a5fd8" opacity="0.5"/>
<circle cx="183.5" cy="526.1" r="0.7" fill="#5a5fd8" opacity="0.5"/>
<circle cx="186.1" cy="584.2" r="0.7" fill="#5a5fd8" opacity="0.5"/>
<circle cx="183.5" cy="524.1" r="0.7" fill="#5a5fd8" opacity="0.5"/>
<circle cx="186.7" cy="538.9" r="0.7" fill="#5a5fd8" opacity="0.5"/>
<circle cx="184.3" cy="545.4" r="0.7" fill="#5a5fd8" opacity="0.5"/>
<circle cx="184.6" cy="548.2" r="0.7" fill="#5a5fd8" opacity="0.5"/>
<circle cx="184.3" cy="598.3" r="0.7" fill="#5a5fd8" opacity="0.5"/>
<circle cx="184.3" cy="515.4" r="0.7" fill="#5a5fd8" opacity="0.5"/>
<circle cx="185.9" cy="556.0" r="0.7" fill="#5a5fd8" opacity="0.5"/>
<line x1="185.2" y1="542.5" x2="185.2" y2="552.1" stroke="#222" stroke-width="1.2"/>
<circle cx="201.7" cy="550.3" r="0.7" fill="#8f93e8" opacity="0.5"/>
<circle cx="204.4" cy="525.0" r="0.7" fill="#8f93e8" opacity="0.5"/>
<circle cx="205.0" cy="513.3" r="0.7" fill="#8f93e8" opacity="0.5"/>
<circle cx="201.7" cy="559.5" r="0.7" fill="#8f93e8" opacity="0.5"/>
<circle cx="205.1" cy="539.8" r="0.7" fill="#8f93e8" opacity="0.5"/>
<circle cx="205.1" cy="515.6" r="0.7" fill="#8f93e8" opacity="0.5"/>
<circle cx="203.2" cy="556.2" r="0.7" fill="#8f93e8" opacity="0.5"/>
<circle cx="203.4" cy="530.7" r="0.7" fill="#8f93e8" opacity="0.5"/>
<circle cx="204.5" cy="528.9" r="0.7" fill="#8f93e8" opacity="0.5"/>
<circle cx="204.3" cy="549.2" r="0.7" fill="#8f93e8" opacity="0.5"/>
<circle cx="203.8" cy="524.4" r="0.7" fill="#8f93e8" opacity="0.5"/>
<circle cx="202.8" cy="579.4" r="0.7" fill="#8f93e8" opacity="0.5"/>
<circle cx="204.5" cy="552.1" r="0.7" fill="#8f93e8" opacity="0.5"/>
<circle cx="201.9" cy="522.1" r="0.7" fill="#8f93e8" opacity="0.5"/>
<circle cx="202.5" cy="529.6" r="0.7" fill="#8f93e8" opacity="0.5"/>
<circle cx="201.9" cy="504.8" r="0.7" fill="#8f93e8" opacity="0.5"/>
<circle cx="202.8" cy="513.0" r="0.7" fill="#8f93e8" opacity="0.5"/>
<circle cx="205.2" cy="536.2" r="0.7" fill="#8f93e8" opacity="0.5"/>
<circle cx="202.6" cy="489.9" r="0.7" fill="#8f93e8" opacity="0.5"/>
<circle cx="202.0" cy="589.9" r="0.7" fill="#8f93e8" opacity="0.5"/>
<circle cx="204.2" cy="519.5" r="0.7" fill="#8f93e8" opacity="0.5"/>
<circle cx="203.3" cy="526.6" r="0.7" fill="#8f93e8" opacity="0.5"/>
<circle cx="203.9" cy="540.1" r="0.7" fill="#8f93e8" opacity="0.5"/>
<circle cx="204.1" cy="517.9" r="0.7" fill="#8f93e8" opacity="0.5"/>
<circle cx="204.0" cy="543.1" r="0.7" fill="#8f93e8" opacity="0.5"/>
<circle cx="202.1" cy="588.7" r="0.7" fill="#8f93e8" opacity="0.5"/>
<circle cx="203.7" cy="531.8" r="0.7" fill="#8f93e8" opacity="0.5"/>
<circle cx="203.0" cy="559.3" r="0.7" fill="#8f93e8" opacity="0.5"/>
<circle cx="202.5" cy="543.7" r="0.7" fill="#8f93e8" opacity="0.5"/>
<circle cx="202.5" cy="558.4" r="0.7" fill="#8f93e8" opacity="0.5"/>
<line x1="203.5" y1="537.8" x2="203.5" y2="547.3" stroke="#222" stroke-width="1.2"/>
<circle cx="231.8" cy="499.4" r="0.7" fill="#e05a60" opacity="0.5"/>
<circle cx="230.9" cy="487.0" r="0.7" fill="#e05a60" opacity="0.5"/>
<circle cx="231.6" cy="586.8" r="0.7" fill="#e05a60" opacity="0.5"/>
<circle cx="230.6" cy="482.4" r="0.7" fill="#e05a60" opacity="0.5"/>
<circle cx="233.3" cy="515.2" r="0.7" fill="#e05a60" opacity="0.5"/>
<circle cx="230.1" cy="560.0" r="0.7" fill="#e05a60" opacity="0.5"/>
<circle cx="232.8" cy="571.2" r="0.7" fill="#e05a60" opacity="0.5"/>
<circle cx="233.0" cy="520.7" r="0.7" fill="#e05a60" opacity="0.5"/>
<circle cx="230.2" cy="508.4" r="0.7" fill="#e05a60" opacity="0.5"/>
<circle cx="230.4" cy="522.6" r="0.7" fill="#e05a60" opacity="0.5"/>
<circle cx="233.1" cy="496.6" r="0.7" fill="#e05a60" opacity="0.5"/>
<circle cx="231.1" cy="533.0" r="0.7" fill="#e05a60" opacity="0.5"/>
<circle cx="230.7" cy="510.3" r="0.7" fill="#e05a60" opacity="0.5"/>
<circle cx="232.5" cy="547.0" r="0.7" fill="#e05a60" opacity="0.5"/>
<circle cx="231.9" cy="517.0" r="0.7" fill="#e05a60" opacity="0.5"/>
<circle cx="232.0" cy="531.4" r="0.7" fill="#e05a60" opacity="0.5"/>
<circle cx="230.3" cy="523.0" r="0.7" fill="#e05a60" opacity="0.5"/>
<circle cx="230.5" cy="505.2" r="0.7" fill="#e05a60" opacity="0.5"/>
<circle cx="232.1" cy="528.6" r="0.7" fill="#e05a60" opacity="0.5"/>
<circle cx="230.5" cy="495.4" r="0.7" fill="#e05a60" opacity="0.5"/>
<circle cx="232.2" cy="506.5" r="0.7" fill="#e05a60" opacity="0.5"/>
<circle cx="230.4" cy="526.1" r="0.7" fill="#e05a60" opacity="0.5"/>
<circle cx="232.6" cy="533.8" r="0.7" fill="#e05a60" opacity="0.5"/>
<circle cx="231.7" cy="512.8" r="0.7" fill="#e05a60" opacity="0.5"/>
<circle cx="231.2" cy="517.5" r="0.7" fill="#e05a60" opacity="0.5"/>
<circle cx="231.7" cy="523.4" r="0.7" fill="#e05a60" opacity="0.5"/>
<circle cx="230.3" cy="534.3" r="0.7" fill="#e05a60" opacity="0.5"/>
<circle cx="232.3" cy="535.6" r="0.7" fill="#e05a60" opacity="0.5"/>
<circle cx="230.9" cy="544.1" r="0.7" fill="#e05a60" opacity="0.5"/>
<circle cx="233.2" cy="517.2" r="0.7" fill="#e05a60" opacity="0.5"/>
<line x1="231.6" y1="522.9" x2="231.6" y2="532.4" stroke="#222" stroke-width="1.2"/>
<circle cx="249.3" cy="573.4" r="0.7" fill="#ea8a90" opacity="0.5"/>
<circle cx="249.5" cy="533.1" r="0.7" fill="#ea8a90" opacity="0.5"/>
<circle cx="249.4" cy="508.7" r="0.7" fill="#ea8a90" opacity="0.5"/>
<circle cx="248.8" cy="622.2" r="0.7" fill="#ea8a90" opacity="0.5"/>
<circle cx="248.1" cy="563.8" r="0.7" fill="#ea8a90" opacity="0.5"/>
<circle cx="251.3" cy="577.5" r="0.7" fill="#ea8a90" opacity="0.5"/>
<circle cx="249.5" cy="600.8" r="0.7" fill="#ea8a90" opacity="0.5"/>
<circle cx="251.2" cy="541.2" r="0.7" fill="#ea8a90" opacity="0.5"/>
<circle cx="248.1" cy="575.4" r="0.7" fill="#ea8a90" opacity="0.5"/>
<circle cx="250.0" cy="558.2" r="0.7" fill="#ea8a90" opacity="0.5"/>
<circle cx="248.4" cy="594.8" r="0.7" fill="#ea8a90" opacity="0.5"/>
<circle cx="250.3" cy="602.0" r="0.7" fill="#ea8a90" opacity="0.5"/>
<circle cx="248.6" cy="581.1" r="0.7" fill="#ea8a90" opacity="0.5"/>
<circle cx="249.1" cy="541.1" r="0.7" fill="#ea8a90" opacity="0.5"/>
<circle cx="248.4" cy="615.5" r="0.7" fill="#ea8a90" opacity="0.5"/>
<circle cx="249.8" cy="568.8" r="0.7" fill="#ea8a90" opacity="0.5"/>
<circle cx="248.8" cy="540.6" r="0.7" fill="#ea8a90" opacity="0.5"/>
<circle cx="248.5" cy="620.2" r="0.7" fill="#ea8a90" opacity="0.5"/>
<circle cx="249.8" cy="500.8" r="0.7" fill="#ea8a90" opacity="0.5"/>
<circle cx="248.2" cy="584.3" r="0.7" fill="#ea8a90" opacity="0.5"/>
<circle cx="251.3" cy="540.5" r="0.7" fill="#ea8a90" opacity="0.5"/>
<circle cx="250.3" cy="572.2" r="0.7" fill="#ea8a90" opacity="0.5"/>
<circle cx="250.9" cy="555.2" r="0.7" fill="#ea8a90" opacity="0.5"/>
<circle cx="248.8" cy="574.2" r="0.7" fill="#ea8a90" opacity="0.5"/>
<circle cx="251.0" cy="599.7" r="0.7" fill="#ea8a90" opacity="0.5"/>
<circle cx="248.7" cy="535.5" r="0.7" fill="#ea8a90" opacity="0.5"/>
<circle cx="249.9" cy="556.8" r="0.7" fill="#ea8a90" opacity="0.5"/>
<circle cx="249.4" cy="538.0" r="0.7" fill="#ea8a90" opacity="0.5"/>
<circle cx="250.7" cy="548.8" r="0.7" fill="#ea8a90" opacity="0.5"/>
<circle cx="251.3" cy="549.1" r="0.7" fill="#ea8a90" opacity="0.5"/>
<line x1="249.9" y1="556.8" x2="249.9" y2="566.4" stroke="#222" stroke-width="1.2"/>
<text x="76.1" y="464.3" font-size="19" text-anchor="end" fill="#000" >.2</text>
<text x="76.1" y="523.9" font-size="19" text-anchor="end" fill="#000" >.1</text>
<text x="76.1" y="583.5" font-size="19" text-anchor="end" fill="#000" >0</text>
<text x="76.1" y="643.1" font-size="19" text-anchor="end" fill="#000" >-.1</text>
<text x="103.0" y="464.3" font-size="17.5" text-anchor="middle" font-style="italic" fill="#000" >71</text>
<text x="104.0" y="478.1" font-size="13.6" text-anchor="middle" font-style="italic" fill="#000" letter-spacing="1.9" stroke="#000" stroke-width="0.35">***</text>
<path d="M92.4,482.8 Q103.0,473.4 113.6,482.8" fill="none" stroke="#444" stroke-width="0.8"/>
<text x="148.9" y="464.3" font-size="17.5" text-anchor="middle" font-style="italic" fill="#000" >53</text>
<text x="148.9" y="475.2" font-size="12.3" text-anchor="middle" font-style="italic" fill="#000" letter-spacing="0.4">n.s.</text>
<path d="M138.3,482.8 Q148.9,473.4 159.5,482.8" fill="none" stroke="#444" stroke-width="0.8"/>
<text x="194.3" y="464.3" font-size="17.5" text-anchor="middle" font-style="italic" fill="#000" >53</text>
<text x="194.3" y="475.2" font-size="12.3" text-anchor="middle" font-style="italic" fill="#000" letter-spacing="0.4">n.s.</text>
<path d="M183.7,482.8 Q194.3,473.4 204.9,482.8" fill="none" stroke="#444" stroke-width="0.8"/>
<text x="240.7" y="464.3" font-size="17.5" text-anchor="middle" font-style="italic" fill="#000" >75</text>
<text x="241.7" y="478.1" font-size="13.6" text-anchor="middle" font-style="italic" fill="#000" letter-spacing="1.9" stroke="#000" stroke-width="0.35">***</text>
<path d="M230.1,482.8 Q240.7,473.4 251.3,482.8" fill="none" stroke="#444" stroke-width="0.8"/>
<text x="289.8" y="468.8" font-size="29.3" text-anchor="start" fill="#000" >E</text>
<line x1="372.3" y1="458.3" x2="372.3" y2="637.2" stroke="#8a8a8a" stroke-width="1.6"/>
<line x1="371.5" y1="637.2" x2="555.6" y2="637.2" stroke="#555" stroke-width="1.1"/>
<line x1="465.2" y1="637.2" x2="465.2" y2="640.2" stroke="#999" stroke-width="0.8"/>
<line x1="372.3" y1="548.2" x2="555.6" y2="548.2" stroke="#c8c8c8" stroke-width="1"/>
<rect x="377.20" y="539.26" width="18.30" height="8.94" fill="#a8a6f0"/>
<rect x="395.50" y="548.20" width="18.30" height="17.88" fill="#c8c8f8"/>
<rect x="423.10" y="548.20" width="18.30" height="5.81" fill="#f2a6a6"/>
<rect x="441.40" y="548.20" width="18.30" height="3.13" fill="#f5c8ca"/>
<rect x="468.70" y="541.05" width="18.30" height="7.15" fill="#a8a6f0"/>
<rect x="487.00" y="540.15" width="18.30" height="8.05" fill="#c8c8f8"/>
<rect x="514.60" y="525.85" width="18.30" height="22.35" fill="#f2a6a6"/>
<rect x="532.90" y="548.20" width="18.30" height="6.71" fill="#f5c8ca"/>
<circle cx="387.3" cy="517.0" r="0.7" fill="#5a5fd8" opacity="0.5"/>
<circle cx="384.7" cy="533.4" r="0.7" fill="#5a5fd8" opacity="0.5"/>
<circle cx="386.7" cy="534.6" r="0.7" fill="#5a5fd8" opacity="0.5"/>
<circle cx="386.5" cy="546.9" r="0.7" fill="#5a5fd8" opacity="0.5"/>
<circle cx="386.1" cy="549.9" r="0.7" fill="#5a5fd8" opacity="0.5"/>
<circle cx="386.6" cy="550.2" r="0.7" fill="#5a5fd8" opacity="0.5"/>
<circle cx="386.2" cy="562.7" r="0.7" fill="#5a5fd8" opacity="0.5"/>
<circle cx="386.1" cy="527.5" r="0.7" fill="#5a5fd8" opacity="0.5"/>
<circle cx="386.3" cy="514.7" r="0.7" fill="#5a5fd8" opacity="0.5"/>
<circle cx="385.4" cy="535.6" r="0.7" fill="#5a5fd8" opacity="0.5"/>
<circle cx="386.2" cy="536.6" r="0.7" fill="#5a5fd8" opacity="0.5"/>
<circle cx="385.2" cy="570.3" r="0.7" fill="#5a5fd8" opacity="0.5"/>
<circle cx="385.0" cy="547.6" r="0.7" fill="#5a5fd8" opacity="0.5"/>
<circle cx="386.1" cy="537.8" r="0.7" fill="#5a5fd8" opacity="0.5"/>
<circle cx="386.4" cy="523.1" r="0.7" fill="#5a5fd8" opacity="0.5"/>
<circle cx="384.7" cy="528.7" r="0.7" fill="#5a5fd8" opacity="0.5"/>
<circle cx="387.2" cy="544.1" r="0.7" fill="#5a5fd8" opacity="0.5"/>
<circle cx="387.3" cy="544.9" r="0.7" fill="#5a5fd8" opacity="0.5"/>
<circle cx="386.4" cy="545.2" r="0.7" fill="#5a5fd8" opacity="0.5"/>
<circle cx="385.9" cy="539.7" r="0.7" fill="#5a5fd8" opacity="0.5"/>
<circle cx="387.6" cy="530.0" r="0.7" fill="#5a5fd8" opacity="0.5"/>
<circle cx="388.1" cy="542.2" r="0.7" fill="#5a5fd8" opacity="0.5"/>
<circle cx="385.2" cy="542.9" r="0.7" fill="#5a5fd8" opacity="0.5"/>
<circle cx="388.1" cy="571.9" r="0.7" fill="#5a5fd8" opacity="0.5"/>
<circle cx="387.8" cy="584.0" r="0.7" fill="#5a5fd8" opacity="0.5"/>
<circle cx="385.1" cy="537.0" r="0.7" fill="#5a5fd8" opacity="0.5"/>
<circle cx="384.8" cy="529.4" r="0.7" fill="#5a5fd8" opacity="0.5"/>
<circle cx="385.8" cy="579.4" r="0.7" fill="#5a5fd8" opacity="0.5"/>
<circle cx="387.8" cy="538.9" r="0.7" fill="#5a5fd8" opacity="0.5"/>
<circle cx="385.5" cy="549.8" r="0.7" fill="#5a5fd8" opacity="0.5"/>
<line x1="386.3" y1="535.7" x2="386.3" y2="542.8" stroke="#222" stroke-width="1.2"/>
<circle cx="404.7" cy="562.1" r="0.7" fill="#8f93e8" opacity="0.5"/>
<circle cx="406.2" cy="575.2" r="0.7" fill="#8f93e8" opacity="0.5"/>
<circle cx="404.7" cy="562.5" r="0.7" fill="#8f93e8" opacity="0.5"/>
<circle cx="404.0" cy="552.6" r="0.7" fill="#8f93e8" opacity="0.5"/>
<circle cx="403.4" cy="555.0" r="0.7" fill="#8f93e8" opacity="0.5"/>
<circle cx="406.2" cy="563.5" r="0.7" fill="#8f93e8" opacity="0.5"/>
<circle cx="403.5" cy="582.3" r="0.7" fill="#8f93e8" opacity="0.5"/>
<circle cx="405.7" cy="600.4" r="0.7" fill="#8f93e8" opacity="0.5"/>
<circle cx="405.1" cy="549.6" r="0.7" fill="#8f93e8" opacity="0.5"/>
<circle cx="404.1" cy="551.5" r="0.7" fill="#8f93e8" opacity="0.5"/>
<circle cx="404.9" cy="550.2" r="0.7" fill="#8f93e8" opacity="0.5"/>
<circle cx="406.0" cy="582.4" r="0.7" fill="#8f93e8" opacity="0.5"/>
<circle cx="405.1" cy="521.5" r="0.7" fill="#8f93e8" opacity="0.5"/>
<circle cx="404.3" cy="531.7" r="0.7" fill="#8f93e8" opacity="0.5"/>
<circle cx="406.4" cy="561.9" r="0.7" fill="#8f93e8" opacity="0.5"/>
<circle cx="404.9" cy="579.5" r="0.7" fill="#8f93e8" opacity="0.5"/>
<circle cx="404.4" cy="585.5" r="0.7" fill="#8f93e8" opacity="0.5"/>
<circle cx="403.5" cy="542.7" r="0.7" fill="#8f93e8" opacity="0.5"/>
<circle cx="405.8" cy="566.3" r="0.7" fill="#8f93e8" opacity="0.5"/>
<circle cx="403.8" cy="571.7" r="0.7" fill="#8f93e8" opacity="0.5"/>
<circle cx="405.0" cy="599.1" r="0.7" fill="#8f93e8" opacity="0.5"/>
<circle cx="405.2" cy="605.6" r="0.7" fill="#8f93e8" opacity="0.5"/>
<circle cx="403.0" cy="566.5" r="0.7" fill="#8f93e8" opacity="0.5"/>
<circle cx="403.4" cy="565.1" r="0.7" fill="#8f93e8" opacity="0.5"/>
<circle cx="404.7" cy="580.3" r="0.7" fill="#8f93e8" opacity="0.5"/>
<circle cx="406.1" cy="578.8" r="0.7" fill="#8f93e8" opacity="0.5"/>
<circle cx="405.2" cy="557.4" r="0.7" fill="#8f93e8" opacity="0.5"/>
<circle cx="402.9" cy="556.6" r="0.7" fill="#8f93e8" opacity="0.5"/>
<circle cx="403.2" cy="549.3" r="0.7" fill="#8f93e8" opacity="0.5"/>
<circle cx="404.1" cy="565.8" r="0.7" fill="#8f93e8" opacity="0.5"/>
<line x1="404.6" y1="562.5" x2="404.6" y2="569.7" stroke="#222" stroke-width="1.2"/>
<circle cx="432.6" cy="550.2" r="0.7" fill="#e05a60" opacity="0.5"/>
<circle cx="431.2" cy="530.7" r="0.7" fill="#e05a60" opacity="0.5"/>
<circle cx="430.9" cy="568.5" r="0.7" fill="#e05a60" opacity="0.5"/>
<circle cx="433.8" cy="568.3" r="0.7" fill="#e05a60" opacity="0.5"/>
<circle cx="430.8" cy="553.6" r="0.7" fill="#e05a60" opacity="0.5"/>
<circle cx="432.7" cy="543.9" r="0.7" fill="#e05a60" opacity="0.5"/>
<circle cx="431.9" cy="532.5" r="0.7" fill="#e05a60" opacity="0.5"/>
<circle cx="431.4" cy="576.6" r="0.7" fill="#e05a60" opacity="0.5"/>
<circle cx="432.5" cy="528.3" r="0.7" fill="#e05a60" opacity="0.5"/>
<circle cx="431.7" cy="552.2" r="0.7" fill="#e05a60" opacity="0.5"/>
<circle cx="433.8" cy="565.8" r="0.7" fill="#e05a60" opacity="0.5"/>
<circle cx="433.1" cy="569.4" r="0.7" fill="#e05a60" opacity="0.5"/>
<circle cx="430.6" cy="553.6" r="0.7" fill="#e05a60" opacity="0.5"/>
<circle cx="432.4" cy="515.3" r="0.7" fill="#e05a60" opacity="0.5"/>
<circle cx="430.7" cy="565.0" r="0.7" fill="#e05a60" opacity="0.5"/>
<circle cx="433.3" cy="546.7" r="0.7" fill="#e05a60" opacity="0.5"/>
<circle cx="433.8" cy="531.5" r="0.7" fill="#e05a60" opacity="0.5"/>
<circle cx="431.0" cy="552.3" r="0.7" fill="#e05a60" opacity="0.5"/>
<circle cx="432.3" cy="546.4" r="0.7" fill="#e05a60" opacity="0.5"/>
<circle cx="432.8" cy="530.8" r="0.7" fill="#e05a60" opacity="0.5"/>
<circle cx="431.6" cy="549.7" r="0.7" fill="#e05a60" opacity="0.5"/>
<circle cx="431.5" cy="564.2" r="0.7" fill="#e05a60" opacity="0.5"/>
<circle cx="433.3" cy="518.2" r="0.7" fill="#e05a60" opacity="0.5"/>
<circle cx="433.0" cy="542.8" r="0.7" fill="#e05a60" opacity="0.5"/>
<circle cx="433.1" cy="519.5" r="0.7" fill="#e05a60" opacity="0.5"/>
<circle cx="432.1" cy="552.6" r="0.7" fill="#e05a60" opacity="0.5"/>
<circle cx="431.3" cy="555.0" r="0.7" fill="#e05a60" opacity="0.5"/>
<circle cx="430.8" cy="573.6" r="0.7" fill="#e05a60" opacity="0.5"/>
<circle cx="431.7" cy="553.5" r="0.7" fill="#e05a60" opacity="0.5"/>
<circle cx="433.1" cy="549.0" r="0.7" fill="#e05a60" opacity="0.5"/>
<line x1="432.2" y1="550.4" x2="432.2" y2="557.6" stroke="#222" stroke-width="1.2"/>
<circle cx="451.3" cy="563.0" r="0.7" fill="#ea8a90" opacity="0.5"/>
<circle cx="449.7" cy="583.8" r="0.7" fill="#ea8a90" opacity="0.5"/>
<circle cx="451.6" cy="569.4" r="0.7" fill="#ea8a90" opacity="0.5"/>
<circle cx="450.6" cy="557.7" r="0.7" fill="#ea8a90" opacity="0.5"/>
<circle cx="452.2" cy="553.8" r="0.7" fill="#ea8a90" opacity="0.5"/>
<circle cx="449.5" cy="525.8" r="0.7" fill="#ea8a90" opacity="0.5"/>
<circle cx="449.7" cy="549.0" r="0.7" fill="#ea8a90" opacity="0.5"/>
<circle cx="449.6" cy="553.5" r="0.7" fill="#ea8a90" opacity="0.5"/>
<circle cx="451.4" cy="553.0" r="0.7" fill="#ea8a90" opacity="0.5"/>
<circle cx="449.9" cy="594.3" r="0.7" fill="#ea8a90" opacity="0.5"/>
<circle cx="449.6" cy="539.7" r="0.7" fill="#ea8a90" opacity="0.5"/>
<circle cx="452.0" cy="562.2" r="0.7" fill="#ea8a90" opacity="0.5"/>
<circle cx="451.1" cy="570.0" r="0.7" fill="#ea8a90" opacity="0.5"/>
<circle cx="452.3" cy="571.4" r="0.7" fill="#ea8a90" opacity="0.5"/>
<circle cx="451.3" cy="584.9" r="0.7" fill="#ea8a90" opacity="0.5"/>
<circle cx="451.8" cy="544.8" r="0.7" fill="#ea8a90" opacity="0.5"/>
<circle cx="450.8" cy="577.8" r="0.7" fill="#ea8a90" opacity="0.5"/>
<circle cx="449.9" cy="540.3" r="0.7" fill="#ea8a90" opacity="0.5"/>
<circle cx="449.0" cy="545.4" r="0.7" fill="#ea8a90" opacity="0.5"/>
<circle cx="452.0" cy="527.1" r="0.7" fill="#ea8a90" opacity="0.5"/>
<circle cx="449.1" cy="548.8" r="0.7" fill="#ea8a90" opacity="0.5"/>
<circle cx="452.1" cy="548.0" r="0.7" fill="#ea8a90" opacity="0.5"/>
<circle cx="448.9" cy="556.9" r="0.7" fill="#ea8a90" opacity="0.5"/>
<circle cx="448.9" cy="543.1" r="0.7" fill="#ea8a90" opacity="0.5"/>
<circle cx="451.3" cy="560.3" r="0.7" fill="#ea8a90" opacity="0.5"/>
<circle cx="451.4" cy="575.0" r="0.7" fill="#ea8a90" opacity="0.5"/>
<circle cx="450.1" cy="529.4" r="0.7" fill="#ea8a90" opacity="0.5"/>
<circle cx="451.7" cy="541.7" r="0.7" fill="#ea8a90" opacity="0.5"/>
<circle cx="449.0" cy="535.4" r="0.7" fill="#ea8a90" opacity="0.5"/>
<circle cx="451.9" cy="585.5" r="0.7" fill="#ea8a90" opacity="0.5"/>
<line x1="450.6" y1="547.8" x2="450.6" y2="554.9" stroke="#222" stroke-width="1.2"/>
<circle cx="476.4" cy="504.1" r="0.7" fill="#5a5fd8" opacity="0.5"/>
<circle cx="476.8" cy="563.1" r="0.7" fill="#5a5fd8" opacity="0.5"/>
<circle cx="479.1" cy="537.4" r="0.7" fill="#5a5fd8" opacity="0.5"/>
<circle cx="479.0" cy="538.0" r="0.7" fill="#5a5fd8" opacity="0.5"/>
<circle cx="478.3" cy="563.3" r="0.7" fill="#5a5fd8" opacity="0.5"/>
<circle cx="477.1" cy="566.0" r="0.7" fill="#5a5fd8" opacity="0.5"/>
<circle cx="478.8" cy="534.5" r="0.7" fill="#5a5fd8" opacity="0.5"/>
<circle cx="476.8" cy="536.3" r="0.7" fill="#5a5fd8" opacity="0.5"/>
<circle cx="476.1" cy="548.9" r="0.7" fill="#5a5fd8" opacity="0.5"/>
<circle cx="477.0" cy="524.0" r="0.7" fill="#5a5fd8" opacity="0.5"/>
<circle cx="477.4" cy="546.8" r="0.7" fill="#5a5fd8" opacity="0.5"/>
<circle cx="477.2" cy="513.3" r="0.7" fill="#5a5fd8" opacity="0.5"/>
<circle cx="479.1" cy="520.4" r="0.7" fill="#5a5fd8" opacity="0.5"/>
<circle cx="478.3" cy="545.8" r="0.7" fill="#5a5fd8" opacity="0.5"/>
<circle cx="477.6" cy="522.9" r="0.7" fill="#5a5fd8" opacity="0.5"/>
<circle cx="478.8" cy="537.5" r="0.7" fill="#5a5fd8" opacity="0.5"/>
<circle cx="478.0" cy="557.0" r="0.7" fill="#5a5fd8" opacity="0.5"/>
<circle cx="476.8" cy="518.1" r="0.7" fill="#5a5fd8" opacity="0.5"/>
<circle cx="479.0" cy="536.0" r="0.7" fill="#5a5fd8" opacity="0.5"/>
<circle cx="476.7" cy="547.0" r="0.7" fill="#5a5fd8" opacity="0.5"/>
<circle cx="478.8" cy="529.0" r="0.7" fill="#5a5fd8" opacity="0.5"/>
<circle cx="479.6" cy="540.9" r="0.7" fill="#5a5fd8" opacity="0.5"/>
<circle cx="477.8" cy="520.3" r="0.7" fill="#5a5fd8" opacity="0.5"/>
<circle cx="478.9" cy="540.5" r="0.7" fill="#5a5fd8" opacity="0.5"/>
<circle cx="477.3" cy="532.7" r="0.7" fill="#5a5fd8" opacity="0.5"/>
<circle cx="479.0" cy="521.9" r="0.7" fill="#5a5fd8" opacity="0.5"/>
<circle cx="477.1" cy="543.9" r="0.7" fill="#5a5fd8" opacity="0.5"/>
<circle cx="476.8" cy="498.2" r="0.7" fill="#5a5fd8" opacity="0.5"/>
<circle cx="476.4" cy="547.6" r="0.7" fill="#5a5fd8" opacity="0.5"/>
<circle cx="478.3" cy="561.0" r="0.7" fill="#5a5fd8" opacity="0.5"/>
<line x1="477.8" y1="537.5" x2="477.8" y2="544.6" stroke="#222" stroke-width="1.2"/>
<circle cx="496.9" cy="512.6" r="0.7" fill="#8f93e8" opacity="0.5"/>
<circle cx="497.2" cy="524.8" r="0.7" fill="#8f93e8" opacity="0.5"/>
<circle cx="495.8" cy="551.8" r="0.7" fill="#8f93e8" opacity="0.5"/>
<circle cx="495.8" cy="552.2" r="0.7" fill="#8f93e8" opacity="0.5"/>
<circle cx="497.5" cy="534.3" r="0.7" fill="#8f93e8" opacity="0.5"/>
<circle cx="494.4" cy="545.0" r="0.7" fill="#8f93e8" opacity="0.5"/>
<circle cx="497.6" cy="536.3" r="0.7" fill="#8f93e8" opacity="0.5"/>
<circle cx="496.2" cy="526.7" r="0.7" fill="#8f93e8" opacity="0.5"/>
<circle cx="495.2" cy="567.1" r="0.7" fill="#8f93e8" opacity="0.5"/>
<circle cx="496.0" cy="514.6" r="0.7" fill="#8f93e8" opacity="0.5"/>
<circle cx="497.1" cy="569.5" r="0.7" fill="#8f93e8" opacity="0.5"/>
<circle cx="496.7" cy="546.1" r="0.7" fill="#8f93e8" opacity="0.5"/>
<circle cx="494.9" cy="549.4" r="0.7" fill="#8f93e8" opacity="0.5"/>
<circle cx="497.4" cy="527.2" r="0.7" fill="#8f93e8" opacity="0.5"/>
<circle cx="495.0" cy="555.6" r="0.7" fill="#8f93e8" opacity="0.5"/>
<circle cx="495.9" cy="565.2" r="0.7" fill="#8f93e8" opacity="0.5"/>
<circle cx="494.8" cy="536.7" r="0.7" fill="#8f93e8" opacity="0.5"/>
<circle cx="496.0" cy="563.4" r="0.7" fill="#8f93e8" opacity="0.5"/>
<circle cx="495.0" cy="530.3" r="0.7" fill="#8f93e8" opacity="0.5"/>
<circle cx="495.4" cy="548.9" r="0.7" fill="#8f93e8" opacity="0.5"/>
<circle cx="494.9" cy="550.1" r="0.7" fill="#8f93e8" opacity="0.5"/>
<circle cx="494.9" cy="573.1" r="0.7" fill="#8f93e8" opacity="0.5"/>
<circle cx="496.2" cy="539.9" r="0.7" fill="#8f93e8" opacity="0.5"/>
<circle cx="494.9" cy="524.3" r="0.7" fill="#8f93e8" opacity="0.5"/>
<circle cx="497.9" cy="545.6" r="0.7" fill="#8f93e8" opacity="0.5"/>
<circle cx="497.0" cy="529.9" r="0.7" fill="#8f93e8" opacity="0.5"/>
<circle cx="494.7" cy="503.4" r="0.7" fill="#8f93e8" opacity="0.5"/>
<circle cx="495.7" cy="512.8" r="0.7" fill="#8f93e8" opacity="0.5"/>
<circle cx="497.0" cy="508.5" r="0.7" fill="#8f93e8" opacity="0.5"/>
<circle cx="495.9" cy="543.4" r="0.7" fill="#8f93e8" opacity="0.5"/>
<line x1="496.1" y1="536.6" x2="496.1" y2="543.7" stroke="#222" stroke-width="1.2"/>
<circle cx="522.3" cy="517.4" r="0.7" fill="#e05a60" opacity="0.5"/>
<circle cx="522.7" cy="501.8" r="0.7" fill="#e05a60" opacity="0.5"/>
<circle cx="523.4" cy="529.4" r="0.7" fill="#e05a60" opacity="0.5"/>
<circle cx="524.8" cy="522.8" r="0.7" fill="#e05a60" opacity="0.5"/>
<circle cx="524.2" cy="533.2" r="0.7" fill="#e05a60" opacity="0.5"/>
<circle cx="523.6" cy="545.6" r="0.7" fill="#e05a60" opacity="0.5"/>
<circle cx="523.4" cy="510.6" r="0.7" fill="#e05a60" opacity="0.5"/>
<circle cx="524.6" cy="506.9" r="0.7" fill="#e05a60" opacity="0.5"/>
<circle cx="524.0" cy="510.0" r="0.7" fill="#e05a60" opacity="0.5"/>
<circle cx="524.6" cy="536.2" r="0.7" fill="#e05a60" opacity="0.5"/>
<circle cx="524.5" cy="537.2" r="0.7" fill="#e05a60" opacity="0.5"/>
<circle cx="525.1" cy="519.7" r="0.7" fill="#e05a60" opacity="0.5"/>
<circle cx="525.0" cy="521.7" r="0.7" fill="#e05a60" opacity="0.5"/>
<circle cx="524.4" cy="553.3" r="0.7" fill="#e05a60" opacity="0.5"/>
<circle cx="523.1" cy="538.2" r="0.7" fill="#e05a60" opacity="0.5"/>
<circle cx="524.2" cy="541.1" r="0.7" fill="#e05a60" opacity="0.5"/>
<circle cx="524.8" cy="510.6" r="0.7" fill="#e05a60" opacity="0.5"/>
<circle cx="524.5" cy="515.1" r="0.7" fill="#e05a60" opacity="0.5"/>
<circle cx="523.5" cy="535.2" r="0.7" fill="#e05a60" opacity="0.5"/>
<circle cx="523.6" cy="535.7" r="0.7" fill="#e05a60" opacity="0.5"/>
<circle cx="524.4" cy="539.1" r="0.7" fill="#e05a60" opacity="0.5"/>
<circle cx="525.3" cy="538.5" r="0.7" fill="#e05a60" opacity="0.5"/>
<circle cx="524.8" cy="515.2" r="0.7" fill="#e05a60" opacity="0.5"/>
<circle cx="523.3" cy="502.1" r="0.7" fill="#e05a60" opacity="0.5"/>
<circle cx="522.1" cy="574.2" r="0.7" fill="#e05a60" opacity="0.5"/>
<circle cx="523.9" cy="522.8" r="0.7" fill="#e05a60" opacity="0.5"/>
<circle cx="525.3" cy="509.3" r="0.7" fill="#e05a60" opacity="0.5"/>
<circle cx="523.8" cy="499.4" r="0.7" fill="#e05a60" opacity="0.5"/>
<circle cx="523.9" cy="507.0" r="0.7" fill="#e05a60" opacity="0.5"/>
<circle cx="524.5" cy="512.0" r="0.7" fill="#e05a60" opacity="0.5"/>
<line x1="523.8" y1="522.3" x2="523.8" y2="529.4" stroke="#222" stroke-width="1.2"/>
<circle cx="543.2" cy="580.4" r="0.7" fill="#ea8a90" opacity="0.5"/>
<circle cx="542.1" cy="556.9" r="0.7" fill="#ea8a90" opacity="0.5"/>
<circle cx="541.0" cy="591.7" r="0.7" fill="#ea8a90" opacity="0.5"/>
<circle cx="542.7" cy="531.7" r="0.7" fill="#ea8a90" opacity="0.5"/>
<circle cx="540.7" cy="578.6" r="0.7" fill="#ea8a90" opacity="0.5"/>
<circle cx="543.8" cy="535.9" r="0.7" fill="#ea8a90" opacity="0.5"/>
<circle cx="541.2" cy="558.7" r="0.7" fill="#ea8a90" opacity="0.5"/>
<circle cx="541.7" cy="550.1" r="0.7" fill="#ea8a90" opacity="0.5"/>
<circle cx="541.8" cy="536.3" r="0.7" fill="#ea8a90" opacity="0.5"/>
<circle cx="542.8" cy="553.3" r="0.7" fill="#ea8a90" opacity="0.5"/>
<circle cx="541.1" cy="563.3" r="0.7" fill="#ea8a90" opacity="0.5"/>
<circle cx="542.9" cy="543.7" r="0.7" fill="#ea8a90" opacity="0.5"/>
<circle cx="541.0" cy="534.6" r="0.7" fill="#ea8a90" opacity="0.5"/>
<circle cx="543.1" cy="563.0" r="0.7" fill="#ea8a90" opacity="0.5"/>
<circle cx="540.7" cy="564.5" r="0.7" fill="#ea8a90" opacity="0.5"/>
<circle cx="543.0" cy="547.2" r="0.7" fill="#ea8a90" opacity="0.5"/>
<circle cx="541.9" cy="545.6" r="0.7" fill="#ea8a90" opacity="0.5"/>
<circle cx="542.3" cy="578.5" r="0.7" fill="#ea8a90" opacity="0.5"/>
<circle cx="541.5" cy="548.0" r="0.7" fill="#ea8a90" opacity="0.5"/>
<circle cx="542.5" cy="509.4" r="0.7" fill="#ea8a90" opacity="0.5"/>
<circle cx="541.9" cy="541.1" r="0.7" fill="#ea8a90" opacity="0.5"/>
<circle cx="541.3" cy="584.8" r="0.7" fill="#ea8a90" opacity="0.5"/>
<circle cx="543.3" cy="563.7" r="0.7" fill="#ea8a90" opacity="0.5"/>
<circle cx="541.5" cy="557.7" r="0.7" fill="#ea8a90" opacity="0.5"/>
<circle cx="541.6" cy="546.6" r="0.7" fill="#ea8a90" opacity="0.5"/>
<circle cx="541.2" cy="566.3" r="0.7" fill="#ea8a90" opacity="0.5"/>
<circle cx="540.3" cy="565.2" r="0.7" fill="#ea8a90" opacity="0.5"/>
<circle cx="542.8" cy="549.8" r="0.7" fill="#ea8a90" opacity="0.5"/>
<circle cx="541.3" cy="557.5" r="0.7" fill="#ea8a90" opacity="0.5"/>
<circle cx="542.0" cy="541.8" r="0.7" fill="#ea8a90" opacity="0.5"/>
<line x1="542.0" y1="551.3" x2="542.0" y2="558.5" stroke="#222" stroke-width="1.2"/>
<text x="368.2" y="464.6" font-size="19" text-anchor="end" fill="#000" >.2</text>
<text x="368.2" y="509.3" font-size="19" text-anchor="end" fill="#000" >.1</text>
<text x="368.2" y="554.0" font-size="19" text-anchor="end" fill="#000" >0</text>
<text x="368.2" y="598.7" font-size="19" text-anchor="end" fill="#000" >-.1</text>
<text x="368.2" y="643.4" font-size="19" text-anchor="end" fill="#000" >-.2</text>
<text x="395.5" y="464.6" font-size="17.5" text-anchor="middle" font-style="italic" fill="#000" >77</text>
<text x="396.5" y="478.4" font-size="13.6" text-anchor="middle" font-style="italic" fill="#000" letter-spacing="1.9" stroke="#000" stroke-width="0.35">***</text>
<path d="M384.9,483.1 Q395.5,473.7 406.1,483.1" fill="none" stroke="#444" stroke-width="0.8"/>
<text x="441.4" y="464.6" font-size="17.5" text-anchor="middle" font-style="italic" fill="#000" >51</text>
<text x="441.4" y="475.5" font-size="12.3" text-anchor="middle" font-style="italic" fill="#000" letter-spacing="0.4">n.s.</text>
<path d="M430.8,483.1 Q441.4,473.7 452.0,483.1" fill="none" stroke="#444" stroke-width="0.8"/>
<text x="487.0" y="464.6" font-size="17.5" text-anchor="middle" font-style="italic" fill="#000" >53</text>
<text x="487.0" y="475.5" font-size="12.3" text-anchor="middle" font-style="italic" fill="#000" letter-spacing="0.4">n.s.</text>
<path d="M476.4,483.1 Q487.0,473.7 497.6,483.1" fill="none" stroke="#444" stroke-width="0.8"/>
<text x="532.9" y="464.6" font-size="17.5" text-anchor="middle" font-style="italic" fill="#000" >73</text>
<text x="533.9" y="478.4" font-size="13.6" text-anchor="middle" font-style="italic" fill="#000" letter-spacing="1.9" stroke="#000" stroke-width="0.35">***</text>
<path d="M522.3,483.1 Q532.9,473.7 543.5,483.1" fill="none" stroke="#444" stroke-width="0.8"/>
<text x="582.8" y="468.8" font-size="29.3" text-anchor="start" fill="#000" >F</text>
<line x1="665.3" y1="458.3" x2="665.3" y2="637.2" stroke="#8a8a8a" stroke-width="1.6"/>
<line x1="664.5" y1="637.2" x2="848.5" y2="637.2" stroke="#555" stroke-width="1.1"/>
<line x1="665.3" y1="578.0" x2="848.5" y2="578.0" stroke="#c8c8c8" stroke-width="1"/>
<rect x="669.90" y="541.49" width="18.30" height="36.51" fill="#a8a6f0"/>
<rect x="688.20" y="572.01" width="18.30" height="5.99" fill="#c8c8f8"/>
<rect x="715.80" y="553.46" width="18.30" height="24.54" fill="#f2a6a6"/>
<rect x="734.10" y="558.85" width="18.30" height="19.15" fill="#f5c8ca"/>
<rect x="761.70" y="578.00" width="18.30" height="6.58" fill="#a8a6f0"/>
<rect x="780.00" y="578.00" width="18.30" height="3.59" fill="#c8c8f8"/>
<rect x="807.60" y="570.22" width="18.30" height="7.78" fill="#f2a6a6"/>
<rect x="825.90" y="578.00" width="18.30" height="17.96" fill="#f5c8ca"/>
<circle cx="679.6" cy="572.2" r="0.7" fill="#5a5fd8" opacity="0.5"/>
<circle cx="678.6" cy="526.7" r="0.7" fill="#5a5fd8" opacity="0.5"/>
<circle cx="677.5" cy="499.1" r="0.7" fill="#5a5fd8" opacity="0.5"/>
<circle cx="680.2" cy="561.8" r="0.7" fill="#5a5fd8" opacity="0.5"/>
<circle cx="677.8" cy="506.7" r="0.7" fill="#5a5fd8" opacity="0.5"/>
<circle cx="680.2" cy="564.9" r="0.7" fill="#5a5fd8" opacity="0.5"/>
<circle cx="677.3" cy="544.3" r="0.7" fill="#5a5fd8" opacity="0.5"/>
<circle cx="680.7" cy="544.6" r="0.7" fill="#5a5fd8" opacity="0.5"/>
<circle cx="677.6" cy="551.6" r="0.7" fill="#5a5fd8" opacity="0.5"/>
<circle cx="677.8" cy="556.6" r="0.7" fill="#5a5fd8" opacity="0.5"/>
<circle cx="678.5" cy="537.2" r="0.7" fill="#5a5fd8" opacity="0.5"/>
<circle cx="677.8" cy="500.3" r="0.7" fill="#5a5fd8" opacity="0.5"/>
<circle cx="677.9" cy="506.6" r="0.7" fill="#5a5fd8" opacity="0.5"/>
<circle cx="680.5" cy="565.5" r="0.7" fill="#5a5fd8" opacity="0.5"/>
<circle cx="679.7" cy="573.9" r="0.7" fill="#5a5fd8" opacity="0.5"/>
<circle cx="680.5" cy="567.8" r="0.7" fill="#5a5fd8" opacity="0.5"/>
<circle cx="678.0" cy="530.7" r="0.7" fill="#5a5fd8" opacity="0.5"/>
<circle cx="679.7" cy="585.9" r="0.7" fill="#5a5fd8" opacity="0.5"/>
<circle cx="678.8" cy="580.2" r="0.7" fill="#5a5fd8" opacity="0.5"/>
<circle cx="680.4" cy="549.1" r="0.7" fill="#5a5fd8" opacity="0.5"/>
<circle cx="678.1" cy="559.1" r="0.7" fill="#5a5fd8" opacity="0.5"/>
<circle cx="677.8" cy="547.9" r="0.7" fill="#5a5fd8" opacity="0.5"/>
<circle cx="678.9" cy="549.8" r="0.7" fill="#5a5fd8" opacity="0.5"/>
<circle cx="677.8" cy="541.1" r="0.7" fill="#5a5fd8" opacity="0.5"/>
<circle cx="679.2" cy="569.6" r="0.7" fill="#5a5fd8" opacity="0.5"/>
<circle cx="680.4" cy="540.0" r="0.7" fill="#5a5fd8" opacity="0.5"/>
<circle cx="678.9" cy="495.6" r="0.7" fill="#5a5fd8" opacity="0.5"/>
<circle cx="679.3" cy="539.6" r="0.7" fill="#5a5fd8" opacity="0.5"/>
<circle cx="678.6" cy="564.8" r="0.7" fill="#5a5fd8" opacity="0.5"/>
<circle cx="678.8" cy="581.0" r="0.7" fill="#5a5fd8" opacity="0.5"/>
<line x1="679.0" y1="536.7" x2="679.0" y2="546.3" stroke="#222" stroke-width="1.2"/>
<circle cx="697.8" cy="562.8" r="0.7" fill="#8f93e8" opacity="0.5"/>
<circle cx="697.8" cy="574.3" r="0.7" fill="#8f93e8" opacity="0.5"/>
<circle cx="698.0" cy="539.7" r="0.7" fill="#8f93e8" opacity="0.5"/>
<circle cx="698.9" cy="566.2" r="0.7" fill="#8f93e8" opacity="0.5"/>
<circle cx="697.4" cy="604.8" r="0.7" fill="#8f93e8" opacity="0.5"/>
<circle cx="697.3" cy="512.8" r="0.7" fill="#8f93e8" opacity="0.5"/>
<circle cx="698.1" cy="567.0" r="0.7" fill="#8f93e8" opacity="0.5"/>
<circle cx="697.8" cy="575.8" r="0.7" fill="#8f93e8" opacity="0.5"/>
<circle cx="696.9" cy="597.2" r="0.7" fill="#8f93e8" opacity="0.5"/>
<circle cx="697.3" cy="531.6" r="0.7" fill="#8f93e8" opacity="0.5"/>
<circle cx="696.3" cy="612.6" r="0.7" fill="#8f93e8" opacity="0.5"/>
<circle cx="697.1" cy="578.6" r="0.7" fill="#8f93e8" opacity="0.5"/>
<circle cx="698.5" cy="598.9" r="0.7" fill="#8f93e8" opacity="0.5"/>
<circle cx="696.6" cy="557.8" r="0.7" fill="#8f93e8" opacity="0.5"/>
<circle cx="697.4" cy="560.6" r="0.7" fill="#8f93e8" opacity="0.5"/>
<circle cx="696.5" cy="593.5" r="0.7" fill="#8f93e8" opacity="0.5"/>
<circle cx="697.9" cy="637.0" r="0.7" fill="#8f93e8" opacity="0.5"/>
<circle cx="698.4" cy="574.6" r="0.7" fill="#8f93e8" opacity="0.5"/>
<circle cx="696.6" cy="582.2" r="0.7" fill="#8f93e8" opacity="0.5"/>
<circle cx="697.7" cy="553.7" r="0.7" fill="#8f93e8" opacity="0.5"/>
<circle cx="695.7" cy="599.8" r="0.7" fill="#8f93e8" opacity="0.5"/>
<circle cx="698.2" cy="603.4" r="0.7" fill="#8f93e8" opacity="0.5"/>
<circle cx="695.7" cy="549.4" r="0.7" fill="#8f93e8" opacity="0.5"/>
<circle cx="696.6" cy="591.8" r="0.7" fill="#8f93e8" opacity="0.5"/>
<circle cx="698.9" cy="556.5" r="0.7" fill="#8f93e8" opacity="0.5"/>
<circle cx="697.7" cy="571.4" r="0.7" fill="#8f93e8" opacity="0.5"/>
<circle cx="698.8" cy="595.1" r="0.7" fill="#8f93e8" opacity="0.5"/>
<circle cx="697.8" cy="607.4" r="0.7" fill="#8f93e8" opacity="0.5"/>
<circle cx="698.1" cy="597.0" r="0.7" fill="#8f93e8" opacity="0.5"/>
<circle cx="697.7" cy="594.5" r="0.7" fill="#8f93e8" opacity="0.5"/>
<line x1="697.3" y1="567.2" x2="697.3" y2="576.8" stroke="#222" stroke-width="1.2"/>
<circle cx="725.6" cy="560.4" r="0.7" fill="#e05a60" opacity="0.5"/>
<circle cx="724.8" cy="568.5" r="0.7" fill="#e05a60" opacity="0.5"/>
<circle cx="723.8" cy="552.6" r="0.7" fill="#e05a60" opacity="0.5"/>
<circle cx="723.3" cy="564.5" r="0.7" fill="#e05a60" opacity="0.5"/>
<circle cx="725.5" cy="545.3" r="0.7" fill="#e05a60" opacity="0.5"/>
<circle cx="724.5" cy="605.9" r="0.7" fill="#e05a60" opacity="0.5"/>
<circle cx="725.2" cy="534.9" r="0.7" fill="#e05a60" opacity="0.5"/>
<circle cx="724.1" cy="591.2" r="0.7" fill="#e05a60" opacity="0.5"/>
<circle cx="724.3" cy="561.5" r="0.7" fill="#e05a60" opacity="0.5"/>
<circle cx="724.7" cy="529.7" r="0.7" fill="#e05a60" opacity="0.5"/>
<circle cx="723.3" cy="588.5" r="0.7" fill="#e05a60" opacity="0.5"/>
<circle cx="725.2" cy="596.8" r="0.7" fill="#e05a60" opacity="0.5"/>
<circle cx="726.1" cy="541.8" r="0.7" fill="#e05a60" opacity="0.5"/>
<circle cx="725.2" cy="550.5" r="0.7" fill="#e05a60" opacity="0.5"/>
<circle cx="723.2" cy="530.8" r="0.7" fill="#e05a60" opacity="0.5"/>
<circle cx="724.5" cy="566.2" r="0.7" fill="#e05a60" opacity="0.5"/>
<circle cx="726.7" cy="600.7" r="0.7" fill="#e05a60" opacity="0.5"/>
<circle cx="724.9" cy="584.3" r="0.7" fill="#e05a60" opacity="0.5"/>
<circle cx="725.5" cy="562.9" r="0.7" fill="#e05a60" opacity="0.5"/>
<circle cx="723.9" cy="547.7" r="0.7" fill="#e05a60" opacity="0.5"/>
<circle cx="723.2" cy="551.0" r="0.7" fill="#e05a60" opacity="0.5"/>
<circle cx="725.6" cy="550.0" r="0.7" fill="#e05a60" opacity="0.5"/>
<circle cx="723.5" cy="508.5" r="0.7" fill="#e05a60" opacity="0.5"/>
<circle cx="726.3" cy="510.3" r="0.7" fill="#e05a60" opacity="0.5"/>
<circle cx="725.7" cy="550.3" r="0.7" fill="#e05a60" opacity="0.5"/>
<circle cx="724.0" cy="550.2" r="0.7" fill="#e05a60" opacity="0.5"/>
<circle cx="723.3" cy="555.1" r="0.7" fill="#e05a60" opacity="0.5"/>
<circle cx="725.9" cy="568.8" r="0.7" fill="#e05a60" opacity="0.5"/>
<circle cx="725.8" cy="564.2" r="0.7" fill="#e05a60" opacity="0.5"/>
<circle cx="723.5" cy="599.3" r="0.7" fill="#e05a60" opacity="0.5"/>
<line x1="724.9" y1="548.7" x2="724.9" y2="558.2" stroke="#222" stroke-width="1.2"/>
<circle cx="743.1" cy="584.8" r="0.7" fill="#ea8a90" opacity="0.5"/>
<circle cx="744.8" cy="586.1" r="0.7" fill="#ea8a90" opacity="0.5"/>
<circle cx="744.0" cy="560.4" r="0.7" fill="#ea8a90" opacity="0.5"/>
<circle cx="741.5" cy="497.1" r="0.7" fill="#ea8a90" opacity="0.5"/>
<circle cx="744.4" cy="524.3" r="0.7" fill="#ea8a90" opacity="0.5"/>
<circle cx="741.7" cy="555.6" r="0.7" fill="#ea8a90" opacity="0.5"/>
<circle cx="742.0" cy="573.3" r="0.7" fill="#ea8a90" opacity="0.5"/>
<circle cx="744.5" cy="523.0" r="0.7" fill="#ea8a90" opacity="0.5"/>
<circle cx="742.8" cy="567.2" r="0.7" fill="#ea8a90" opacity="0.5"/>
<circle cx="743.5" cy="558.1" r="0.7" fill="#ea8a90" opacity="0.5"/>
<circle cx="742.0" cy="592.2" r="0.7" fill="#ea8a90" opacity="0.5"/>
<circle cx="744.3" cy="545.3" r="0.7" fill="#ea8a90" opacity="0.5"/>
<circle cx="743.7" cy="581.3" r="0.7" fill="#ea8a90" opacity="0.5"/>
<circle cx="743.0" cy="532.8" r="0.7" fill="#ea8a90" opacity="0.5"/>
<circle cx="744.9" cy="590.5" r="0.7" fill="#ea8a90" opacity="0.5"/>
<circle cx="744.3" cy="531.2" r="0.7" fill="#ea8a90" opacity="0.5"/>
<circle cx="741.7" cy="577.0" r="0.7" fill="#ea8a90" opacity="0.5"/>
<circle cx="745.0" cy="567.0" r="0.7" fill="#ea8a90" opacity="0.5"/>
<circle cx="742.6" cy="571.8" r="0.7" fill="#ea8a90" opacity="0.5"/>
<circle cx="743.6" cy="601.8" r="0.7" fill="#ea8a90" opacity="0.5"/>
<circle cx="743.6" cy="514.1" r="0.7" fill="#ea8a90" opacity="0.5"/>
<circle cx="742.6" cy="565.2" r="0.7" fill="#ea8a90" opacity="0.5"/>
<circle cx="742.8" cy="604.0" r="0.7" fill="#ea8a90" opacity="0.5"/>
<circle cx="743.9" cy="537.1" r="0.7" fill="#ea8a90" opacity="0.5"/>
<circle cx="744.4" cy="599.7" r="0.7" fill="#ea8a90" opacity="0.5"/>
<circle cx="742.5" cy="589.3" r="0.7" fill="#ea8a90" opacity="0.5"/>
<circle cx="743.0" cy="540.1" r="0.7" fill="#ea8a90" opacity="0.5"/>
<circle cx="743.6" cy="558.6" r="0.7" fill="#ea8a90" opacity="0.5"/>
<circle cx="741.6" cy="538.7" r="0.7" fill="#ea8a90" opacity="0.5"/>
<circle cx="744.4" cy="604.6" r="0.7" fill="#ea8a90" opacity="0.5"/>
<line x1="743.2" y1="554.1" x2="743.2" y2="563.6" stroke="#222" stroke-width="1.2"/>
<circle cx="771.1" cy="566.4" r="0.7" fill="#5a5fd8" opacity="0.5"/>
<circle cx="770.0" cy="629.1" r="0.7" fill="#5a5fd8" opacity="0.5"/>
<circle cx="771.5" cy="558.8" r="0.7" fill="#5a5fd8" opacity="0.5"/>
<circle cx="772.3" cy="619.5" r="0.7" fill="#5a5fd8" opacity="0.5"/>
<circle cx="771.0" cy="590.4" r="0.7" fill="#5a5fd8" opacity="0.5"/>
<circle cx="771.9" cy="576.3" r="0.7" fill="#5a5fd8" opacity="0.5"/>
<circle cx="772.4" cy="572.4" r="0.7" fill="#5a5fd8" opacity="0.5"/>
<circle cx="769.9" cy="546.6" r="0.7" fill="#5a5fd8" opacity="0.5"/>
<circle cx="770.7" cy="612.8" r="0.7" fill="#5a5fd8" opacity="0.5"/>
<circle cx="769.8" cy="607.0" r="0.7" fill="#5a5fd8" opacity="0.5"/>
<circle cx="771.9" cy="585.8" r="0.7" fill="#5a5fd8" opacity="0.5"/>
<circle cx="770.7" cy="544.7" r="0.7" fill="#5a5fd8" opacity="0.5"/>
<circle cx="771.8" cy="547.6" r="0.7" fill="#5a5fd8" opacity="0.5"/>
<circle cx="769.9" cy="561.9" r="0.7" fill="#5a5fd8" opacity="0.5"/>
<circle cx="772.2" cy="629.4" r="0.7" fill="#5a5fd8" opacity="0.5"/>
<circle cx="770.9" cy="609.1" r="0.7" fill="#5a5fd8" opacity="0.5"/>
<circle cx="769.7" cy="616.2" r="0.7" fill="#5a5fd8" opacity="0.5"/>
<circle cx="769.7" cy="579.9" r="0.7" fill="#5a5fd8" opacity="0.5"/>
<circle cx="770.4" cy="568.9" r="0.7" fill="#5a5fd8" opacity="0.5"/>
<circle cx="771.1" cy="550.9" r="0.7" fill="#5a5fd8" opacity="0.5"/>
<circle cx="769.6" cy="608.2" r="0.7" fill="#5a5fd8" opacity="0.5"/>
<circle cx="769.2" cy="568.0" r="0.7" fill="#5a5fd8" opacity="0.5"/>
<circle cx="769.4" cy="561.4" r="0.7" fill="#5a5fd8" opacity="0.5"/>
<circle cx="771.3" cy="585.0" r="0.7" fill="#5a5fd8" opacity="0.5"/>
<circle cx="771.2" cy="581.3" r="0.7" fill="#5a5fd8" opacity="0.5"/>
<circle cx="770.3" cy="598.2" r="0.7" fill="#5a5fd8" opacity="0.5"/>
<circle cx="769.2" cy="589.4" r="0.7" fill="#5a5fd8" opacity="0.5"/>
<circle cx="772.6" cy="585.2" r="0.7" fill="#5a5fd8" opacity="0.5"/>
<circle cx="771.1" cy="566.2" r="0.7" fill="#5a5fd8" opacity="0.5"/>
<circle cx="770.0" cy="605.2" r="0.7" fill="#5a5fd8" opacity="0.5"/>
<line x1="770.9" y1="579.8" x2="770.9" y2="589.4" stroke="#222" stroke-width="1.2"/>
<circle cx="790.8" cy="577.0" r="0.7" fill="#8f93e8" opacity="0.5"/>
<circle cx="790.1" cy="606.4" r="0.7" fill="#8f93e8" opacity="0.5"/>
<circle cx="788.3" cy="555.8" r="0.7" fill="#8f93e8" opacity="0.5"/>
<circle cx="787.5" cy="637.5" r="0.7" fill="#8f93e8" opacity="0.5"/>
<circle cx="787.7" cy="577.0" r="0.7" fill="#8f93e8" opacity="0.5"/>
<circle cx="787.5" cy="567.2" r="0.7" fill="#8f93e8" opacity="0.5"/>
<circle cx="789.0" cy="626.9" r="0.7" fill="#8f93e8" opacity="0.5"/>
<circle cx="790.8" cy="598.7" r="0.7" fill="#8f93e8" opacity="0.5"/>
<circle cx="789.5" cy="574.2" r="0.7" fill="#8f93e8" opacity="0.5"/>
<circle cx="788.8" cy="586.3" r="0.7" fill="#8f93e8" opacity="0.5"/>
<circle cx="788.3" cy="537.4" r="0.7" fill="#8f93e8" opacity="0.5"/>
<circle cx="789.4" cy="540.1" r="0.7" fill="#8f93e8" opacity="0.5"/>
<circle cx="789.8" cy="619.6" r="0.7" fill="#8f93e8" opacity="0.5"/>
<circle cx="788.8" cy="627.9" r="0.7" fill="#8f93e8" opacity="0.5"/>
<circle cx="790.8" cy="595.0" r="0.7" fill="#8f93e8" opacity="0.5"/>
<circle cx="790.9" cy="577.1" r="0.7" fill="#8f93e8" opacity="0.5"/>
<circle cx="788.3" cy="580.4" r="0.7" fill="#8f93e8" opacity="0.5"/>
<circle cx="788.6" cy="575.0" r="0.7" fill="#8f93e8" opacity="0.5"/>
<circle cx="790.4" cy="539.1" r="0.7" fill="#8f93e8" opacity="0.5"/>
<circle cx="787.5" cy="611.4" r="0.7" fill="#8f93e8" opacity="0.5"/>
<circle cx="789.7" cy="573.1" r="0.7" fill="#8f93e8" opacity="0.5"/>
<circle cx="790.9" cy="618.3" r="0.7" fill="#8f93e8" opacity="0.5"/>
<circle cx="790.1" cy="569.0" r="0.7" fill="#8f93e8" opacity="0.5"/>
<circle cx="790.7" cy="577.0" r="0.7" fill="#8f93e8" opacity="0.5"/>
<circle cx="789.5" cy="590.5" r="0.7" fill="#8f93e8" opacity="0.5"/>
<circle cx="790.1" cy="599.7" r="0.7" fill="#8f93e8" opacity="0.5"/>
<circle cx="788.3" cy="564.9" r="0.7" fill="#8f93e8" opacity="0.5"/>
<circle cx="787.8" cy="568.6" r="0.7" fill="#8f93e8" opacity="0.5"/>
<circle cx="788.2" cy="596.0" r="0.7" fill="#8f93e8" opacity="0.5"/>
<circle cx="787.9" cy="579.9" r="0.7" fill="#8f93e8" opacity="0.5"/>
<line x1="789.1" y1="576.8" x2="789.1" y2="586.4" stroke="#222" stroke-width="1.2"/>
<circle cx="817.5" cy="571.9" r="0.7" fill="#e05a60" opacity="0.5"/>
<circle cx="815.7" cy="573.6" r="0.7" fill="#e05a60" opacity="0.5"/>
<circle cx="815.7" cy="516.7" r="0.7" fill="#e05a60" opacity="0.5"/>
<circle cx="818.3" cy="557.9" r="0.7" fill="#e05a60" opacity="0.5"/>
<circle cx="815.5" cy="536.6" r="0.7" fill="#e05a60" opacity="0.5"/>
<circle cx="816.6" cy="607.5" r="0.7" fill="#e05a60" opacity="0.5"/>
<circle cx="818.0" cy="525.1" r="0.7" fill="#e05a60" opacity="0.5"/>
<circle cx="817.2" cy="538.7" r="0.7" fill="#e05a60" opacity="0.5"/>
<circle cx="817.9" cy="591.1" r="0.7" fill="#e05a60" opacity="0.5"/>
<circle cx="816.7" cy="563.8" r="0.7" fill="#e05a60" opacity="0.5"/>
<circle cx="815.7" cy="579.4" r="0.7" fill="#e05a60" opacity="0.5"/>
<circle cx="815.2" cy="579.8" r="0.7" fill="#e05a60" opacity="0.5"/>
<circle cx="815.5" cy="577.1" r="0.7" fill="#e05a60" opacity="0.5"/>
<circle cx="818.1" cy="599.8" r="0.7" fill="#e05a60" opacity="0.5"/>
<circle cx="815.5" cy="572.8" r="0.7" fill="#e05a60" opacity="0.5"/>
<circle cx="815.9" cy="545.7" r="0.7" fill="#e05a60" opacity="0.5"/>
<circle cx="815.6" cy="558.7" r="0.7" fill="#e05a60" opacity="0.5"/>
<circle cx="816.7" cy="588.5" r="0.7" fill="#e05a60" opacity="0.5"/>
<circle cx="815.4" cy="591.7" r="0.7" fill="#e05a60" opacity="0.5"/>
<circle cx="818.5" cy="523.1" r="0.7" fill="#e05a60" opacity="0.5"/>
<circle cx="817.4" cy="522.6" r="0.7" fill="#e05a60" opacity="0.5"/>
<circle cx="815.7" cy="552.4" r="0.7" fill="#e05a60" opacity="0.5"/>
<circle cx="815.9" cy="589.7" r="0.7" fill="#e05a60" opacity="0.5"/>
<circle cx="815.7" cy="567.4" r="0.7" fill="#e05a60" opacity="0.5"/>
<circle cx="818.5" cy="618.6" r="0.7" fill="#e05a60" opacity="0.5"/>
<circle cx="818.3" cy="514.9" r="0.7" fill="#e05a60" opacity="0.5"/>
<circle cx="818.2" cy="554.0" r="0.7" fill="#e05a60" opacity="0.5"/>
<circle cx="815.2" cy="558.8" r="0.7" fill="#e05a60" opacity="0.5"/>
<circle cx="818.5" cy="573.2" r="0.7" fill="#e05a60" opacity="0.5"/>
<circle cx="815.0" cy="590.0" r="0.7" fill="#e05a60" opacity="0.5"/>
<line x1="816.8" y1="565.4" x2="816.8" y2="575.0" stroke="#222" stroke-width="1.2"/>
<circle cx="833.8" cy="588.3" r="0.7" fill="#ea8a90" opacity="0.5"/>
<circle cx="833.3" cy="616.4" r="0.7" fill="#ea8a90" opacity="0.5"/>
<circle cx="833.9" cy="581.5" r="0.7" fill="#ea8a90" opacity="0.5"/>
<circle cx="834.8" cy="621.4" r="0.7" fill="#ea8a90" opacity="0.5"/>
<circle cx="835.3" cy="581.7" r="0.7" fill="#ea8a90" opacity="0.5"/>
<circle cx="833.7" cy="604.8" r="0.7" fill="#ea8a90" opacity="0.5"/>
<circle cx="835.8" cy="578.5" r="0.7" fill="#ea8a90" opacity="0.5"/>
<circle cx="834.0" cy="558.8" r="0.7" fill="#ea8a90" opacity="0.5"/>
<circle cx="835.4" cy="587.0" r="0.7" fill="#ea8a90" opacity="0.5"/>
<circle cx="835.0" cy="591.1" r="0.7" fill="#ea8a90" opacity="0.5"/>
<circle cx="835.5" cy="598.4" r="0.7" fill="#ea8a90" opacity="0.5"/>
<circle cx="835.8" cy="579.9" r="0.7" fill="#ea8a90" opacity="0.5"/>
<circle cx="834.0" cy="584.0" r="0.7" fill="#ea8a90" opacity="0.5"/>
<circle cx="833.5" cy="625.3" r="0.7" fill="#ea8a90" opacity="0.5"/>
<circle cx="835.8" cy="598.6" r="0.7" fill="#ea8a90" opacity="0.5"/>
<circle cx="833.4" cy="620.3" r="0.7" fill="#ea8a90" opacity="0.5"/>
<circle cx="836.3" cy="587.9" r="0.7" fill="#ea8a90" opacity="0.5"/>
<circle cx="836.4" cy="616.0" r="0.7" fill="#ea8a90" opacity="0.5"/>
<circle cx="836.5" cy="600.2" r="0.7" fill="#ea8a90" opacity="0.5"/>
<circle cx="835.0" cy="595.8" r="0.7" fill="#ea8a90" opacity="0.5"/>
<circle cx="833.9" cy="582.9" r="0.7" fill="#ea8a90" opacity="0.5"/>
<circle cx="836.2" cy="609.5" r="0.7" fill="#ea8a90" opacity="0.5"/>
<circle cx="834.6" cy="605.6" r="0.7" fill="#ea8a90" opacity="0.5"/>
<circle cx="835.4" cy="585.4" r="0.7" fill="#ea8a90" opacity="0.5"/>
<circle cx="834.9" cy="567.0" r="0.7" fill="#ea8a90" opacity="0.5"/>
<circle cx="835.1" cy="595.1" r="0.7" fill="#ea8a90" opacity="0.5"/>
<circle cx="836.2" cy="568.4" r="0.7" fill="#ea8a90" opacity="0.5"/>
<circle cx="836.4" cy="569.9" r="0.7" fill="#ea8a90" opacity="0.5"/>
<circle cx="834.6" cy="612.2" r="0.7" fill="#ea8a90" opacity="0.5"/>
<circle cx="836.0" cy="561.9" r="0.7" fill="#ea8a90" opacity="0.5"/>
<line x1="835.0" y1="591.2" x2="835.0" y2="600.7" stroke="#222" stroke-width="1.2"/>
<text x="661.2" y="464.1" font-size="19" text-anchor="end" fill="#000" >.2</text>
<text x="661.2" y="523.9" font-size="19" text-anchor="end" fill="#000" >.1</text>
<text x="661.2" y="583.8" font-size="19" text-anchor="end" fill="#000" >0</text>
<text x="661.2" y="643.6" font-size="19" text-anchor="end" fill="#000" >-.1</text>
<text x="688.2" y="464.1" font-size="17.5" text-anchor="middle" font-style="italic" fill="#000" >85</text>
<text x="689.2" y="477.9" font-size="13.6" text-anchor="middle" font-style="italic" fill="#000" letter-spacing="1.9" stroke="#000" stroke-width="0.35">***</text>
<path d="M677.6,482.6 Q688.2,473.2 698.8,482.6" fill="none" stroke="#444" stroke-width="0.8"/>
<text x="734.1" y="464.1" font-size="17.5" text-anchor="middle" font-style="italic" fill="#000" >54</text>
<text x="734.1" y="475.0" font-size="12.3" text-anchor="middle" font-style="italic" fill="#000" letter-spacing="0.4">n.s.</text>
<path d="M723.5,482.6 Q734.1,473.2 744.7,482.6" fill="none" stroke="#444" stroke-width="0.8"/>
<text x="780.0" y="464.1" font-size="17.5" text-anchor="middle" font-style="italic" fill="#000" >52</text>
<text x="780.0" y="475.0" font-size="12.3" text-anchor="middle" font-style="italic" fill="#000" letter-spacing="0.4">n.s.</text>
<path d="M769.4,482.6 Q780.0,473.2 790.6,482.6" fill="none" stroke="#444" stroke-width="0.8"/>
<text x="825.9" y="464.1" font-size="17.5" text-anchor="middle" font-style="italic" fill="#000" >83</text>
<text x="826.9" y="477.9" font-size="13.6" text-anchor="middle" font-style="italic" fill="#000" letter-spacing="1.9" stroke="#000" stroke-width="0.35">***</text>
<path d="M815.3,482.6 Q825.9,473.2 836.5,482.6" fill="none" stroke="#444" stroke-width="0.8"/>
<text x="0" y="0" font-size="18.7" text-anchor="middle" transform="translate(757.2,289.1) rotate(-90)">VS</text>
<text x="0" y="0" font-size="18.7" text-anchor="middle" transform="translate(778.8,287.8) rotate(-90)">pattern expression</text>
<text x="0" y="0" font-size="18.7" text-anchor="middle" transform="translate(27.2,548.5) rotate(-90)">dACC</text>
<text x="0" y="0" font-size="18.7" text-anchor="middle" transform="translate(48.8,547.8) rotate(-90)">pattern expression</text>
<text x="0" y="0" font-size="18.7" text-anchor="middle" transform="translate(316.9,546.3) rotate(-90)">pre-SMA</text>
<text x="0" y="0" font-size="18.7" text-anchor="middle" transform="translate(339.2,547.8) rotate(-90)">pattern expression</text>
<text x="0" y="0" font-size="18.7" text-anchor="middle" transform="translate(608.7,548.2) rotate(-90)">dmPFC</text>
<text x="0" y="0" font-size="18.7" text-anchor="middle" transform="translate(630.7,547.8) rotate(-90)">pattern expression</text>
<text x="858.0" y="399.2" font-size="18.6" text-anchor="middle" fill="#000" >Guilt</text>
<text x="858.0" y="416.0" font-size="18.6" text-anchor="middle" fill="#000" >pattern</text>
<text x="950.3" y="399.2" font-size="18.6" text-anchor="middle" fill="#000" >Anger</text>
<text x="950.3" y="416.0" font-size="18.6" text-anchor="middle" fill="#000" >pattern</text>
<text x="127.4" y="656.3" font-size="18.6" text-anchor="middle" fill="#000" >Guilt</text>
<text x="127.4" y="673.0" font-size="18.6" text-anchor="middle" fill="#000" >pattern</text>
<text x="219.9" y="656.3" font-size="18.6" text-anchor="middle" fill="#000" >Anger</text>
<text x="219.9" y="673.0" font-size="18.6" text-anchor="middle" fill="#000" >pattern</text>
<text x="416.4" y="656.5" font-size="18.6" text-anchor="middle" fill="#000" >Guilt</text>
<text x="416.4" y="673.5" font-size="18.6" text-anchor="middle" fill="#000" >pattern</text>
<text x="510.9" y="656.5" font-size="18.6" text-anchor="middle" fill="#000" >Anger</text>
<text x="510.9" y="673.5" font-size="18.6" text-anchor="middle" fill="#000" >pattern</text>
<text x="710.8" y="656.3" font-size="18.6" text-anchor="middle" fill="#000" >Guilt</text>
<text x="710.8" y="673.0" font-size="18.6" text-anchor="middle" fill="#000" >pattern</text>
<text x="803.2" y="656.3" font-size="18.6" text-anchor="middle" fill="#000" >Anger</text>
<text x="803.2" y="673.0" font-size="18.6" text-anchor="middle" fill="#000" >pattern</text>
<rect x="886.1" y="491.1" width="10.4" height="9.8" fill="#7074e2"/>
<text x="901.7" y="501.5" font-size="18.7" text-anchor="start" fill="#000" >High guilt</text>
<rect x="886.1" y="520.4" width="10.4" height="9.8" fill="#c5c7f5"/>
<text x="901.7" y="530.8" font-size="18.7" text-anchor="start" fill="#000" >Low guilt</text>
<rect x="886.1" y="549.7" width="10.4" height="9.8" fill="#e8686c"/>
<text x="901.7" y="560.1" font-size="18.7" text-anchor="start" fill="#000" >High anger</text>
<rect x="886.1" y="579.0" width="10.4" height="9.8" fill="#f8c5c8"/>
<text x="901.7" y="589.4" font-size="18.7" text-anchor="start" fill="#000" >Low anger</text>
</svg>
</body></html>
